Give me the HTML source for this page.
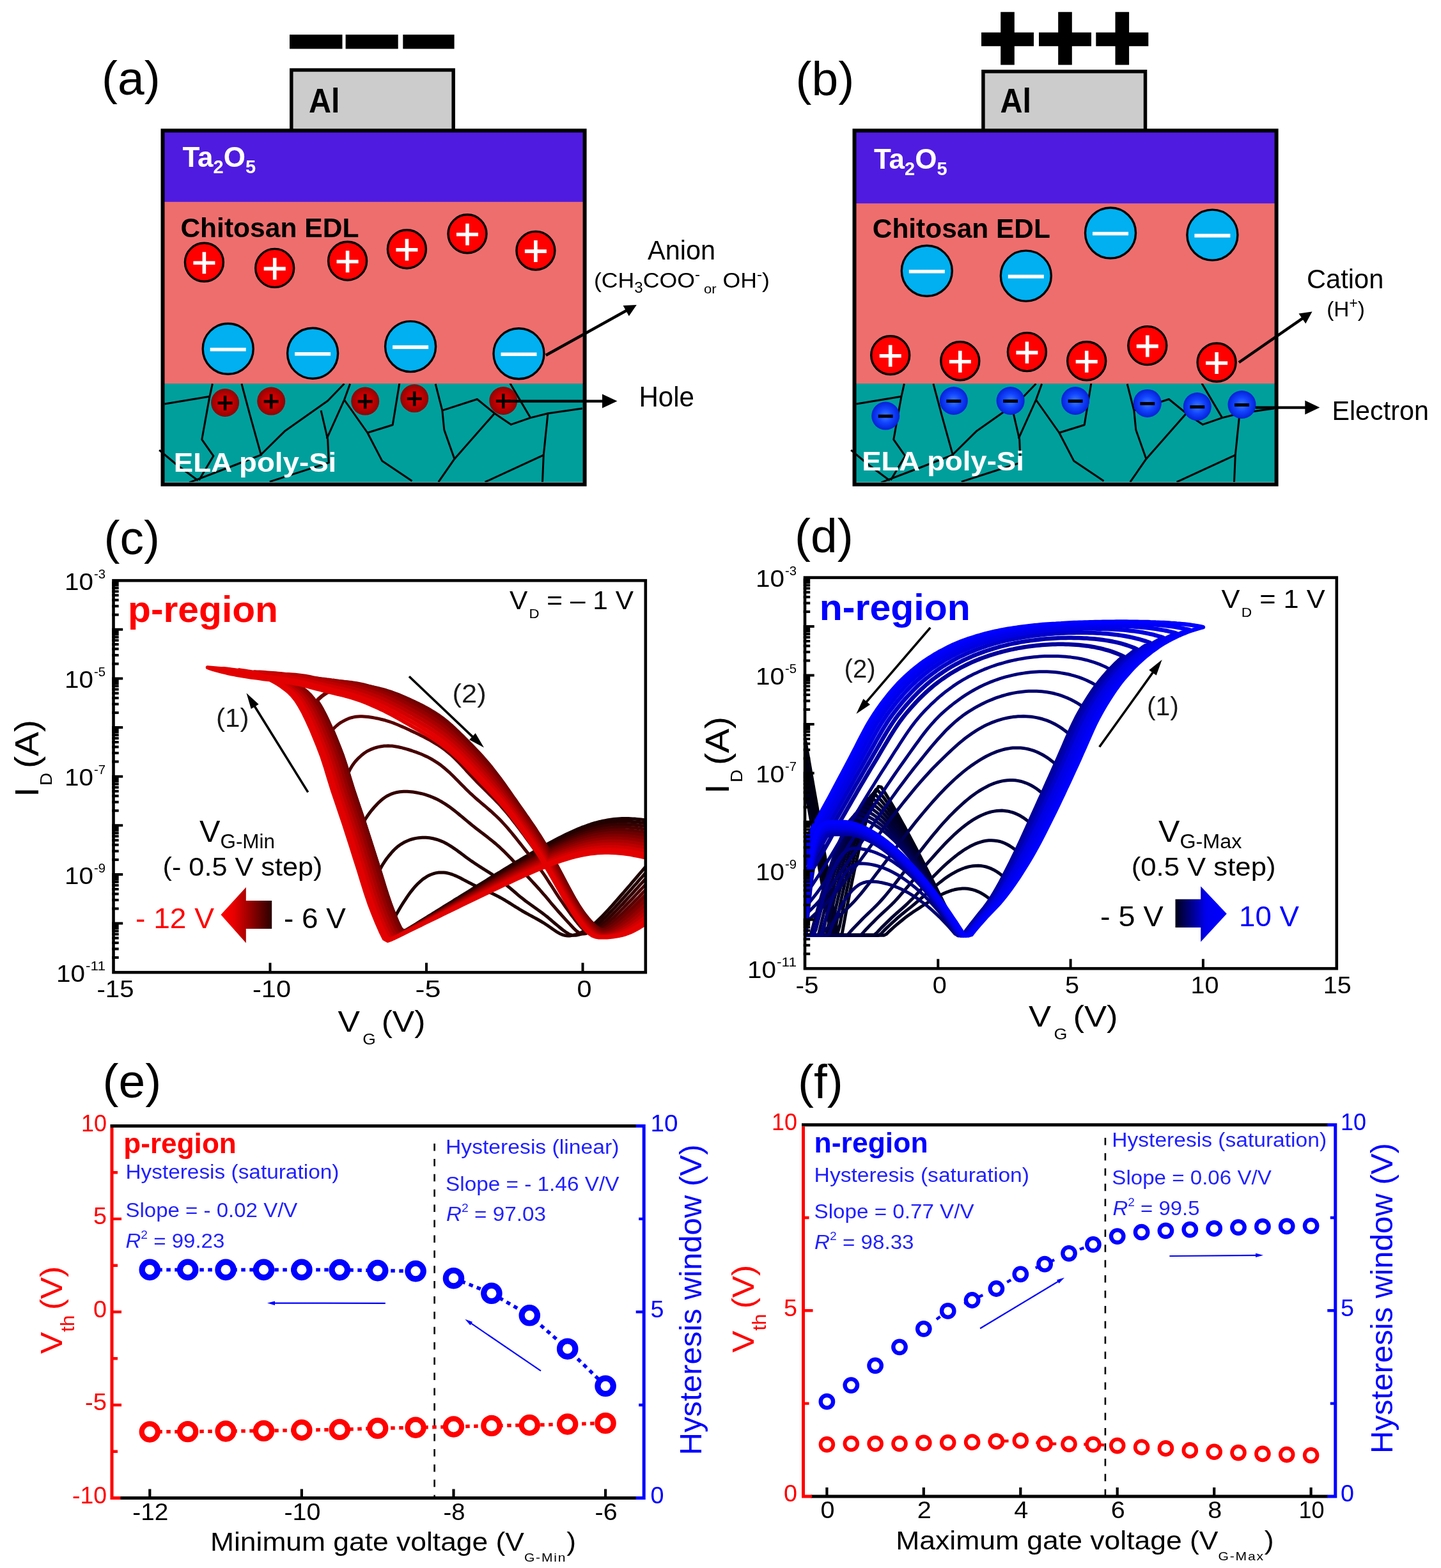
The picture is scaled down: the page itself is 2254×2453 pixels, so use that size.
<!DOCTYPE html>
<html lang="en">
<head>
<meta charset="utf-8">
<title>Figure</title>
<style>
html,body{margin:0;padding:0;background:#fff}
body{width:2254px;height:2453px;overflow:hidden;font-family:"Liberation Sans",sans-serif}
svg{display:block}
</style>
</head>
<body>
<svg width="2254" height="2453" viewBox="0 0 2254 2453" font-family='"Liberation Sans", sans-serif'>
<rect width="2254" height="2453" fill="#fff"/>
<defs><radialGradient id="gHole" cx="50%" cy="50%" r="50%"><stop offset="0" stop-color="#ee0000"/><stop offset="0.55" stop-color="#c40000"/><stop offset="1" stop-color="#8c0505"/></radialGradient><radialGradient id="gElec" cx="50%" cy="50%" r="50%"><stop offset="0" stop-color="#3f7bff"/><stop offset="0.5" stop-color="#1246ff"/><stop offset="1" stop-color="#0420d8"/></radialGradient></defs>
<rect x="455.8" y="109.5" width="253.4" height="96" fill="#cccccc" stroke="#000" stroke-width="5.5"/>
<rect x="252.5" y="202.3" width="664.1" height="114.5" fill="#4f1be0"/>
<rect x="252.5" y="315.8" width="664.1" height="284.2" fill="#ee6e6e"/>
<rect x="252.5" y="600" width="664.1" height="159.8" fill="#009f9c"/>
<clipPath id="clip0"><rect x="243.5" y="600" width="674.1" height="160.8"/></clipPath>
<g clip-path="url(#clip0)" fill="none" stroke="#000" stroke-width="3" stroke-linejoin="round"><polyline points="257.3,632.1 327.9,620.3"/><polyline points="332.4,600.3 327.9,620.3 315.8,687.6 333.9,713.3 311.2,751.2"/><polyline points="249.1,704.2 276.4,727 309.7,751.8"/><polyline points="296.1,754.8 361.2,730 409.7,711.2"/><polyline points="377.9,600.3 391.5,651.2 408.2,711.2 446.1,673.9 512.7,627 538.5,600.3"/><polyline points="502.1,642.1 512.7,687.6 514.2,723.9 421.8,753.6"/><polyline points="547.6,600.6 538.5,625.5 511.2,686.1"/><polyline points="538.5,625.5 574.8,677 597.6,720.9 644.5,752.4"/><polyline points="574.8,677 614.2,664.8 624.8,599.7"/><polyline points="681.2,600.6 691.8,642.1 694.8,672.4 710.9,717.9 685.8,754.2"/><polyline points="691.8,642.1 746.4,624.5 773.6,646.7 799.4,664.2 829.7,653.6 857,646.7 910.9,639.1"/><polyline points="710.9,717.9 773.6,646.7"/><polyline points="797.9,599.7 829.7,653.6"/><polyline points="857,646.7 850.3,711.8 848.5,754.2"/><polyline points="850.3,711.8 758.5,754.2"/></g>
<rect x="256.5" y="754.2" width="656.1" height="1.6" fill="#d8f0ee" opacity="0.85"/>
<rect x="254.5" y="204.3" width="660.1" height="553.5" fill="none" stroke="#000" stroke-width="6"/>
<rect x="453" y="54.2" width="82.5" height="22.2" fill="#000"/>
<rect x="540.6" y="54.2" width="82.1" height="22.2" fill="#000"/>
<rect x="630.3" y="54.2" width="80.3" height="22.2" fill="#000"/>
<text x="159" y="148" font-size="75">(a)</text>
<text x="483" y="175.5" font-size="54" font-weight="bold" textLength="48.5" lengthAdjust="spacingAndGlyphs">Al</text>
<text x="285.5" y="261" font-size="44" fill="#fff" font-weight="bold">Ta<tspan font-size="29" dy="10">2</tspan><tspan dy="-10">O</tspan><tspan font-size="29" dy="10">5</tspan></text>
<text x="282.4" y="371" font-size="42" font-weight="bold" textLength="279" lengthAdjust="spacingAndGlyphs">Chitosan EDL</text>
<circle cx="319.4" cy="410.3" r="30" fill="#fe0000" stroke="#000" stroke-width="3.4"/><path d="M302.4 411.3H336.4M319.4 394.3V428.3" stroke="#fff" stroke-width="5.6" fill="none"/>
<circle cx="429.7" cy="419.4" r="30" fill="#fe0000" stroke="#000" stroke-width="3.4"/><path d="M412.7 420.4H446.7M429.7 403.4V437.4" stroke="#fff" stroke-width="5.6" fill="none"/>
<circle cx="543.6" cy="408.2" r="30" fill="#fe0000" stroke="#000" stroke-width="3.4"/><path d="M526.6 409.2H560.6M543.6 392.2V426.2" stroke="#fff" stroke-width="5.6" fill="none"/>
<circle cx="636.4" cy="389.7" r="30" fill="#fe0000" stroke="#000" stroke-width="3.4"/><path d="M619.4 390.7H653.4M636.4 373.7V407.7" stroke="#fff" stroke-width="5.6" fill="none"/>
<circle cx="731" cy="365.8" r="30" fill="#fe0000" stroke="#000" stroke-width="3.4"/><path d="M714 366.8H748M731 349.8V383.8" stroke="#fff" stroke-width="5.6" fill="none"/>
<circle cx="837.9" cy="392.1" r="30" fill="#fe0000" stroke="#000" stroke-width="3.4"/><path d="M820.9 393.1H854.9M837.9 376.1V410.1" stroke="#fff" stroke-width="5.6" fill="none"/>
<circle cx="356.7" cy="545.8" r="39.5" fill="#00b0f0" stroke="#000" stroke-width="3.4"/><path d="M328.7 546.8H384.7" stroke="#fff" stroke-width="5.6" fill="none"/>
<circle cx="489.1" cy="552.7" r="39.5" fill="#00b0f0" stroke="#000" stroke-width="3.4"/><path d="M461.1 553.7H517.1" stroke="#fff" stroke-width="5.6" fill="none"/>
<circle cx="642.1" cy="542.1" r="39.5" fill="#00b0f0" stroke="#000" stroke-width="3.4"/><path d="M614.1 543.1H670.1" stroke="#fff" stroke-width="5.6" fill="none"/>
<circle cx="811.5" cy="553.3" r="39.5" fill="#00b0f0" stroke="#000" stroke-width="3.4"/><path d="M783.5 554.3H839.5" stroke="#fff" stroke-width="5.6" fill="none"/>
<circle cx="352.1" cy="630" r="22" fill="url(#gHole)"/><path d="M340.6 630.5H363.6M352.1 619V642" stroke="#000" stroke-width="4.6" fill="none"/>
<circle cx="424.2" cy="627.6" r="22" fill="url(#gHole)"/><path d="M412.7 628.1H435.7M424.2 616.6V639.6" stroke="#000" stroke-width="4.6" fill="none"/>
<circle cx="571.2" cy="627.6" r="22" fill="url(#gHole)"/><path d="M559.7 628.1H582.7M571.2 616.6V639.6" stroke="#000" stroke-width="4.6" fill="none"/>
<circle cx="648.2" cy="623.3" r="22" fill="url(#gHole)"/><path d="M636.7 623.8H659.7M648.2 612.3V635.3" stroke="#000" stroke-width="4.6" fill="none"/>
<circle cx="787.3" cy="627" r="22" fill="url(#gHole)"/><path d="M775.8 627.5H798.8M787.3 616V639" stroke="#000" stroke-width="4.6" fill="none"/>
<text x="271.8" y="737.6" font-size="42" fill="#fff" font-weight="bold" textLength="254.5" lengthAdjust="spacingAndGlyphs">ELA poly-Si</text>
<line x1="853.9" y1="555.8" x2="980.9" y2="485.3" stroke="#000" stroke-width="4.5"/><path d="M995.8 477L983.8 494.5L979.2 486.2L974.6 477.9Z" fill="#000"/>
<line x1="793.3" y1="627.6" x2="944" y2="627.6" stroke="#000" stroke-width="4.2"/><path d="M965.5 627.6L942 638.6L942 627.6L942 616.6Z" fill="#000"/>
<text x="1066" y="406.4" font-size="43" text-anchor="middle" textLength="106" lengthAdjust="spacingAndGlyphs">Anion</text>
<text x="929" y="449.7" font-size="34" textLength="275" lengthAdjust="spacingAndGlyphs">(CH<tspan font-size="23" dy="8">3</tspan><tspan dy="-8">COO</tspan><tspan font-size="23" dy="-13">-</tspan><tspan font-size="21" dy="22"> or</tspan><tspan dy="-9"> OH</tspan><tspan font-size="23" dy="-13">-</tspan><tspan dy="13">)</tspan></text>
<text x="999.4" y="636" font-size="44" textLength="86.5" lengthAdjust="spacingAndGlyphs">Hole</text>
<rect x="1537.9" y="111.8" width="253.6" height="94" fill="#cccccc" stroke="#000" stroke-width="5.5"/>
<rect x="1334.5" y="202.3" width="664.1" height="116.9" fill="#4f1be0"/>
<rect x="1334.5" y="318.2" width="664.1" height="281.8" fill="#ee6e6e"/>
<rect x="1334.5" y="600" width="664.1" height="159.8" fill="#009f9c"/>
<clipPath id="clip1082"><rect x="1325.5" y="600" width="674.1" height="160.8"/></clipPath>
<g clip-path="url(#clip1082)" fill="none" stroke="#000" stroke-width="3" stroke-linejoin="round"><polyline points="1339.3,632.1 1409.9,620.3"/><polyline points="1414.4,600.3 1409.9,620.3 1397.8,687.6 1415.9,713.3 1393.2,751.2"/><polyline points="1331.1,704.2 1358.4,727 1391.7,751.8"/><polyline points="1378.1,754.8 1443.2,730 1491.7,711.2"/><polyline points="1459.9,600.3 1473.5,651.2 1490.2,711.2 1528.1,673.9 1594.7,627 1620.5,600.3"/><polyline points="1584.1,642.1 1594.7,687.6 1596.2,723.9 1503.8,753.6"/><polyline points="1629.6,600.6 1620.5,625.5 1593.2,686.1"/><polyline points="1620.5,625.5 1656.8,677 1679.6,720.9 1726.5,752.4"/><polyline points="1656.8,677 1696.2,664.8 1706.8,599.7"/><polyline points="1763.2,600.6 1773.8,642.1 1776.8,672.4 1792.9,717.9 1767.8,754.2"/><polyline points="1773.8,642.1 1828.4,624.5 1855.6,646.7 1881.4,664.2 1911.7,653.6 1939,646.7 1992.9,639.1"/><polyline points="1792.9,717.9 1855.6,646.7"/><polyline points="1879.9,599.7 1911.7,653.6"/><polyline points="1939,646.7 1932.3,711.8 1930.5,754.2"/><polyline points="1932.3,711.8 1840.5,754.2"/></g>
<rect x="1338.5" y="754.2" width="656.1" height="1.6" fill="#d8f0ee" opacity="0.85"/>
<rect x="1336.5" y="204.3" width="660.1" height="553.5" fill="none" stroke="#000" stroke-width="6"/>
<path d="M1535 61.5H1617M1576 18.8V101.5" stroke="#000" stroke-width="21.6" fill="none"/>
<path d="M1625 61.5H1707M1666 18.8V101.5" stroke="#000" stroke-width="21.6" fill="none"/>
<path d="M1714.3 61.5H1796.3M1755.3 18.8V101.5" stroke="#000" stroke-width="21.6" fill="none"/>
<text x="1244.5" y="148.5" font-size="75">(b)</text>
<text x="1564.5" y="175.8" font-size="54" font-weight="bold" textLength="48.5" lengthAdjust="spacingAndGlyphs">Al</text>
<text x="1367" y="263.6" font-size="44" fill="#fff" font-weight="bold">Ta<tspan font-size="29" dy="10">2</tspan><tspan dy="-10">O</tspan><tspan font-size="29" dy="10">5</tspan></text>
<text x="1364.8" y="372.1" font-size="42" font-weight="bold" textLength="278" lengthAdjust="spacingAndGlyphs">Chitosan EDL</text>
<circle cx="1449.8" cy="423.8" r="39.5" fill="#00b0f0" stroke="#000" stroke-width="3.4"/><path d="M1421.8 424.8H1477.8" stroke="#fff" stroke-width="5.6" fill="none"/>
<circle cx="1604.8" cy="431.6" r="39.5" fill="#00b0f0" stroke="#000" stroke-width="3.4"/><path d="M1576.8 432.6H1632.8" stroke="#fff" stroke-width="5.6" fill="none"/>
<circle cx="1737" cy="364.5" r="39.5" fill="#00b0f0" stroke="#000" stroke-width="3.4"/><path d="M1709 365.5H1765" stroke="#fff" stroke-width="5.6" fill="none"/>
<circle cx="1896.4" cy="367.6" r="39.5" fill="#00b0f0" stroke="#000" stroke-width="3.4"/><path d="M1868.4 368.6H1924.4" stroke="#fff" stroke-width="5.6" fill="none"/>
<circle cx="1392.7" cy="555.8" r="30" fill="#fe0000" stroke="#000" stroke-width="3.4"/><path d="M1375.7 556.8H1409.7M1392.7 539.8V573.8" stroke="#fff" stroke-width="5.6" fill="none"/>
<circle cx="1501.8" cy="564.8" r="30" fill="#fe0000" stroke="#000" stroke-width="3.4"/><path d="M1484.8 565.8H1518.8M1501.8 548.8V582.8" stroke="#fff" stroke-width="5.6" fill="none"/>
<circle cx="1606.4" cy="550.6" r="30" fill="#fe0000" stroke="#000" stroke-width="3.4"/><path d="M1589.4 551.6H1623.4M1606.4 534.6V568.6" stroke="#fff" stroke-width="5.6" fill="none"/>
<circle cx="1699.7" cy="564.8" r="30" fill="#fe0000" stroke="#000" stroke-width="3.4"/><path d="M1682.7 565.8H1716.7M1699.7 548.8V582.8" stroke="#fff" stroke-width="5.6" fill="none"/>
<circle cx="1794.8" cy="540.6" r="30" fill="#fe0000" stroke="#000" stroke-width="3.4"/><path d="M1777.8 541.6H1811.8M1794.8 524.6V558.6" stroke="#fff" stroke-width="5.6" fill="none"/>
<circle cx="1903.1" cy="567" r="30" fill="#fe0000" stroke="#000" stroke-width="3.4"/><path d="M1886.1 568H1920.1M1903.1 551V585" stroke="#fff" stroke-width="5.6" fill="none"/>
<circle cx="1385.2" cy="650.6" r="22" fill="url(#gElec)"/><path d="M1373.7 651.1H1396.7" stroke="#000" stroke-width="5" fill="none"/>
<circle cx="1491.8" cy="627" r="22" fill="url(#gElec)"/><path d="M1480.3 627.5H1503.3" stroke="#000" stroke-width="5" fill="none"/>
<circle cx="1580.6" cy="627" r="22" fill="url(#gElec)"/><path d="M1569.1 627.5H1592.1" stroke="#000" stroke-width="5" fill="none"/>
<circle cx="1682.1" cy="627" r="22" fill="url(#gElec)"/><path d="M1670.6 627.5H1693.6" stroke="#000" stroke-width="5" fill="none"/>
<circle cx="1794.8" cy="630.9" r="22" fill="url(#gElec)"/><path d="M1783.3 631.4H1806.3" stroke="#000" stroke-width="5" fill="none"/>
<circle cx="1872.8" cy="636.1" r="22" fill="url(#gElec)"/><path d="M1861.3 636.6H1884.3" stroke="#000" stroke-width="5" fill="none"/>
<circle cx="1942.5" cy="633" r="22" fill="url(#gElec)"/><path d="M1931 633.5H1954" stroke="#000" stroke-width="5" fill="none"/>
<text x="1348.2" y="736.1" font-size="42" fill="#fff" font-weight="bold" textLength="253.6" lengthAdjust="spacingAndGlyphs">ELA poly-Si</text>
<line x1="1937.9" y1="567" x2="2038.5" y2="497.3" stroke="#000" stroke-width="4.5"/><path d="M2052.5 487.6L2042.3 506.2L2036.9 498.4L2031.5 490.6Z" fill="#000"/>
<line x1="1963.7" y1="637.6" x2="2043.3" y2="637.6" stroke="#000" stroke-width="4.2"/><path d="M2064.3 637.6L2041.3 648.6L2041.3 637.6L2041.3 626.6Z" fill="#000"/>
<text x="2044" y="451.2" font-size="43" textLength="120.3" lengthAdjust="spacingAndGlyphs">Cation</text>
<text x="2075.2" y="495.2" font-size="34" textLength="59.7" lengthAdjust="spacingAndGlyphs">(H<tspan font-size="23" dy="-13">+</tspan><tspan dy="13">)</tspan></text>
<text x="2083.4" y="657.3" font-size="43" textLength="151.5" lengthAdjust="spacingAndGlyphs">Electron</text>
<clipPath id="clipC"><rect x="177.5" y="908.2" width="832.3" height="613"/></clipPath>
<g clip-path="url(#clipC)" fill="none" stroke-width="5" stroke-linejoin="round" stroke-linecap="round"><path d="M1009.3 1283L1006 1282.5L1002.7 1282.1L999.4 1281.7L996.2 1281.4L992.9 1281.1L989.6 1280.9L986.3 1280.7L983 1280.6L979.7 1280.6L976.4 1280.6L973.1 1280.6L969.9 1280.8L966.6 1281L963.3 1281.2L960 1281.6L956.7 1282L953.4 1282.4L950.1 1283L946.8 1283.6L943.6 1284.2L940.3 1285L937 1285.7L933.7 1286.6L930.4 1287.5L927.1 1288.5L923.8 1289.5L920.5 1290.6L917.3 1291.8L914 1293L910.7 1294.2L907.4 1295.5L904.1 1296.9L900.8 1298.3L897.5 1299.7L894.2 1301.2L891 1302.7L887.7 1304.2L884.4 1305.8L881.1 1307.4L877.8 1309.1L874.5 1310.8L871.2 1312.5L867.9 1314.2L864.7 1315.9L861.4 1317.7L858.1 1319.5L854.8 1321.3L851.5 1323.1L848.2 1325L844.9 1326.8L841.6 1328.7L838.4 1330.6L835.1 1332.5L831.8 1334.4L828.5 1336.3L825.2 1338.3L821.9 1340.2L818.6 1342.1L815.3 1344.1L812.1 1346.1L808.8 1348L805.5 1350L802.2 1352L798.9 1354L795.6 1356L792.3 1357.9L789 1359.9L785.8 1361.9L782.5 1364L779.2 1366L775.9 1368L772.6 1370L769.3 1372L766 1374L762.7 1376L759.5 1378.1L756.2 1380.1L752.9 1382.1L749.6 1384.1L746.3 1386.2L743 1388.2L739.7 1390.2L736.4 1392.3L733.2 1394.3L729.9 1396.3L726.6 1398.4L723.3 1400.4L720 1402.4L716.7 1404.5L713.4 1406.5L710.1 1408.5L706.9 1410.6L703.6 1412.6L700.3 1414.6L697 1416.7L693.7 1418.7L690.4 1420.8L687.1 1422.8L683.8 1424.8L680.6 1426.9L677.3 1428.9L674 1431L670.7 1433L667.4 1435.1L664.1 1437.1L660.8 1439.1L657.5 1441.2L654.3 1443.2L651 1445.3L647.7 1447.3L644.4 1449.3L641.1 1451.4L637.8 1453.4L634.5 1455.3L631.2 1456.4L628 1454.7L624.7 1449.3L621.4 1442L618.1 1434.2L620.7 1429.2L623.4 1424.5L626 1420L628.6 1415.7L631.2 1411.6L633.9 1407.6L636.5 1403.6L639.1 1399.9L641.7 1396.3L644.4 1392.9L647 1389.7L649.6 1386.7L652.2 1383.8L654.9 1381.2L657.5 1378.8L660.1 1376.6L662.7 1374.6L665.4 1372.8L668 1371.2L670.6 1369.7L673.2 1368.5L675.9 1367.5L678.5 1366.6L681.1 1365.9L683.7 1365.4L686.4 1365L689 1364.9L691.6 1364.9L694.2 1365L696.9 1365.3L699.5 1365.8L702.1 1366.4L704.7 1367.2L707.4 1368L710 1369L712.6 1370.1L715.2 1371.3L717.9 1372.5L720.5 1373.8L723.1 1375.2L725.7 1376.6L728.4 1378L731 1379.4L733.6 1380.8L736.2 1382.1L738.9 1383.4L741.5 1384.7L744.1 1386L746.7 1387.2L749.4 1388.4L752 1389.6L754.6 1390.8L757.3 1392L759.9 1393.1L762.5 1394.3L765.1 1395.5L767.8 1396.7L770.4 1398L773 1399.2L775.6 1400.6L778.3 1401.9L780.9 1403.3L783.5 1404.7L786.1 1406.2L788.8 1407.7L791.4 1409.3L794 1410.9L796.6 1412.5L799.3 1414.2L801.9 1415.8L804.5 1417.5L807.1 1419.1L809.8 1420.7L812.4 1422.4L815 1423.9L817.6 1425.5L820.3 1427L822.9 1428.5L825.5 1429.9L828.1 1431.4L830.8 1432.8L833.4 1434.2L836 1435.6L838.6 1437L841.3 1438.5L843.9 1440L846.5 1441.5L849.1 1443.1L851.8 1444.7L854.4 1446.5L857 1448.2L859.6 1450L862.3 1451.9L864.9 1453.7L867.5 1455.5L870.1 1457.3L872.8 1458.9L875.4 1460.4L878 1461.6L880.7 1462.6L883.3 1463.4L885.9 1463.8L888.5 1464L891.2 1463.9L893.8 1463.6L896.4 1463.1L899 1462.4L901.7 1461.6L904.3 1460.7L906.9 1459.7L909.5 1458.5L912.2 1457.2L914.8 1455.7L917.4 1454.1L920 1452.3L922.7 1450.5L925.3 1448.5L927.9 1446.3L930.5 1444.1L933.2 1441.8L935.8 1439.3L938.4 1436.8L941 1434.2L943.7 1431.5L946.3 1428.8L948.9 1426L951.5 1423.2L954.2 1420.3L956.8 1417.4L959.4 1414.5L962 1411.5L964.7 1408.5L967.3 1405.5L969.9 1402.5L972.5 1399.5L975.2 1396.5L977.8 1393.4L980.4 1390.4L983 1387.3L985.7 1384.3L988.3 1381.2L990.9 1378.2L993.5 1375.1L996.2 1372L998.8 1368.9L1001.4 1365.9L1004 1362.8L1006.7 1359.7L1009.3 1356.6" stroke="#1e0000"/><path d="M1009.3 1287.8L1005.8 1287.2L1002.3 1286.8L998.8 1286.3L995.3 1286L991.8 1285.7L988.3 1285.4L984.9 1285.2L981.4 1285.1L977.9 1285L974.4 1285L970.9 1285.1L967.4 1285.2L963.9 1285.4L960.4 1285.7L956.9 1286.1L953.4 1286.5L949.9 1287L946.4 1287.6L942.9 1288.3L939.4 1289L936 1289.8L932.5 1290.7L929 1291.7L925.5 1292.7L922 1293.7L918.5 1294.9L915 1296.1L911.5 1297.4L908 1298.7L904.5 1300L901 1301.5L897.5 1302.9L894 1304.5L890.5 1306L887 1307.6L883.6 1309.3L880.1 1310.9L876.6 1312.7L873.1 1314.4L869.6 1316.2L866.1 1318L862.6 1319.8L859.1 1321.7L855.6 1323.5L852.1 1325.4L848.6 1327.3L845.1 1329.3L841.6 1331.2L838.1 1333.2L834.7 1335.1L831.2 1337.1L827.7 1339.1L824.2 1341.2L820.7 1343.2L817.2 1345.2L813.7 1347.2L810.2 1349.3L806.7 1351.4L803.2 1353.4L799.7 1355.5L796.2 1357.6L792.7 1359.6L789.2 1361.7L785.8 1363.8L782.3 1365.9L778.8 1368L775.3 1370.1L771.8 1372.2L768.3 1374.3L764.8 1376.4L761.3 1378.5L757.8 1380.6L754.3 1382.7L750.8 1384.9L747.3 1387L743.8 1389.1L740.4 1391.2L736.9 1393.3L733.4 1395.5L729.9 1397.6L726.4 1399.7L722.9 1401.8L719.4 1404L715.9 1406.1L712.4 1408.2L708.9 1410.3L705.4 1412.5L701.9 1414.6L698.4 1416.7L694.9 1418.9L691.5 1421L688 1423.1L684.5 1425.2L681 1427.4L677.5 1429.5L674 1431.6L670.5 1433.8L667 1435.9L663.5 1438L660 1440.2L656.5 1442.3L653 1444.4L649.5 1446.6L646 1448.7L642.5 1450.8L639.1 1452.9L635.6 1455L632.1 1456.4L628.6 1455.4L625.1 1450.1L621.6 1442.5L618.1 1434.2L614.6 1425.4L611.1 1416.2L607.6 1406.4L604.1 1395.8L600.6 1384.7L597.1 1373.3L593.7 1362L596.4 1356.4L599.2 1351.6L602 1347.3L604.8 1343.3L607.6 1339.7L610.4 1336.3L613.2 1333L616 1330L618.8 1327.3L621.5 1324.9L624.3 1322.7L627.1 1320.8L629.9 1319.1L632.7 1317.5L635.5 1316.2L638.3 1315L641.1 1313.9L643.9 1313L646.7 1312.3L649.4 1311.6L652.2 1311.1L655 1310.7L657.8 1310.4L660.6 1310.3L663.4 1310.2L666.2 1310.3L669 1310.5L671.8 1310.8L674.5 1311.2L677.3 1311.8L680.1 1312.5L682.9 1313.2L685.7 1314.2L688.5 1315.2L691.3 1316.3L694.1 1317.6L696.9 1319L699.7 1320.5L702.4 1322.2L705.2 1323.9L708 1325.7L710.8 1327.6L713.6 1329.5L716.4 1331.6L719.2 1333.6L722 1335.7L724.8 1337.8L727.6 1339.9L730.3 1342L733.1 1344L735.9 1346L738.7 1347.9L741.5 1349.8L744.3 1351.7L747.1 1353.5L749.9 1355.3L752.7 1357.1L755.4 1358.8L758.2 1360.6L761 1362.3L763.8 1364.1L766.6 1365.9L769.4 1367.7L772.2 1369.5L775 1371.5L777.8 1373.4L780.6 1375.5L783.3 1377.5L786.1 1379.7L788.9 1381.9L791.7 1384.2L794.5 1386.5L797.3 1388.9L800.1 1391.2L802.9 1393.6L805.7 1396L808.4 1398.4L811.2 1400.8L814 1403.1L816.8 1405.3L819.6 1407.5L822.4 1409.7L825.2 1411.8L828 1413.8L830.8 1415.8L833.6 1417.8L836.3 1419.7L839.1 1421.7L841.9 1423.7L844.7 1425.7L847.5 1427.8L850.3 1429.9L853.1 1432.1L855.9 1434.3L858.7 1436.6L861.5 1439L864.2 1441.4L867 1443.7L869.8 1446.1L872.6 1448.4L875.4 1450.7L878.2 1453L881 1455.2L883.8 1457.3L886.6 1459.2L889.3 1460.9L892.1 1462.2L894.9 1462.9L897.7 1463.3L900.5 1463.2L903.3 1462.7L906.1 1462.1L908.9 1461.3L911.7 1460.2L914.5 1459.1L917.2 1457.8L920 1456.3L922.8 1454.6L925.6 1452.9L928.4 1450.9L931.2 1448.8L934 1446.6L936.8 1444.3L939.6 1441.9L942.3 1439.3L945.1 1436.7L947.9 1433.9L950.7 1431.2L953.5 1428.3L956.3 1425.4L959.1 1422.4L961.9 1419.5L964.7 1416.4L967.5 1413.4L970.2 1410.3L973 1407.2L975.8 1404.1L978.6 1401L981.4 1397.9L984.2 1394.7L987 1391.6L989.8 1388.4L992.6 1385.2L995.4 1382.1L998.1 1378.9L1000.9 1375.7L1003.7 1372.6L1006.5 1369.4L1009.3 1366.2" stroke="#240000"/><path d="M1009.3 1292.6L1005.6 1292L1001.9 1291.5L998.2 1291L994.5 1290.6L990.8 1290.2L987.1 1289.9L983.4 1289.7L979.7 1289.5L976 1289.5L972.3 1289.5L968.6 1289.5L964.9 1289.7L961.2 1289.9L957.5 1290.2L953.8 1290.6L950.1 1291.1L946.4 1291.7L942.7 1292.3L939 1293L935.3 1293.8L931.6 1294.7L927.9 1295.7L924.2 1296.7L920.5 1297.8L916.8 1299L913.1 1300.3L909.4 1301.6L905.7 1302.9L902 1304.4L898.4 1305.9L894.7 1307.4L891 1309L887.3 1310.6L883.6 1312.3L879.9 1314.1L876.2 1315.8L872.5 1317.6L868.8 1319.5L865.1 1321.3L861.4 1323.2L857.7 1325.1L854 1327.1L850.3 1329.1L846.6 1331L842.9 1333.1L839.2 1335.1L835.5 1337.1L831.8 1339.2L828.1 1341.3L824.4 1343.3L820.7 1345.4L817 1347.6L813.3 1349.7L809.6 1351.8L805.9 1353.9L802.2 1356.1L798.5 1358.2L794.8 1360.4L791.1 1362.6L787.4 1364.7L783.7 1366.9L780 1369.1L776.3 1371.2L772.6 1373.4L768.9 1375.6L765.2 1377.8L761.5 1380L757.8 1382.2L754.1 1384.4L750.4 1386.6L746.7 1388.8L743 1391L739.3 1393.2L735.6 1395.4L731.9 1397.6L728.2 1399.8L724.5 1402L720.8 1404.3L717.1 1406.5L713.4 1408.7L709.7 1410.9L706 1413.1L702.3 1415.3L698.6 1417.5L694.9 1419.8L691.2 1422L687.5 1424.2L683.8 1426.4L680.1 1428.6L676.5 1430.8L672.8 1433.1L669.1 1435.3L665.4 1437.5L661.7 1439.7L658 1441.9L654.3 1444.1L650.6 1446.4L646.9 1448.6L643.2 1450.8L639.5 1453L635.8 1455.1L632.1 1456.6L628.4 1455.3L624.7 1449.3L621 1441.1L617.3 1432.1L613.6 1422.8L609.9 1412.8L606.2 1402.1L602.5 1390.6L598.8 1378.7L595.1 1366.6L591.4 1354.7L587.7 1343.1L584 1331.4L580.3 1319.7L576.6 1308.1L572.9 1296.7L569.2 1285.4L572.2 1280.3L575.1 1275.9L578.1 1271.8L581 1268L584 1264.5L586.9 1261.2L589.9 1258L592.8 1255.1L595.8 1252.4L598.7 1249.9L601.7 1247.8L604.6 1245.8L607.6 1244.2L610.6 1242.8L613.5 1241.6L616.5 1240.6L619.4 1239.8L622.4 1239.2L625.3 1238.8L628.3 1238.5L631.2 1238.3L634.2 1238.3L637.1 1238.3L640.1 1238.5L643 1238.7L646 1239.1L648.9 1239.5L651.9 1240L654.9 1240.6L657.8 1241.2L660.8 1241.9L663.7 1242.7L666.7 1243.6L669.6 1244.6L672.6 1245.7L675.5 1246.8L678.5 1248.1L681.4 1249.4L684.4 1250.8L687.3 1252.4L690.3 1254L693.3 1255.8L696.2 1257.6L699.2 1259.6L702.1 1261.6L705.1 1263.8L708 1266L711 1268.3L713.9 1270.6L716.9 1273L719.8 1275.5L722.8 1277.9L725.7 1280.4L728.7 1282.9L731.7 1285.4L734.6 1287.8L737.6 1290.2L740.5 1292.6L743.5 1294.9L746.4 1297.2L749.4 1299.5L752.3 1301.8L755.3 1304L758.2 1306.3L761.2 1308.6L764.1 1310.9L767.1 1313.2L770.1 1315.6L773 1318L776 1320.5L778.9 1323.1L781.9 1325.7L784.8 1328.5L787.8 1331.3L790.7 1334.2L793.7 1337.2L796.6 1340.2L799.6 1343.3L802.5 1346.5L805.5 1349.7L808.4 1352.9L811.4 1356.1L814.4 1359.3L817.3 1362.6L820.3 1365.8L823.2 1369L826.2 1372.2L829.1 1375.4L832.1 1378.6L835 1381.8L838 1385L840.9 1388.2L843.9 1391.5L846.8 1394.9L849.8 1398.3L852.8 1401.7L855.7 1405.2L858.7 1408.7L861.6 1412.3L864.6 1415.8L867.5 1419.2L870.5 1422.7L873.4 1426L876.4 1429.3L879.3 1432.6L882.3 1435.9L885.2 1439.1L888.2 1442.4L891.2 1445.6L894.1 1448.8L897.1 1451.9L900 1454.8L903 1457.4L905.9 1459.4L908.9 1460.6L911.8 1461L914.8 1460.8L917.7 1460L920.7 1459L923.6 1457.6L926.6 1456.1L929.6 1454.4L932.5 1452.5L935.5 1450.4L938.4 1448.2L941.4 1445.9L944.3 1443.4L947.3 1440.8L950.2 1438.1L953.2 1435.3L956.1 1432.5L959.1 1429.5L962 1426.6L965 1423.5L967.9 1420.4L970.9 1417.3L973.9 1414.2L976.8 1411L979.8 1407.8L982.7 1404.6L985.7 1401.4L988.6 1398.2L991.6 1395L994.5 1391.7L997.5 1388.5L1000.4 1385.2L1003.4 1381.9L1006.3 1378.7L1009.3 1375.4" stroke="#340000"/><path d="M1009.3 1297.4L1005.4 1296.8L1001.5 1296.2L997.6 1295.6L993.7 1295.2L989.8 1294.8L985.9 1294.4L982 1294.2L978.1 1294L974.2 1293.9L970.3 1293.9L966.4 1294L962.5 1294.1L958.6 1294.4L954.6 1294.7L950.7 1295.1L946.8 1295.7L942.9 1296.3L939 1297L935.1 1297.8L931.2 1298.6L927.3 1299.6L923.4 1300.7L919.5 1301.8L915.6 1303L911.7 1304.3L907.8 1305.6L903.9 1307L900 1308.5L896.1 1310.1L892.2 1311.7L888.3 1313.3L884.4 1315.1L880.5 1316.8L876.6 1318.6L872.7 1320.5L868.8 1322.3L864.9 1324.3L861 1326.2L857.1 1328.2L853.1 1330.2L849.2 1332.2L845.3 1334.3L841.4 1336.4L837.5 1338.5L833.6 1340.6L829.7 1342.7L825.8 1344.9L821.9 1347.1L818 1349.2L814.1 1351.4L810.2 1353.6L806.3 1355.8L802.4 1358.1L798.5 1360.3L794.6 1362.5L790.7 1364.7L786.8 1367L782.9 1369.2L779 1371.5L775.1 1373.8L771.2 1376L767.3 1378.3L763.4 1380.6L759.5 1382.8L755.6 1385.1L751.7 1387.4L747.7 1389.7L743.8 1392L739.9 1394.2L736 1396.5L732.1 1398.8L728.2 1401.1L724.3 1403.4L720.4 1405.7L716.5 1408L712.6 1410.3L708.7 1412.6L704.8 1414.9L700.9 1417.2L697 1419.5L693.1 1421.7L689.2 1424L685.3 1426.3L681.4 1428.6L677.5 1430.9L673.6 1433.2L669.7 1435.5L665.8 1437.8L661.9 1440.1L658 1442.4L654.1 1444.7L650.2 1447L646.2 1449.3L642.3 1451.6L638.4 1453.9L634.5 1455.9L630.6 1456.5L626.7 1452.3L622.8 1444.2L618.9 1435L615 1425.2L611.1 1414.9L607.2 1403.7L603.3 1391.7L599.4 1379.1L595.5 1366.4L591.6 1353.9L587.7 1341.6L583.8 1329.2L579.9 1316.9L576 1304.7L572.1 1292.6L568.2 1280.9L564.3 1269.4L560.4 1258L556.5 1246.4L552.6 1234.6L548.7 1222.1L544.8 1209.1L547.9 1202.9L551 1197.8L554.1 1193.4L557.2 1189.7L560.3 1186.4L563.5 1183.5L566.6 1180.7L569.7 1178.3L572.8 1176.2L575.9 1174.4L579 1172.9L582.2 1171.6L585.3 1170.4L588.4 1169.5L591.5 1168.6L594.6 1168L597.8 1167.5L600.9 1167.1L604 1166.9L607.1 1166.8L610.2 1166.9L613.3 1167.1L616.5 1167.5L619.6 1168L622.7 1168.5L625.8 1169.2L628.9 1169.9L632 1170.8L635.2 1171.6L638.3 1172.5L641.4 1173.5L644.5 1174.5L647.6 1175.6L650.8 1176.7L653.9 1177.8L657 1179L660.1 1180.3L663.2 1181.7L666.3 1183.1L669.5 1184.6L672.6 1186.3L675.7 1188L678.8 1189.8L681.9 1191.8L685.1 1193.9L688.2 1196.1L691.3 1198.5L694.4 1201L697.5 1203.6L700.6 1206.4L703.8 1209.2L706.9 1212.2L710 1215.3L713.1 1218.4L716.2 1221.6L719.3 1224.8L722.5 1228L725.6 1231.1L728.7 1234.2L731.8 1237.3L734.9 1240.3L738.1 1243.2L741.2 1246L744.3 1248.8L747.4 1251.5L750.5 1254.2L753.6 1256.8L756.8 1259.5L759.9 1262.1L763 1264.8L766.1 1267.5L769.2 1270.2L772.3 1273.1L775.5 1276L778.6 1279L781.7 1282.1L784.8 1285.3L787.9 1288.6L791.1 1292.1L794.2 1295.6L797.3 1299.3L800.4 1303L803.5 1306.9L806.6 1310.7L809.8 1314.7L812.9 1318.6L816 1322.5L819.1 1326.5L822.2 1330.4L825.4 1334.3L828.5 1338.2L831.6 1342.1L834.7 1346.1L837.8 1350.1L840.9 1354.2L844.1 1358.4L847.2 1362.7L850.3 1367.2L853.4 1371.7L856.5 1376.5L859.6 1381.3L862.8 1386.1L865.9 1391L869 1395.8L872.1 1400.6L875.2 1405.3L878.4 1409.9L881.5 1414.4L884.6 1418.8L887.7 1423.1L890.8 1427.4L893.9 1431.7L897.1 1435.8L900.2 1439.9L903.3 1443.8L906.4 1447.5L909.5 1451L912.6 1454.1L915.8 1456.7L918.9 1458.5L922 1459.3L925.1 1459.1L928.2 1458.2L931.4 1456.8L934.5 1455.2L937.6 1453.3L940.7 1451.2L943.8 1449L946.9 1446.6L950.1 1444.1L953.2 1441.4L956.3 1438.7L959.4 1435.8L962.5 1432.8L965.7 1429.8L968.8 1426.8L971.9 1423.6L975 1420.5L978.1 1417.2L981.2 1414L984.4 1410.8L987.5 1407.5L990.6 1404.2L993.7 1400.9L996.8 1397.6L999.9 1394.3L1003.1 1390.9L1006.2 1387.6L1009.3 1384.2" stroke="#460000"/><path d="M1009.3 1302.3L1005.2 1301.5L1001.1 1300.9L997 1300.3L992.9 1299.8L988.8 1299.3L984.6 1299L980.5 1298.7L976.4 1298.5L972.3 1298.3L968.2 1298.3L964.1 1298.4L960 1298.6L955.9 1298.8L951.8 1299.2L947.7 1299.7L943.6 1300.2L939.4 1300.9L935.3 1301.6L931.2 1302.5L927.1 1303.5L923 1304.5L918.9 1305.6L914.8 1306.9L910.7 1308.2L906.6 1309.5L902.5 1311L898.4 1312.5L894.2 1314.1L890.1 1315.8L886 1317.5L881.9 1319.3L877.8 1321.1L873.7 1323L869.6 1324.9L865.5 1326.8L861.4 1328.8L857.3 1330.9L853.1 1332.9L849 1335L844.9 1337.1L840.8 1339.3L836.7 1341.4L832.6 1343.6L828.5 1345.8L824.4 1348.1L820.3 1350.3L816.2 1352.5L812.1 1354.8L807.9 1357.1L803.8 1359.4L799.7 1361.7L795.6 1364L791.5 1366.3L787.4 1368.6L783.3 1370.9L779.2 1373.2L775.1 1375.6L771 1377.9L766.9 1380.2L762.7 1382.6L758.6 1384.9L754.5 1387.3L750.4 1389.6L746.3 1392L742.2 1394.4L738.1 1396.7L734 1399.1L729.9 1401.4L725.8 1403.8L721.7 1406.2L717.5 1408.5L713.4 1410.9L709.3 1413.3L705.2 1415.7L701.1 1418L697 1420.4L692.9 1422.8L688.8 1425.1L684.7 1427.5L680.6 1429.9L676.5 1432.3L672.3 1434.6L668.2 1437L664.1 1439.4L660 1441.8L655.9 1444.1L651.8 1446.5L647.7 1448.9L643.6 1451.3L639.5 1453.6L635.4 1455.8L631.2 1456.5L627.1 1452.1L623 1443.6L618.9 1433.8L614.8 1423.4L610.7 1412.4L606.6 1400.4L602.5 1387.5L598.4 1374.1L594.3 1360.8L590.2 1347.8L586 1334.8L581.9 1321.8L577.8 1308.9L573.7 1296.2L569.6 1283.7L565.5 1271.6L561.4 1259.5L557.3 1247.4L553.2 1235L549.1 1221.8L545 1208.1L540.8 1194.8L536.7 1182.5L532.6 1171.7L528.5 1161.3L524.4 1151.2L520.3 1141.5L523.6 1138L526.9 1135L530.1 1132.4L533.4 1130.2L536.7 1128.3L540 1126.6L543.3 1125L546.6 1123.7L549.8 1122.7L553.1 1121.9L556.4 1121.3L559.7 1120.9L563 1120.8L566.2 1120.7L569.5 1120.9L572.8 1121.2L576.1 1121.5L579.4 1122L582.7 1122.5L585.9 1123.1L589.2 1123.7L592.5 1124.4L595.8 1125.2L599.1 1126L602.3 1126.8L605.6 1127.8L608.9 1128.9L612.2 1130L615.5 1131.2L618.8 1132.5L622 1133.8L625.3 1135.2L628.6 1136.6L631.9 1138L635.2 1139.5L638.4 1141L641.7 1142.6L645 1144.1L648.3 1145.6L651.6 1147.2L654.9 1148.8L658.1 1150.4L661.4 1152.1L664.7 1153.7L668 1155.5L671.3 1157.2L674.5 1159.1L677.8 1161L681.1 1163L684.4 1165L687.7 1167.2L691 1169.5L694.2 1171.8L697.5 1174.3L700.8 1177L704.1 1179.7L707.4 1182.7L710.6 1185.7L713.9 1188.9L717.2 1192.3L720.5 1195.7L723.8 1199.3L727.1 1202.9L730.3 1206.5L733.6 1210.1L736.9 1213.6L740.2 1217.1L743.5 1220.6L746.7 1224L750 1227.3L753.3 1230.6L756.6 1233.8L759.9 1237.1L763.2 1240.3L766.4 1243.5L769.7 1246.7L773 1250L776.3 1253.4L779.6 1256.9L782.9 1260.4L786.1 1264.1L789.4 1267.8L792.7 1271.7L796 1275.7L799.3 1279.7L802.5 1283.9L805.8 1288.1L809.1 1292.5L812.4 1296.8L815.7 1301.2L819 1305.6L822.2 1310L825.5 1314.5L828.8 1318.9L832.1 1323.4L835.4 1328L838.6 1332.6L841.9 1337.2L845.2 1342L848.5 1347L851.8 1352.1L855.1 1357.3L858.3 1362.7L861.6 1368.2L864.9 1373.8L868.2 1379.4L871.5 1385.1L874.7 1390.7L878 1396.2L881.3 1401.6L884.6 1407L887.9 1412.2L891.2 1417.4L894.4 1422.4L897.7 1427.3L901 1432L904.3 1436.6L907.6 1440.9L910.8 1445L914.1 1448.9L917.4 1452.4L920.7 1455.4L924 1457.7L927.3 1458.9L930.5 1459L933.8 1458.3L937.1 1457.1L940.4 1455.4L943.7 1453.5L946.9 1451.4L950.2 1449.1L953.5 1446.6L956.8 1444L960.1 1441.2L963.4 1438.3L966.6 1435.4L969.9 1432.3L973.2 1429.2L976.5 1426L979.8 1422.8L983 1419.6L986.3 1416.3L989.6 1412.9L992.9 1409.6L996.2 1406.2L999.5 1402.9L1002.7 1399.5L1006 1396.1L1009.3 1392.7" stroke="#590000"/><path d="M1009.3 1307.1L1005 1306.3L1000.7 1305.6L996.4 1305L992 1304.4L987.7 1303.9L983.4 1303.5L979.1 1303.2L974.8 1302.9L970.5 1302.8L966.2 1302.8L961.8 1302.8L957.5 1303L953.2 1303.3L948.9 1303.7L944.6 1304.2L940.3 1304.8L936 1305.5L931.6 1306.3L927.3 1307.2L923 1308.3L918.7 1309.4L914.4 1310.6L910.1 1311.9L905.7 1313.3L901.4 1314.8L897.1 1316.4L892.8 1318L888.5 1319.7L884.2 1321.5L879.9 1323.3L875.5 1325.2L871.2 1327.1L866.9 1329.1L862.6 1331.1L858.3 1333.2L854 1335.3L849.7 1337.4L845.3 1339.6L841 1341.8L836.7 1344L832.4 1346.2L828.1 1348.5L823.8 1350.8L819.5 1353.1L815.1 1355.4L810.8 1357.7L806.5 1360.1L802.2 1362.4L797.9 1364.8L793.6 1367.1L789.2 1369.5L784.9 1371.9L780.6 1374.3L776.3 1376.7L772 1379.1L767.7 1381.5L763.4 1383.9L759 1386.3L754.7 1388.8L750.4 1391.2L746.1 1393.6L741.8 1396L737.5 1398.5L733.2 1400.9L728.8 1403.3L724.5 1405.8L720.2 1408.2L715.9 1410.7L711.6 1413.1L707.3 1415.5L703 1418L698.6 1420.4L694.3 1422.9L690 1425.3L685.7 1427.8L681.4 1430.2L677.1 1432.6L672.8 1435.1L668.4 1437.5L664.1 1440L659.8 1442.4L655.5 1444.9L651.2 1447.3L646.9 1449.8L642.5 1452.2L638.2 1454.6L633.9 1456.8L629.6 1456.7L625.3 1450.6L621 1441.1L616.7 1430.6L612.3 1419.5L608 1407.6L603.7 1394.5L599.4 1380.7L595.1 1366.6L590.8 1352.8L586.5 1339.2L582.1 1325.6L577.8 1312L573.5 1298.6L569.2 1285.4L564.9 1272.6L560.6 1260L556.3 1247.3L551.9 1234.2L547.6 1220.3L543.3 1205.9L539 1192.1L534.7 1179.5L530.4 1168.4L526.1 1157.6L521.7 1147.2L517.4 1137.1L513.1 1127.6L508.8 1118.6L504.5 1110.3L500.2 1102.8L495.9 1096.1L499.3 1092.7L502.7 1089.7L506.2 1087.1L509.6 1084.8L513.1 1082.7L516.5 1080.9L520 1079.1L523.4 1077.5L526.9 1076.1L530.3 1075L533.8 1074L537.2 1073.2L540.6 1072.6L544.1 1072.2L547.5 1071.9L551 1071.7L554.4 1071.7L557.9 1071.7L561.3 1071.9L564.8 1072.2L568.2 1072.6L571.7 1073.1L575.1 1073.7L578.6 1074.3L582 1075L585.4 1075.7L588.9 1076.4L592.3 1077.2L595.8 1078.1L599.2 1079L602.7 1079.9L606.1 1081L609.6 1082.1L613 1083.2L616.5 1084.5L619.9 1085.8L623.4 1087.1L626.8 1088.5L630.2 1090L633.7 1091.5L637.1 1093L640.6 1094.5L644 1096.1L647.5 1097.7L650.9 1099.4L654.4 1101L657.8 1102.8L661.3 1104.5L664.7 1106.3L668.1 1108.2L671.6 1110.1L675 1112.2L678.5 1114.3L681.9 1116.5L685.4 1118.8L688.8 1121.2L692.3 1123.7L695.7 1126.4L699.2 1129.1L702.6 1132L706.1 1135L709.5 1138.1L712.9 1141.4L716.4 1144.6L719.8 1148L723.3 1151.4L726.7 1154.9L730.2 1158.3L733.6 1161.8L737.1 1165.3L740.5 1168.9L744 1172.5L747.4 1176.1L750.9 1179.8L754.3 1183.6L757.7 1187.5L761.2 1191.4L764.6 1195.5L768.1 1199.7L771.5 1204L775 1208.5L778.4 1213L781.9 1217.6L785.3 1222.3L788.8 1227.1L792.2 1231.9L795.6 1236.8L799.1 1241.7L802.5 1246.6L806 1251.5L809.4 1256.5L812.9 1261.4L816.3 1266.3L819.8 1271.2L823.2 1276.2L826.7 1281.1L830.1 1286.1L833.6 1291.1L837 1296.2L840.4 1301.5L843.9 1306.8L847.3 1312.3L850.8 1318L854.2 1323.8L857.7 1329.8L861.1 1335.9L864.6 1342.2L868 1348.5L871.5 1354.9L874.9 1361.3L878.4 1367.8L881.8 1374.3L885.2 1380.8L888.7 1387.3L892.1 1393.7L895.6 1400.1L899 1406.2L902.5 1412.1L905.9 1417.7L909.4 1422.9L912.8 1427.9L916.3 1432.5L919.7 1436.7L923.2 1440.7L926.6 1444.3L930 1447.6L933.5 1450.5L936.9 1452.9L940.4 1454.5L943.8 1454.9L947.3 1454.3L950.7 1452.8L954.2 1450.8L957.6 1448.4L961.1 1445.8L964.5 1443.1L967.9 1440.2L971.4 1437.2L974.8 1434.1L978.3 1431L981.7 1427.8L985.2 1424.5L988.6 1421.2L992.1 1417.8L995.5 1414.4L999 1411L1002.4 1407.6L1005.9 1404.2L1009.3 1400.8" stroke="#6c0000" stroke-width="6"/><path d="M1009.3 1312L1004.8 1311.1L1000.3 1310.3L995.7 1309.6L991.2 1309L986.7 1308.5L982.2 1308L977.7 1307.7L973.1 1307.4L968.6 1307.2L964.1 1307.2L959.6 1307.3L955.1 1307.4L950.5 1307.7L946 1308.2L941.5 1308.7L937 1309.3L932.5 1310.1L927.9 1311L923.4 1312L918.9 1313.1L914.4 1314.3L909.9 1315.6L905.3 1317L900.8 1318.5L896.3 1320L891.8 1321.7L887.3 1323.4L882.7 1325.2L878.2 1327.1L873.7 1329L869.2 1331L864.7 1333.1L860.1 1335.2L855.6 1337.3L851.1 1339.4L846.6 1341.6L842.1 1343.9L837.5 1346.1L833 1348.4L828.5 1350.7L824 1353.1L819.5 1355.4L814.9 1357.8L810.4 1360.2L805.9 1362.6L801.4 1365L796.9 1367.4L792.3 1369.9L787.8 1372.3L783.3 1374.7L778.8 1377.2L774.3 1379.7L769.7 1382.1L765.2 1384.6L760.7 1387.1L756.2 1389.6L751.7 1392.1L747.1 1394.6L742.6 1397.1L738.1 1399.5L733.6 1402L729 1404.5L724.5 1407L720 1409.6L715.5 1412.1L711 1414.6L706.4 1417.1L701.9 1419.6L697.4 1422.1L692.9 1424.6L688.4 1427.1L683.8 1429.6L679.3 1432.1L674.8 1434.7L670.3 1437.2L665.8 1439.7L661.2 1442.2L656.7 1444.7L652.2 1447.2L647.7 1449.7L643.2 1452.3L638.6 1454.8L634.1 1457.2L629.6 1458.9L625.1 1456.5L620.6 1448L616 1437.5L611.5 1426.3L607 1414.3L602.5 1401.3L598 1387.1L593.4 1372.4L588.9 1357.8L584.4 1343.5L579.9 1329.3L575.4 1315L570.8 1300.9L566.3 1287.1L561.8 1273.6L557.3 1260.4L552.8 1247.1L548.2 1233.4L543.7 1218.7L539.2 1203.7L534.7 1189.3L530.2 1176.6L525.6 1165.1L521.1 1153.9L516.6 1143.1L512.1 1132.8L507.6 1123.1L503 1114L498.5 1105.8L494 1098.4L489.5 1092.1L485 1086.8L480.4 1082.4L475.9 1078.8L471.4 1075.5L475 1073.8L478.6 1072.6L482.2 1071.6L485.8 1070.7L489.5 1070L493.1 1069.4L496.7 1068.7L500.3 1068.2L503.9 1067.7L507.5 1067.3L511.1 1067L514.7 1066.8L518.3 1066.6L521.9 1066.5L525.6 1066.4L529.2 1066.5L532.8 1066.6L536.4 1066.7L540 1067L543.6 1067.3L547.2 1067.7L550.8 1068.1L554.4 1068.7L558 1069.3L561.7 1070L565.3 1070.7L568.9 1071.5L572.5 1072.4L576.1 1073.3L579.7 1074.3L583.3 1075.3L586.9 1076.4L590.5 1077.5L594.1 1078.6L597.8 1079.8L601.4 1081L605 1082.3L608.6 1083.7L612.2 1085.1L615.8 1086.6L619.4 1088.2L623 1089.8L626.6 1091.5L630.2 1093.2L633.9 1094.9L637.5 1096.7L641.1 1098.5L644.7 1100.3L648.3 1102.1L651.9 1104L655.5 1105.9L659.1 1107.8L662.7 1109.8L666.3 1111.8L670 1113.9L673.6 1116.1L677.2 1118.3L680.8 1120.7L684.4 1123.1L688 1125.7L691.6 1128.4L695.2 1131.2L698.8 1134.1L702.4 1137.1L706.1 1140.3L709.7 1143.6L713.3 1146.9L716.9 1150.4L720.5 1153.9L724.1 1157.5L727.7 1161.1L731.3 1164.8L734.9 1168.4L738.5 1172.2L742.2 1175.9L745.8 1179.8L749.4 1183.7L753 1187.6L756.6 1191.7L760.2 1195.9L763.8 1200.1L767.4 1204.5L771 1209L774.6 1213.5L778.3 1218.2L781.9 1222.9L785.5 1227.8L789.1 1232.7L792.7 1237.6L796.3 1242.6L799.9 1247.7L803.5 1252.7L807.1 1257.8L810.7 1263L814.4 1268.1L818 1273.2L821.6 1278.4L825.2 1283.5L828.8 1288.7L832.4 1294L836 1299.4L839.6 1304.8L843.2 1310.4L846.8 1316.2L850.5 1322.1L854.1 1328.2L857.7 1334.5L861.3 1340.9L864.9 1347.4L868.5 1354L872.1 1360.7L875.7 1367.5L879.3 1374.2L882.9 1381L886.6 1387.7L890.2 1394.4L893.8 1401L897.4 1407.3L901 1413.5L904.6 1419.3L908.2 1424.8L911.8 1430L915.4 1434.8L919 1439.3L922.7 1443.4L926.3 1447.2L929.9 1450.6L933.5 1453.6L937.1 1456L940.7 1457.5L944.3 1458L947.9 1457.4L951.5 1456.1L955.1 1454.3L958.8 1452.1L962.4 1449.7L966 1447.1L969.6 1444.4L973.2 1441.5L976.8 1438.4L980.4 1435.3L984 1432.1L987.6 1428.9L991.2 1425.5L994.9 1422.2L998.5 1418.8L1002.1 1415.3L1005.7 1411.9L1009.3 1408.4" stroke="#7f0000" stroke-width="6"/><path d="M1009.3 1316.9L1004.6 1316L999.8 1315.1L995.1 1314.3L990.4 1313.6L985.7 1313L980.9 1312.5L976.2 1312.2L971.5 1311.9L966.8 1311.7L962 1311.6L957.3 1311.7L952.6 1311.9L947.9 1312.2L943.1 1312.6L938.4 1313.2L933.7 1313.9L929 1314.7L924.2 1315.6L919.5 1316.7L914.8 1317.9L910.1 1319.1L905.3 1320.5L900.6 1322L895.9 1323.6L891.2 1325.3L886.4 1327L881.7 1328.9L877 1330.8L872.3 1332.7L867.5 1334.8L862.8 1336.9L858.1 1339L853.4 1341.2L848.6 1343.4L843.9 1345.7L839.2 1347.9L834.5 1350.3L829.7 1352.6L825 1355L820.3 1357.4L815.5 1359.8L810.8 1362.3L806.1 1364.7L801.4 1367.2L796.6 1369.6L791.9 1372.1L787.2 1374.6L782.5 1377.1L777.7 1379.7L773 1382.2L768.3 1384.7L763.6 1387.2L758.8 1389.8L754.1 1392.3L749.4 1394.9L744.7 1397.4L739.9 1400L735.2 1402.5L730.5 1405.1L725.8 1407.7L721 1410.2L716.3 1412.8L711.6 1415.4L706.9 1417.9L702.1 1420.5L697.4 1423.1L692.7 1425.6L688 1428.2L683.2 1430.8L678.5 1433.4L673.8 1435.9L669.1 1438.5L664.3 1441.1L659.6 1443.7L654.9 1446.2L650.2 1448.8L645.4 1451.4L640.7 1454L636 1456.5L631.2 1459.1L626.5 1461.1L621.8 1459.6L617.1 1451.2L612.3 1440.4L607.6 1428.8L602.9 1416.5L598.2 1403L593.4 1388.3L588.7 1373L584 1357.7L579.3 1342.8L574.5 1327.8L569.8 1312.9L565.1 1298.2L560.4 1283.9L555.6 1269.9L550.9 1256.1L546.2 1242L541.5 1227.3L536.7 1211.7L532 1196.2L527.3 1182L522.6 1169.7L517.8 1157.9L513.1 1146.4L508.4 1135.5L503.7 1125.1L498.9 1115.5L494.2 1106.8L489.5 1099L484.8 1092.3L480 1086.7L475.3 1082.2L470.6 1078.5L465.9 1075L461.1 1071.7L456.4 1068.7L451.7 1066L446.9 1063.5L450.7 1062.4L454.5 1061.6L458.3 1061L462 1060.6L465.8 1060.3L469.6 1060.2L473.4 1060.1L477.1 1060.1L480.9 1060.3L484.7 1060.5L488.5 1060.8L492.2 1061.2L496 1061.6L499.8 1062L503.6 1062.4L507.3 1062.8L511.1 1063.3L514.9 1063.7L518.7 1064.2L522.4 1064.6L526.2 1065.1L530 1065.7L533.8 1066.2L537.5 1066.8L541.3 1067.5L545.1 1068.2L548.9 1068.9L552.6 1069.7L556.4 1070.5L560.2 1071.4L563.9 1072.4L567.7 1073.4L571.5 1074.5L575.3 1075.6L579 1076.8L582.8 1078L586.6 1079.3L590.4 1080.6L594.1 1081.9L597.9 1083.3L601.7 1084.7L605.5 1086.2L609.2 1087.8L613 1089.5L616.8 1091.2L620.6 1092.9L624.3 1094.8L628.1 1096.6L631.9 1098.5L635.7 1100.5L639.4 1102.4L643.2 1104.4L647 1106.4L650.8 1108.5L654.5 1110.5L658.3 1112.6L662.1 1114.7L665.9 1116.9L669.6 1119.2L673.4 1121.5L677.2 1123.9L680.9 1126.3L684.7 1128.9L688.5 1131.7L692.3 1134.5L696 1137.4L699.8 1140.5L703.6 1143.7L707.4 1147.1L711.1 1150.5L714.9 1154L718.7 1157.7L722.5 1161.4L726.2 1165.1L730 1168.9L733.8 1172.8L737.6 1176.7L741.3 1180.6L745.1 1184.7L748.9 1188.8L752.7 1192.9L756.4 1197.2L760.2 1201.5L764 1206L767.8 1210.5L771.5 1215.1L775.3 1219.8L779.1 1224.6L782.9 1229.5L786.6 1234.4L790.4 1239.4L794.2 1244.5L797.9 1249.7L801.7 1254.9L805.5 1260.1L809.3 1265.4L813 1270.8L816.8 1276.1L820.6 1281.5L824.4 1286.9L828.1 1292.3L831.9 1297.8L835.7 1303.4L839.5 1309.1L843.2 1315L847 1321L850.8 1327.2L854.6 1333.6L858.3 1340.2L862.1 1346.9L865.9 1353.7L869.7 1360.7L873.4 1367.7L877.2 1374.7L881 1381.7L884.8 1388.7L888.5 1395.6L892.3 1402.4L896.1 1408.9L899.8 1415.3L903.6 1421.4L907.4 1427.1L911.2 1432.5L914.9 1437.5L918.7 1442.1L922.5 1446.4L926.3 1450.3L930 1453.8L933.8 1456.7L937.6 1458.9L941.4 1460.2L945.1 1460.5L948.9 1459.9L952.7 1458.7L956.5 1457.1L960.2 1455.1L964 1452.9L967.8 1450.5L971.6 1447.9L975.3 1445.1L979.1 1442.2L982.9 1439.1L986.7 1436L990.4 1432.7L994.2 1429.4L998 1426L1001.8 1422.6L1005.5 1419.2L1009.3 1415.7" stroke="#930000" stroke-width="6"/><path d="M1009.3 1321.8L1004.4 1320.8L999.4 1319.9L994.5 1319L989.6 1318.3L984.6 1317.6L979.7 1317.1L974.8 1316.7L969.9 1316.3L964.9 1316.1L960 1316.1L955.1 1316.1L950.1 1316.3L945.2 1316.6L940.3 1317.1L935.3 1317.7L930.4 1318.4L925.5 1319.3L920.5 1320.3L915.6 1321.4L910.7 1322.6L905.7 1324L900.8 1325.5L895.9 1327.1L891 1328.7L886 1330.5L881.1 1332.3L876.2 1334.3L871.2 1336.3L866.3 1338.3L861.4 1340.4L856.4 1342.6L851.5 1344.9L846.6 1347.1L841.6 1349.4L836.7 1351.8L831.8 1354.2L826.8 1356.6L821.9 1359L817 1361.5L812.1 1363.9L807.1 1366.4L802.2 1368.9L797.3 1371.5L792.3 1374L787.4 1376.6L782.5 1379.1L777.5 1381.7L772.6 1384.3L767.7 1386.8L762.7 1389.4L757.8 1392L752.9 1394.6L748 1397.2L743 1399.8L738.1 1402.4L733.2 1405.1L728.2 1407.7L723.3 1410.3L718.4 1412.9L713.4 1415.5L708.5 1418.2L703.6 1420.8L698.6 1423.4L693.7 1426L688.8 1428.7L683.8 1431.3L678.9 1433.9L674 1436.6L669.1 1439.2L664.1 1441.8L659.2 1444.5L654.3 1447.1L649.3 1449.7L644.4 1452.4L639.5 1455L634.5 1457.6L629.6 1460.2L624.7 1462.7L619.7 1463.3L614.8 1456.9L609.9 1446.1L605 1434.3L600 1421.8L595.1 1408.3L590.2 1393.4L585.2 1377.5L580.3 1361.5L575.4 1345.9L570.4 1330.3L565.5 1314.7L560.6 1299.4L555.6 1284.3L550.7 1269.8L545.8 1255.3L540.8 1240.7L535.9 1225.2L531 1208.8L526.1 1192.9L521.1 1178.5L516.2 1166L511.3 1153.7L506.3 1142L501.4 1130.8L496.5 1120.4L491.5 1110.8L486.6 1102.2L481.7 1094.7L476.7 1088.5L471.8 1083.4L466.9 1079.4L461.9 1075.7L457 1072.3L452.1 1069.1L447.2 1066.2L442.2 1063.6L437.3 1061.3L432.4 1059.4L427.4 1057.7L422.5 1056.1L426.4 1055.7L430.4 1055.4L434.3 1055.2L438.3 1055.1L442.2 1055L446.1 1055.1L450.1 1055.1L454 1055.3L457.9 1055.5L461.9 1055.8L465.8 1056.2L469.8 1056.7L473.7 1057.2L477.6 1057.8L481.6 1058.5L485.5 1059.3L489.5 1060.1L493.4 1060.9L497.3 1061.7L501.3 1062.5L505.2 1063.2L509.1 1064L513.1 1064.7L517 1065.5L521 1066.2L524.9 1067L528.8 1067.7L532.8 1068.5L536.7 1069.3L540.6 1070.2L544.6 1071L548.5 1072L552.5 1072.9L556.4 1073.9L560.3 1075L564.3 1076.1L568.2 1077.3L572.2 1078.5L576.1 1079.8L580 1081.2L584 1082.6L587.9 1084L591.8 1085.5L595.8 1087L599.7 1088.6L603.7 1090.3L607.6 1092L611.5 1093.8L615.5 1095.6L619.4 1097.6L623.4 1099.5L627.3 1101.6L631.2 1103.6L635.2 1105.7L639.1 1107.9L643 1110L647 1112.2L650.9 1114.3L654.9 1116.5L658.8 1118.8L662.7 1121L666.7 1123.4L670.6 1125.8L674.5 1128.2L678.5 1130.8L682.4 1133.4L686.4 1136.2L690.3 1139.1L694.2 1142.1L698.2 1145.2L702.1 1148.5L706.1 1151.9L710 1155.4L713.9 1159.1L717.9 1162.8L721.8 1166.6L725.7 1170.5L729.7 1174.5L733.6 1178.5L737.6 1182.6L741.5 1186.8L745.4 1191L749.4 1195.3L753.3 1199.7L757.3 1204.1L761.2 1208.7L765.1 1213.2L769.1 1217.9L773 1222.7L776.9 1227.5L780.9 1232.4L784.8 1237.4L788.8 1242.5L792.7 1247.6L796.6 1252.9L800.6 1258.2L804.5 1263.6L808.4 1269.1L812.4 1274.6L816.3 1280.1L820.3 1285.7L824.2 1291.3L828.1 1297L832.1 1302.8L836 1308.6L840 1314.6L843.9 1320.8L847.8 1327.1L851.8 1333.6L855.7 1340.3L859.6 1347.2L863.6 1354.3L867.5 1361.4L871.5 1368.6L875.4 1375.9L879.3 1383.2L883.3 1390.4L887.2 1397.5L891.2 1404.5L895.1 1411.3L899 1417.8L903 1424L906.9 1429.9L910.8 1435.5L914.8 1440.6L918.7 1445.4L922.7 1449.8L926.6 1453.7L930.5 1457.1L934.5 1459.8L938.4 1461.6L942.3 1462.5L946.3 1462.5L950.2 1461.8L954.2 1460.7L958.1 1459.3L962 1457.6L966 1455.6L969.9 1453.3L973.9 1450.9L977.8 1448.2L981.7 1445.4L985.7 1442.4L989.6 1439.3L993.5 1436.1L997.5 1432.8L1001.4 1429.4L1005.4 1426L1009.3 1422.5" stroke="#a80000" stroke-width="6"/><path d="M1009.3 1326.7L1004.2 1325.6L999 1324.7L993.9 1323.7L988.8 1322.9L983.6 1322.2L978.5 1321.6L973.3 1321.2L968.2 1320.8L963.1 1320.6L957.9 1320.5L952.8 1320.5L947.7 1320.7L942.5 1321.1L937.4 1321.5L932.3 1322.2L927.1 1323L922 1323.9L916.8 1324.9L911.7 1326.1L906.6 1327.4L901.4 1328.9L896.3 1330.4L891.2 1332.1L886 1333.8L880.9 1335.7L875.7 1337.6L870.6 1339.6L865.5 1341.7L860.3 1343.9L855.2 1346.1L850.1 1348.3L844.9 1350.7L839.8 1353L834.7 1355.4L829.5 1357.8L824.4 1360.3L819.2 1362.8L814.1 1365.3L809 1367.8L803.8 1370.3L798.7 1372.9L793.6 1375.5L788.4 1378.1L783.3 1380.7L778.2 1383.3L773 1385.9L767.9 1388.6L762.7 1391.2L757.6 1393.8L752.5 1396.5L747.3 1399.1L742.2 1401.8L737.1 1404.5L731.9 1407.1L726.8 1409.8L721.7 1412.5L716.5 1415.1L711.4 1417.8L706.2 1420.5L701.1 1423.2L696 1425.8L690.8 1428.5L685.7 1431.2L680.6 1433.9L675.4 1436.6L670.3 1439.2L665.2 1441.9L660 1444.6L654.9 1447.3L649.7 1450L644.6 1452.7L639.5 1455.3L634.3 1458L629.2 1460.7L624.1 1463.3L618.9 1465.5L613.8 1463.9L608.6 1454.4L603.5 1442.6L598.4 1430.1L593.2 1416.8L588.1 1402.1L583 1386L577.8 1369.3L572.7 1352.8L567.6 1336.7L562.4 1320.4L557.3 1304.3L552.1 1288.5L547 1273.3L541.9 1258.2L536.7 1243L531.6 1227.1L526.5 1210.1L521.3 1193.4L516.2 1178.4L511.1 1165.3L505.9 1152.6L500.8 1140.5L495.6 1128.9L490.5 1118.2L485.4 1108.5L480.2 1099.8L475.1 1092.5L470 1086.4L464.8 1081.6L459.7 1077.6L454.6 1073.9L449.4 1070.5L444.3 1067.3L439.1 1064.5L434 1062L428.9 1059.9L423.7 1058.1L418.6 1056.4L413.5 1054.9L408.3 1053.6L403.2 1052.4L398.1 1051.3L402.2 1051.4L406.3 1051.6L410.4 1051.8L414.5 1052.1L418.6 1052.4L422.7 1052.7L426.8 1053L430.9 1053.3L435 1053.7L439.1 1054.1L443.2 1054.5L447.3 1055L451.4 1055.5L455.5 1056.1L459.6 1056.7L463.7 1057.3L467.8 1058L471.9 1058.8L476 1059.6L480.1 1060.5L484.2 1061.4L488.3 1062.4L492.4 1063.3L496.5 1064.3L500.6 1065.3L504.7 1066.2L508.8 1067.1L512.9 1068.1L517 1068.9L521.1 1069.8L525.2 1070.7L529.3 1071.6L533.4 1072.5L537.5 1073.4L541.6 1074.4L545.7 1075.4L549.8 1076.5L553.9 1077.6L558 1078.7L562.1 1079.9L566.2 1081.2L570.3 1082.6L574.5 1084L578.6 1085.4L582.7 1087L586.8 1088.5L590.9 1090.1L595 1091.8L599.1 1093.6L603.2 1095.4L607.3 1097.2L611.4 1099.2L615.5 1101.2L619.6 1103.3L623.7 1105.4L627.8 1107.6L631.9 1109.8L636 1112.1L640.1 1114.4L644.2 1116.6L648.3 1118.9L652.4 1121.3L656.5 1123.6L660.6 1126L664.7 1128.4L668.8 1130.8L672.9 1133.4L677 1136L681.1 1138.7L685.2 1141.6L689.3 1144.5L693.4 1147.6L697.5 1150.8L701.6 1154.2L705.7 1157.7L709.8 1161.3L713.9 1165L718 1168.9L722.1 1172.9L726.2 1176.9L730.3 1181.1L734.4 1185.3L738.5 1189.7L742.6 1194L746.7 1198.5L750.9 1203L755 1207.5L759.1 1212.1L763.2 1216.8L767.3 1221.5L771.4 1226.3L775.5 1231.1L779.6 1236.1L783.7 1241.1L787.8 1246.3L791.9 1251.5L796 1256.9L800.1 1262.3L804.2 1267.9L808.3 1273.5L812.4 1279.2L816.5 1285L820.6 1290.8L824.7 1296.6L828.8 1302.6L832.9 1308.6L837 1314.8L841.1 1321L845.2 1327.5L849.3 1334.1L853.4 1341L857.5 1348.1L861.6 1355.3L865.7 1362.7L869.8 1370.1L873.9 1377.6L878 1385.1L882.1 1392.5L886.2 1399.9L890.3 1407L894.4 1414L898.5 1420.7L902.6 1427L906.7 1433.1L910.8 1438.8L914.9 1444.1L919 1448.9L923.2 1453.3L927.3 1457.2L931.4 1460.3L935.5 1462.5L939.6 1463.7L943.7 1464.1L947.8 1463.9L951.9 1463.3L956 1462.3L960.1 1461L964.2 1459.5L968.3 1457.7L972.4 1455.6L976.5 1453.3L980.6 1450.8L984.7 1448.1L988.8 1445.2L992.9 1442.1L997 1439L1001.1 1435.7L1005.2 1432.4L1009.3 1429" stroke="#bc0000" stroke-width="6"/><path d="M1009.3 1331.7L1004 1330.5L998.6 1329.4L993.3 1328.5L987.9 1327.6L982.6 1326.8L977.2 1326.2L971.9 1325.7L966.6 1325.3L961.2 1325L955.9 1324.9L950.5 1325L945.2 1325.1L939.9 1325.5L934.5 1326L929.2 1326.7L923.8 1327.5L918.5 1328.4L913.1 1329.6L907.8 1330.8L902.5 1332.2L897.1 1333.7L891.8 1335.3L886.4 1337.1L881.1 1338.9L875.7 1340.8L870.4 1342.9L865.1 1345L859.7 1347.1L854.4 1349.4L849 1351.6L843.7 1354L838.4 1356.4L833 1358.8L827.7 1361.3L822.3 1363.8L817 1366.3L811.6 1368.9L806.3 1371.4L801 1374L795.6 1376.6L790.3 1379.3L784.9 1381.9L779.6 1384.6L774.3 1387.2L768.9 1389.9L763.6 1392.6L758.2 1395.2L752.9 1397.9L747.5 1400.6L742.2 1403.3L736.9 1406L731.5 1408.7L726.2 1411.5L720.8 1414.2L715.5 1416.9L710.1 1419.6L704.8 1422.3L699.5 1425.1L694.1 1427.8L688.8 1430.5L683.4 1433.2L678.1 1436L672.8 1438.7L667.4 1441.4L662.1 1444.1L656.7 1446.9L651.4 1449.6L646 1452.3L640.7 1455.1L635.4 1457.8L630 1460.5L624.7 1463.2L619.3 1465.9L614 1467.8L608.6 1464.4L603.3 1453.5L598 1441.1L592.6 1428L587.3 1413.9L581.9 1398.2L576.6 1381.2L571.3 1363.9L565.9 1346.9L560.6 1330L555.2 1313.2L549.9 1296.6L544.5 1280.4L539.2 1264.7L533.9 1249L528.5 1232.8L523.2 1215.4L517.8 1197.8L512.5 1181.7L507.2 1167.8L501.8 1154.5L496.5 1141.8L491.1 1129.7L485.8 1118.5L480.4 1108.4L475.1 1099.4L469.8 1091.9L464.4 1085.7L459.1 1080.9L453.7 1076.8L448.4 1073L443 1069.5L437.7 1066.4L432.4 1063.5L427 1061.1L421.7 1059L416.3 1057.2L411 1055.6L405.7 1054.1L400.3 1052.8L395 1051.7L389.6 1050.7L384.3 1049.8L378.9 1049L373.6 1048.3L377.9 1049L382.1 1049.6L386.4 1050.2L390.7 1050.8L394.9 1051.4L399.2 1052L403.5 1052.5L407.7 1053.1L412 1053.6L416.3 1054.1L420.5 1054.7L424.8 1055.2L429.1 1055.8L433.3 1056.3L437.6 1056.9L441.9 1057.5L446.1 1058.1L450.4 1058.7L454.7 1059.4L458.9 1060.1L463.2 1060.9L467.5 1061.7L471.7 1062.6L476 1063.5L480.3 1064.5L484.5 1065.5L488.8 1066.6L493.1 1067.7L497.3 1068.7L501.6 1069.8L505.9 1070.8L510.1 1071.8L514.4 1072.8L518.7 1073.8L522.9 1074.8L527.2 1075.7L531.5 1076.7L535.7 1077.7L540 1078.7L544.3 1079.8L548.5 1080.9L552.8 1082.1L557.1 1083.3L561.3 1084.6L565.6 1086L569.9 1087.5L574.1 1089.1L578.4 1090.7L582.7 1092.3L586.9 1094.1L591.2 1095.8L595.5 1097.7L599.7 1099.6L604 1101.6L608.3 1103.6L612.5 1105.7L616.8 1107.9L621.1 1110.2L625.3 1112.5L629.6 1114.8L633.9 1117.2L638.1 1119.6L642.4 1122L646.7 1124.4L650.9 1126.9L655.2 1129.3L659.5 1131.8L663.7 1134.3L668 1136.8L672.3 1139.5L676.5 1142.2L680.8 1145L685.1 1147.9L689.3 1151L693.6 1154.1L697.8 1157.5L702.1 1160.9L706.4 1164.6L710.6 1168.3L714.9 1172.2L719.2 1176.3L723.4 1180.4L727.7 1184.7L732 1189.1L736.2 1193.5L740.5 1198.1L744.8 1202.6L749 1207.3L753.3 1211.9L757.6 1216.6L761.8 1221.3L766.1 1226.1L770.4 1230.9L774.6 1235.8L778.9 1240.8L783.2 1245.9L787.4 1251.1L791.7 1256.4L796 1261.9L800.2 1267.5L804.5 1273.2L808.8 1279L813 1285L817.3 1290.9L821.6 1297L825.8 1303.1L830.1 1309.3L834.4 1315.6L838.6 1322.1L842.9 1328.7L847.2 1335.5L851.4 1342.5L855.7 1349.7L860 1357.1L864.2 1364.7L868.5 1372.4L872.8 1380.1L877 1387.8L881.3 1395.4L885.6 1402.9L889.8 1410.2L894.1 1417.3L898.4 1424.1L902.6 1430.6L906.9 1436.8L911.2 1442.6L915.4 1447.9L919.7 1452.8L924 1457.1L928.2 1460.6L932.5 1463.1L936.8 1464.6L941 1465.2L945.3 1465.3L949.6 1464.9L953.8 1464.3L958.1 1463.4L962.4 1462.3L966.6 1461L970.9 1459.4L975.2 1457.5L979.4 1455.4L983.7 1453L988 1450.4L992.2 1447.6L996.5 1444.6L1000.8 1441.5L1005 1438.3L1009.3 1434.9" stroke="#d10000" stroke-width="6"/><path d="M1009.3 1336.6L1003.8 1335.4L998.2 1334.2L992.7 1333.2L987.1 1332.3L981.6 1331.4L976 1330.7L970.5 1330.2L964.9 1329.7L959.4 1329.5L953.8 1329.3L948.3 1329.4L942.7 1329.6L937.2 1329.9L931.6 1330.4L926.1 1331.1L920.5 1332L915 1333L909.4 1334.2L903.9 1335.5L898.4 1336.9L892.8 1338.5L887.3 1340.2L881.7 1342L876.2 1343.9L870.6 1346L865.1 1348.1L859.5 1350.2L854 1352.5L848.4 1354.8L842.9 1357.1L837.3 1359.6L831.8 1362L826.2 1364.5L820.7 1367.1L815.1 1369.6L809.6 1372.2L804 1374.8L798.5 1377.5L792.9 1380.1L787.4 1382.8L781.9 1385.5L776.3 1388.2L770.8 1390.9L765.2 1393.6L759.7 1396.3L754.1 1399L748.6 1401.8L743 1404.5L737.5 1407.2L731.9 1410L726.4 1412.7L720.8 1415.5L715.3 1418.2L709.7 1421L704.2 1423.8L698.6 1426.5L693.1 1429.3L687.5 1432.1L682 1434.8L676.5 1437.6L670.9 1440.4L665.4 1443.1L659.8 1445.9L654.3 1448.7L648.7 1451.4L643.2 1454.2L637.6 1457L632.1 1459.7L626.5 1462.5L621 1465.3L615.4 1468L609.9 1469.9L604.3 1465.9L598.8 1454.4L593.2 1441.5L587.7 1427.9L582.1 1413.2L576.6 1396.8L571 1379.1L565.5 1361.1L560 1343.5L554.4 1326L548.9 1308.5L543.3 1291.4L537.8 1274.8L532.2 1258.6L526.7 1242.2L521.1 1224.8L515.6 1206.4L510 1188.7L504.5 1173.4L498.9 1159.5L493.4 1146L487.8 1133.3L482.3 1121.4L476.7 1110.6L471.2 1101L465.6 1092.9L460.1 1086.3L454.6 1081.2L449 1077L443.5 1073L437.9 1069.4L432.4 1066.1L426.8 1063.2L421.3 1060.7L415.7 1058.7L410.2 1056.8L404.6 1055.2L399.1 1053.7L393.5 1052.4L388 1051.3L382.4 1050.3L376.9 1049.4L371.3 1048.6L365.8 1047.9L360.2 1047.2L354.7 1046.6L349.1 1046L353.6 1047.2L358 1048.3L362.4 1049.3L366.9 1050.3L371.3 1051.2L375.7 1052L380.2 1052.8L384.6 1053.6L389 1054.3L393.5 1055L397.9 1055.7L402.3 1056.3L406.7 1056.9L411.2 1057.5L415.6 1058.1L420 1058.7L424.5 1059.3L428.9 1059.9L433.3 1060.5L437.8 1061.2L442.2 1061.8L446.6 1062.5L451.1 1063.2L455.5 1063.9L459.9 1064.7L464.3 1065.5L468.8 1066.4L473.2 1067.4L477.6 1068.4L482.1 1069.5L486.5 1070.6L490.9 1071.8L495.4 1072.9L499.8 1074L504.2 1075.2L508.6 1076.2L513.1 1077.3L517.5 1078.3L521.9 1079.4L526.4 1080.4L530.8 1081.4L535.2 1082.5L539.7 1083.6L544.1 1084.7L548.5 1085.9L553 1087.2L557.4 1088.6L561.8 1090L566.2 1091.5L570.7 1093.2L575.1 1094.9L579.5 1096.6L584 1098.5L588.4 1100.4L592.8 1102.3L597.3 1104.3L601.7 1106.4L606.1 1108.6L610.6 1110.8L615 1113.1L619.4 1115.5L623.8 1117.9L628.3 1120.4L632.7 1122.9L637.1 1125.4L641.6 1128L646 1130.5L650.4 1133L654.9 1135.6L659.3 1138.2L663.7 1140.8L668.1 1143.4L672.6 1146.2L677 1149L681.4 1151.9L685.9 1154.9L690.3 1158.1L694.7 1161.4L699.2 1164.9L703.6 1168.5L708 1172.3L712.5 1176.2L716.9 1180.3L721.3 1184.6L725.7 1189L730.2 1193.5L734.6 1198.1L739 1202.8L743.5 1207.5L747.9 1212.2L752.3 1216.9L756.8 1221.7L761.2 1226.5L765.6 1231.3L770.1 1236.2L774.5 1241.1L778.9 1246.1L783.3 1251.3L787.8 1256.6L792.2 1262.1L796.6 1267.7L801.1 1273.4L805.5 1279.3L809.9 1285.4L814.4 1291.5L818.8 1297.7L823.2 1304L827.6 1310.4L832.1 1316.9L836.5 1323.5L840.9 1330.3L845.4 1337.2L849.8 1344.4L854.2 1351.8L858.7 1359.4L863.1 1367.2L867.5 1375.1L872 1383L876.4 1390.9L880.8 1398.7L885.2 1406.4L889.7 1413.8L894.1 1421L898.5 1427.9L903 1434.5L907.4 1440.8L911.8 1446.6L916.3 1452L920.7 1456.8L925.1 1460.7L929.6 1463.5L934 1465.1L938.4 1465.9L942.8 1466.1L947.3 1466L951.7 1465.6L956.1 1465.1L960.6 1464.3L965 1463.4L969.4 1462.2L973.9 1460.7L978.3 1459L982.7 1457L987.1 1454.8L991.6 1452.3L996 1449.6L1000.4 1446.7L1004.9 1443.6L1009.3 1440.4" stroke="#e20000" stroke-width="6"/><path d="M1009.3 1341.6L1003.5 1340.3L997.8 1339.1L992 1338L986.3 1336.9L980.5 1336.1L974.8 1335.3L969 1334.7L963.3 1334.2L957.5 1333.9L951.8 1333.8L946 1333.8L940.3 1334L934.5 1334.3L928.8 1334.9L923 1335.6L917.3 1336.5L911.5 1337.6L905.7 1338.8L900 1340.1L894.2 1341.7L888.5 1343.3L882.7 1345.1L877 1347L871.2 1348.9L865.5 1351L859.7 1353.2L854 1355.5L848.2 1357.8L842.5 1360.1L836.7 1362.6L831 1365.1L825.2 1367.6L819.5 1370.1L813.7 1372.7L807.9 1375.4L802.2 1378L796.4 1380.7L790.7 1383.4L784.9 1386.1L779.2 1388.8L773.4 1391.5L767.7 1394.2L761.9 1397L756.2 1399.7L750.4 1402.5L744.7 1405.3L738.9 1408.1L733.2 1410.8L727.4 1413.6L721.7 1416.4L715.9 1419.2L710.1 1422L704.4 1424.8L698.6 1427.6L692.9 1430.4L687.1 1433.2L681.4 1436L675.6 1438.8L669.9 1441.6L664.1 1444.4L658.4 1447.2L652.6 1450L646.9 1452.8L641.1 1455.6L635.4 1458.4L629.6 1461.2L623.9 1464L618.1 1466.8L612.3 1469.6L606.6 1471.8L600.8 1468.7L595.1 1457.1L589.3 1443.8L583.6 1429.8L577.8 1414.8L572.1 1398L566.3 1379.6L560.6 1360.9L554.8 1342.8L549.1 1324.6L543.3 1306.5L537.6 1288.8L531.8 1271.7L526.1 1254.9L520.3 1237.7L514.5 1219.2L508.8 1200.2L503 1182.6L497.3 1167.6L491.5 1153.3L485.8 1139.7L480 1126.9L474.3 1115.1L468.5 1104.7L462.8 1095.7L457 1088.3L451.3 1082.6L445.5 1078L439.8 1073.8L434 1070L428.3 1066.6L422.5 1063.5L416.7 1060.9L411 1058.7L405.2 1056.8L399.5 1055.1L393.7 1053.6L388 1052.3L382.2 1051.1L376.5 1050.1L370.7 1049.2L365 1048.4L359.2 1047.7L353.5 1047L347.7 1046.3L342 1045.7L336.2 1045.2L330.5 1044.7L324.7 1044.2L329.3 1045.9L333.9 1047.4L338.5 1048.7L343.1 1049.9L347.7 1051.1L352.3 1052.2L356.9 1053.2L361.5 1054.2L366.1 1055.1L370.6 1056L375.2 1056.8L379.8 1057.6L384.4 1058.3L389 1059L393.6 1059.7L398.2 1060.3L402.8 1060.9L407.4 1061.5L412 1062.2L416.6 1062.8L421.2 1063.4L425.8 1064L430.4 1064.6L435 1065.2L439.6 1065.9L444.2 1066.6L448.8 1067.3L453.3 1068L457.9 1068.8L462.5 1069.7L467.1 1070.6L471.7 1071.7L476.3 1072.7L480.9 1073.9L485.5 1075.1L490.1 1076.3L494.7 1077.5L499.3 1078.7L503.9 1079.9L508.5 1081.1L513.1 1082.2L517.7 1083.3L522.3 1084.4L526.9 1085.5L531.5 1086.6L536.1 1087.7L540.6 1088.9L545.2 1090.1L549.8 1091.4L554.4 1092.9L559 1094.4L563.6 1096L568.2 1097.7L572.8 1099.5L577.4 1101.4L582 1103.4L586.6 1105.4L591.2 1107.5L595.8 1109.7L600.4 1111.9L605 1114.2L609.6 1116.6L614.2 1119L618.8 1121.5L623.4 1124.1L627.9 1126.7L632.5 1129.3L637.1 1132L641.7 1134.7L646.3 1137.3L650.9 1140L655.5 1142.6L660.1 1145.3L664.7 1148L669.3 1150.8L673.9 1153.6L678.5 1156.6L683.1 1159.6L687.7 1162.8L692.3 1166.1L696.9 1169.6L701.5 1173.2L706.1 1177L710.6 1181L715.2 1185.2L719.8 1189.6L724.4 1194.1L729 1198.8L733.6 1203.6L738.2 1208.4L742.8 1213.2L747.4 1218L752 1222.9L756.6 1227.7L761.2 1232.5L765.8 1237.3L770.4 1242.2L775 1247.2L779.6 1252.3L784.2 1257.6L788.8 1263L793.4 1268.6L797.9 1274.4L802.5 1280.4L807.1 1286.5L811.7 1292.7L816.3 1299.1L820.9 1305.6L825.5 1312.1L830.1 1318.8L834.7 1325.6L839.3 1332.6L843.9 1339.7L848.5 1347.1L853.1 1354.7L857.7 1362.5L862.3 1370.5L866.9 1378.5L871.5 1386.7L876.1 1394.7L880.7 1402.7L885.2 1410.4L889.8 1418L894.4 1425.3L899 1432.3L903.6 1439L908.2 1445.3L912.8 1451.1L917.4 1456.3L922 1460.6L926.6 1463.7L931.2 1465.5L935.8 1466.4L940.4 1466.6L945 1466.6L949.6 1466.4L954.2 1466.1L958.8 1465.6L963.4 1464.9L967.9 1464.1L972.5 1463.1L977.1 1461.8L981.7 1460.2L986.3 1458.4L990.9 1456.3L995.5 1453.9L1000.1 1451.3L1004.7 1448.4L1009.3 1445.4" stroke="#e20000" stroke-width="6"/></g>
<rect x="177.5" y="908.2" width="832.3" height="613" fill="none" stroke="#000" stroke-width="4.6"/>
<path d="M175.2 1498.1h10.5M175.2 1484.6h10.5M175.2 1475.1h10.5M175.2 1467.6h10.5M175.2 1461.6h10.5M175.2 1456.4h10.5M175.2 1452h10.5M175.2 1448.1h10.5M175.2 1444.6h17M175.2 1421.5h10.5M175.2 1408h10.5M175.2 1398.4h10.5M175.2 1391h10.5M175.2 1384.9h10.5M175.2 1379.8h10.5M175.2 1375.4h10.5M175.2 1371.5h10.5M175.2 1368h17M175.2 1344.9h10.5M175.2 1331.4h10.5M175.2 1321.8h10.5M175.2 1314.4h10.5M175.2 1308.3h10.5M175.2 1303.2h10.5M175.2 1298.8h10.5M175.2 1294.8h10.5M175.2 1291.3h17M175.2 1268.3h10.5M175.2 1254.8h10.5M175.2 1245.2h10.5M175.2 1237.8h10.5M175.2 1231.7h10.5M175.2 1226.6h10.5M175.2 1222.1h10.5M175.2 1218.2h10.5M175.2 1214.7h17M175.2 1191.6h10.5M175.2 1178.1h10.5M175.2 1168.6h10.5M175.2 1161.1h10.5M175.2 1155.1h10.5M175.2 1149.9h10.5M175.2 1145.5h10.5M175.2 1141.6h10.5M175.2 1138.1h17M175.2 1115h10.5M175.2 1101.5h10.5M175.2 1091.9h10.5M175.2 1084.5h10.5M175.2 1078.4h10.5M175.2 1073.3h10.5M175.2 1068.9h10.5M175.2 1065h10.5M175.2 1061.5h17M175.2 1038.4h10.5M175.2 1024.9h10.5M175.2 1015.3h10.5M175.2 1007.9h10.5M175.2 1001.8h10.5M175.2 996.7h10.5M175.2 992.3h10.5M175.2 988.3h10.5M175.2 984.8h17M175.2 961.8h10.5M175.2 948.3h10.5M175.2 938.7h10.5M175.2 931.3h10.5M175.2 925.2h10.5M175.2 920.1h10.5M175.2 915.6h10.5M175.2 911.7h10.5" stroke="#000" stroke-width="4" fill="none"/>
<path d="M422.5 1521.2v-15M667 1521.2v-15M911.5 1521.2v-15" stroke="#000" stroke-width="4" fill="none"/>
<text x="101" y="922.7" font-size="37" textLength="45" lengthAdjust="spacingAndGlyphs">10</text>
<text x="147" y="904.7" font-size="21" textLength="18" lengthAdjust="spacingAndGlyphs">-3</text>
<text x="101" y="1076" font-size="37" textLength="45" lengthAdjust="spacingAndGlyphs">10</text>
<text x="147" y="1058" font-size="21" textLength="18" lengthAdjust="spacingAndGlyphs">-5</text>
<text x="101" y="1229.2" font-size="37" textLength="45" lengthAdjust="spacingAndGlyphs">10</text>
<text x="147" y="1211.2" font-size="21" textLength="18" lengthAdjust="spacingAndGlyphs">-7</text>
<text x="101" y="1382.5" font-size="37" textLength="45" lengthAdjust="spacingAndGlyphs">10</text>
<text x="147" y="1364.5" font-size="21" textLength="18" lengthAdjust="spacingAndGlyphs">-9</text>
<text x="88" y="1535.7" font-size="37" textLength="45" lengthAdjust="spacingAndGlyphs">10</text>
<text x="134" y="1517.7" font-size="21" textLength="31" lengthAdjust="spacingAndGlyphs">-11</text>
<text x="151.5" y="1560" font-size="37" textLength="58" lengthAdjust="spacingAndGlyphs">-15</text>
<text x="395" y="1560" font-size="37" textLength="60" lengthAdjust="spacingAndGlyphs">-10</text>
<text x="649.5" y="1560" font-size="37" textLength="40" lengthAdjust="spacingAndGlyphs">-5</text>
<text x="902.5" y="1560" font-size="37" textLength="23" lengthAdjust="spacingAndGlyphs">0</text>
<text x="528.5" y="1613.5" font-size="47" textLength="137" lengthAdjust="spacingAndGlyphs">V<tspan font-size="24" dy="20" dx="4">G</tspan><tspan dy="-20" dx="8">(V)</tspan></text>
<text x="60" y="1247" font-size="51" textLength="121" lengthAdjust="spacingAndGlyphs" transform="rotate(-90 60 1247)">I<tspan font-size="25" dy="21" dx="2">D</tspan><tspan dy="-21" dx="6">(A)</tspan></text>
<text x="162.5" y="866.5" font-size="75">(c)</text>
<text x="200" y="972.7" font-size="58" fill="#ff0000" font-weight="bold" textLength="235" lengthAdjust="spacingAndGlyphs">p-region</text>
<text x="797" y="952.7" font-size="40" textLength="194" lengthAdjust="spacingAndGlyphs">V<tspan font-size="21" dy="14" dx="2">D</tspan><tspan dy="-14"> = – 1 V</tspan></text>
<text x="338" y="1136.5" font-size="40" fill="#1a1a1a" textLength="51.5" lengthAdjust="spacingAndGlyphs">(1)</text>
<text x="707.6" y="1099" font-size="40" fill="#1a1a1a" textLength="53" lengthAdjust="spacingAndGlyphs">(2)</text>
<line x1="481.8" y1="1239.4" x2="397.6" y2="1103.7" stroke="#000" stroke-width="3.6"/><path d="M385.5 1084.2L404.6 1101.8L398.7 1105.4L392.7 1109.1Z" fill="#000"/>
<line x1="640" y1="1058.2" x2="740.3" y2="1153.6" stroke="#000" stroke-width="3.6"/><path d="M757 1169.4L734.1 1157.3L738.9 1152.2L743.7 1147.1Z" fill="#000"/>
<text x="312" y="1316.7" font-size="48" textLength="118" lengthAdjust="spacingAndGlyphs">V<tspan font-size="31" dy="10">G-Min</tspan></text>
<text x="254.5" y="1369.7" font-size="40" textLength="250" lengthAdjust="spacingAndGlyphs">(- 0.5 V step)</text>
<text x="212" y="1451.5" font-size="44" fill="#ff0000" textLength="123" lengthAdjust="spacingAndGlyphs">- 12 V</text>
<text x="444" y="1451.5" font-size="44" textLength="97" lengthAdjust="spacingAndGlyphs">- 6 V</text>
<defs><linearGradient id="gArrC" x1="0" x2="1" y1="0" y2="0"><stop offset="0" stop-color="#ff0000"/><stop offset="0.25" stop-color="#e80000"/><stop offset="1" stop-color="#2a0000"/></linearGradient></defs>
<path d="M345.5 1431L384.8 1387.9V1409.1H425.2V1453H384.8V1475.2Z" fill="url(#gArrC)"/>
<clipPath id="clipD"><rect x="1259" y="903.6" width="831.8" height="611.6"/></clipPath>
<g clip-path="url(#clipD)" fill="none" stroke-width="5" stroke-linejoin="round" stroke-linecap="round"><path d="M1260 1152.1" stroke="#00000e"/><path d="M1260 1159.7L1263.5 1179.3L1266.9 1198.8L1270.4 1218.4L1273.8 1237.9L1277.3 1257.5L1280.7 1277.1" stroke="#00000f"/><path d="M1260 1167.4L1263.8 1188.7L1267.5 1210L1271.3 1231.4L1275.1 1252.7L1278.8 1274L1282.6 1295.4L1286.4 1316.7L1290.2 1338L1293.9 1359.4L1297.7 1380.7L1301.5 1402.1" stroke="#000010"/><path d="M1260 1175L1263.9 1197L1267.8 1219L1271.7 1241L1275.5 1263L1279.4 1285L1283.3 1307L1287.2 1329L1291.1 1351L1295 1373L1298.9 1395L1302.8 1417L1306.6 1439L1310.5 1461L1314.4 1463.2L1318.3 1463.2L1322.2 1463.2" stroke="#000010"/><path d="M1260 1182.6L1263.9 1205L1267.9 1227.3L1271.8 1249.7L1275.8 1272.1L1279.7 1294.4L1283.7 1316.8L1287.6 1339.1L1291.6 1361.5L1295.5 1383.8L1299.5 1406.2L1303.4 1428.5L1307.4 1450.9L1311.3 1463.2L1315.3 1463.2L1319.2 1463.2L1323.2 1463.2L1327.1 1463.2L1331.1 1463.2L1335 1463.2L1339 1463.2L1342.9 1463.2" stroke="#000011"/><path d="M1260 1190.3L1264 1212.9L1268 1235.4L1272 1258L1275.9 1280.6L1279.9 1303.1L1283.9 1325.7L1287.9 1348.3L1291.9 1370.8L1295.9 1393.4L1299.9 1416L1303.9 1438.5L1307.8 1461.1L1311.8 1463.2L1315.8 1463.2L1319.8 1463.2L1323.8 1463.2L1327.8 1463.2L1331.8 1463.2L1335.7 1463.2L1339.7 1463.2L1343.7 1463.2L1347.7 1463.2L1351.7 1463.2L1355.7 1463.2L1359.7 1463.2L1363.6 1463.2" stroke="#000012"/><path d="M1260 1197.9L1263.6 1218.4L1267.2 1238.8L1270.8 1259.3L1274.4 1279.7L1278.1 1300.1L1281.7 1320.6L1285.3 1341L1288.9 1361.5L1292.5 1381.9L1296.1 1402.3L1299.7 1422.8L1303.3 1443.2L1306.9 1463.2L1310.6 1463.2L1314.2 1463.2L1317.8 1463.2L1321.4 1463.2L1325 1463.2L1328.6 1463.2L1332.2 1463.2L1335.8 1463.2L1339.4 1463.2L1343.1 1463.2L1346.7 1463.2L1350.3 1463.2L1353.9 1463.2L1357.5 1463.2L1361.1 1463.2L1364.7 1463.2L1368.3 1463.2L1371.9 1463.2" stroke="#000013"/><path d="M1260 1205.6L1263.1 1223.2L1266.2 1240.8L1269.3 1258.4L1272.4 1276L1275.5 1293.6L1278.7 1311.2L1281.8 1328.8L1284.9 1346.4L1288 1364L1291.1 1381.6L1294.2 1399.2L1297.3 1416.8L1300.4 1434.4L1303.5 1452L1306.6 1463.2L1309.8 1463.2L1312.9 1463.2L1316 1463.2L1319.1 1463.2L1322.2 1463.2L1325.3 1463.2L1328.4 1463.2L1331.5 1463.2L1334.6 1463.2L1337.7 1463.2L1340.8 1463.2L1344 1463.2L1347.1 1463.2L1350.2 1463.2L1353.3 1463.2L1356.4 1463.2L1359.5 1463.2L1362.6 1463.2L1365.7 1463.2L1368.8 1463.2L1371.9 1463.2" stroke="#000014"/><path d="M1260 1213.2L1262.7 1228.7L1265.5 1244.1L1268.2 1259.6L1270.9 1275L1273.7 1290.5L1276.4 1306L1279.1 1321.4L1281.8 1336.9L1284.6 1352.3L1287.3 1367.8L1290 1383.2L1292.8 1398.7L1295.5 1414.1L1298.2 1429.6L1301 1445.1L1303.7 1460.5L1306.4 1463.2L1309.1 1463.2L1311.9 1463.2L1314.6 1463.2L1317.3 1463.2L1320.1 1463.2L1322.8 1463.2L1325.5 1463.2L1328.3 1463.2L1331 1463.2L1333.7 1463.2L1336.4 1463.2L1339.2 1463.2L1341.9 1463.2L1344.6 1463.2L1347.4 1463.2L1350.1 1463.2L1352.8 1463.2L1355.6 1463.2L1358.3 1463.2L1361 1463.2L1363.8 1463.2L1366.5 1463.2L1369.2 1463.2L1371.9 1463.2" stroke="#000015"/><path d="M1260 1220.9L1262.4 1234.6L1264.9 1248.4L1267.3 1262.2L1269.7 1276L1272.2 1289.7L1274.6 1303.5L1277 1317.3L1279.5 1331.1L1281.9 1344.9L1284.3 1358.6L1286.8 1372.4L1289.2 1386.2L1291.6 1400L1294.1 1413.7L1296.5 1427.5L1298.9 1441.3L1301.4 1455.1L1303.8 1463.2L1306.2 1463.2L1308.7 1463.2L1311.1 1463.2L1313.5 1463.2L1316 1463.2L1318.4 1463.2L1320.8 1463.2L1323.3 1463.2L1325.7 1463.2L1328.1 1463.2L1330.6 1463.2L1333 1463.2L1335.4 1463.2L1337.9 1463.2L1340.3 1463.2L1342.7 1463.2L1345.2 1463.2L1347.6 1463.2L1350 1463.2L1352.5 1463.2L1354.9 1463.2L1357.3 1463.2L1359.8 1463.2L1362.2 1463.2L1364.6 1463.2L1367.1 1463.2L1369.5 1463.2L1371.9 1463.2" stroke="#000016"/><path d="M1260 1228.5L1262.2 1240.9L1264.4 1253.4L1266.6 1265.8L1268.8 1278.2L1271 1290.6L1273.2 1303.1L1275.4 1315.5L1277.6 1327.9L1279.8 1340.3L1281.9 1352.8L1284.1 1365.2L1286.3 1377.6L1288.5 1390L1290.7 1402.5L1292.9 1414.9L1295.1 1427.3L1297.3 1439.7L1299.5 1452.2L1301.7 1463.2L1303.9 1463.2L1306.1 1463.2L1308.3 1463.2L1310.5 1463.2L1312.7 1463.2L1314.9 1463.2L1317.1 1463.2L1319.3 1463.2L1321.5 1463.2L1323.7 1463.2L1325.8 1463.2L1328 1463.2L1330.2 1463.2L1332.4 1463.2L1334.6 1463.2L1336.8 1463.2L1339 1463.2L1341.2 1463.2L1343.4 1463.2L1345.6 1463.2L1347.8 1463.2L1350 1463.2L1352.2 1463.2L1354.4 1463.2L1356.6 1463.2L1358.8 1463.2L1361 1463.2L1363.2 1463.2L1365.4 1463.2L1367.6 1463.2L1369.7 1463.2L1371.9 1463.2" stroke="#000016"/><path d="M1260 1236.2L1262 1247.5L1264 1258.8L1266 1270.1L1268 1281.4L1270 1292.7L1272 1304.1L1274 1315.4L1276 1326.7L1278 1338L1280 1349.3L1282 1360.6L1284 1371.9L1286 1383.3L1288 1394.6L1290 1405.9L1292 1417.2L1294 1428.5L1296 1439.8L1298 1451.2L1300 1462.5L1302 1463.2L1304 1463.2L1306 1463.2L1308 1463.2L1310 1463.2L1312 1463.2L1314 1463.2L1316 1463.2L1318 1463.2L1320 1463.2L1322 1463.2L1324 1463.2L1326 1463.2L1328 1463.2L1330 1463.2L1332 1463.2L1334 1463.2L1336 1463.2L1338 1463.2L1340 1463.2L1342 1463.2L1344 1463.2L1346 1463.2L1348 1463.2L1350 1463.2L1352 1463.2L1354 1463.2L1356 1463.2L1357.9 1463.2L1359.9 1463.2L1361.9 1463.2L1363.9 1463.2L1365.9 1463.2L1367.9 1463.2L1369.9 1463.2L1371.9 1463.2" stroke="#000017"/><path d="M1260 1463.2L1264.1 1463.2L1268.2 1463.2L1272.2 1463.2L1276.3 1463.2L1280.4 1463.2L1284.5 1463.2L1288.5 1463.2L1292.6 1463.2L1296.7 1463.2L1300.8 1463.2L1304.9 1463.2L1308.9 1463.2L1313 1463.2L1317.1 1460.7L1321.2 1438.6L1325.2 1417.1L1329.3 1396.2L1333.4 1376.1L1337.5 1356.8L1341.6 1338.2L1345.6 1320.5L1349.7 1303.7L1353.8 1288L1357.9 1273.3L1362 1259.9L1366 1248L1370.1 1237.9L1374.2 1230.4L1378.3 1231.2L1382.3 1237.2L1386.4 1243.6L1390.5 1250.3L1394.6 1257.2L1398.7 1264.3L1402.7 1271.4L1406.8 1278.7L1410.9 1286.1L1415 1293.5L1419 1301.1L1423.1 1308.7L1427.2 1316.4L1431.3 1324.1L1435.4 1331.9L1439.4 1339.7L1443.5 1347.7L1447.6 1355.6L1451.7 1363.6L1455.7 1371.6L1459.8 1379.7L1463.9 1387.8L1468 1396L1472.1 1404.2L1476.1 1412.4L1480.2 1420.7L1484.3 1429L1488.4 1437.3L1492.4 1445.7L1496.5 1454L1500.6 1462.3L1504.7 1463.2L1508.8 1461.6" stroke="#000018"/><path d="M1260 1463.2L1264.1 1463.2L1268.2 1463.2L1272.2 1463.2L1276.3 1463.2L1280.4 1463.2L1284.5 1463.2L1288.6 1463.2L1292.7 1463.2L1296.7 1463.2L1300.8 1463.2L1304.9 1463.2L1309 1463.2L1313.1 1449.8L1317.2 1428.9L1321.2 1408.6L1325.3 1388.9L1329.4 1369.9L1333.5 1351.6L1337.6 1334.2L1341.7 1317.5L1345.7 1301.8L1349.8 1287.1L1353.9 1273.5L1358 1261.1L1362.1 1250.2L1366.2 1241.2L1370.2 1235.1L1374.3 1237.9L1378.4 1242.7L1382.5 1248.1L1386.6 1253.7L1390.7 1259.7L1394.7 1265.8L1398.8 1272.2L1402.9 1278.7L1407 1285.4L1411.1 1292.2L1415.2 1299.1L1419.2 1306.1L1423.3 1313.3L1427.4 1320.5L1431.5 1327.8L1435.6 1335.3L1439.7 1342.8L1443.7 1350.3L1447.8 1358L1451.9 1365.7L1456 1373.5L1460.1 1381.4L1464.2 1389.3L1468.2 1397.3L1472.3 1405.3L1476.4 1413.4L1480.5 1421.5L1484.6 1429.8L1488.7 1438L1492.7 1446.3L1496.8 1454.7L1500.9 1462.9L1505 1463.2L1509.1 1461.2L1513.2 1455.6L1517.2 1450.3L1521.3 1445.1L1525.4 1439.9L1529.5 1434.7" stroke="#00001d"/><path d="M1260 1463.2L1264.1 1463.2L1268.2 1463.2L1272.3 1463.2L1276.4 1463.2L1280.4 1463.2L1284.5 1463.2L1288.6 1463.2L1292.7 1463.2L1296.8 1463.2L1300.9 1463.2L1305 1460.6L1309.1 1440.2L1313.1 1420.3L1317.2 1401.1L1321.3 1382.5L1325.4 1364.6L1329.5 1347.4L1333.6 1331L1337.7 1315.4L1341.8 1300.7L1345.8 1286.9L1349.9 1274.2L1354 1262.8L1358.1 1252.9L1362.2 1245L1366.3 1241.2L1370.4 1244.2L1374.5 1248.2L1378.5 1252.6L1382.6 1257.5L1386.7 1262.6L1390.8 1268L1394.9 1273.6L1399 1279.4L1403.1 1285.4L1407.2 1291.6L1411.2 1297.9L1415.3 1304.4L1419.4 1311L1423.5 1317.7L1427.6 1324.6L1431.7 1331.5L1435.8 1338.6L1439.9 1345.8L1443.9 1353.1L1448 1360.4L1452.1 1367.9L1456.2 1375.4L1460.3 1383.1L1464.4 1390.8L1468.5 1398.6L1472.6 1406.5L1476.6 1414.4L1480.7 1422.5L1484.8 1430.6L1488.9 1438.7L1493 1447L1497.1 1455.3L1501.2 1463.2L1505.3 1463.2L1509.3 1460.8L1513.4 1455.2L1517.5 1449.9L1521.6 1444.7L1525.7 1439.5L1529.8 1434.3L1533.9 1429.3L1538 1424.4L1542 1419.3L1546.1 1413.9L1550.2 1408.1L1546.1 1404.8L1542 1401.8L1538 1399.1L1533.9 1396.8L1529.8 1394.8L1525.7 1393.2L1521.6 1391.9L1517.5 1391L1513.4 1390.3L1509.3 1390.1L1505.3 1390.1L1501.2 1390.4L1497.1 1391L1493 1391.8L1488.9 1392.9L1484.8 1394.3L1480.7 1395.8L1476.6 1397.6L1472.6 1399.5L1468.5 1401.6L1464.4 1403.9L1460.3 1406.3L1456.2 1408.7L1452.1 1411.3L1448 1413.9L1443.9 1416.5L1439.9 1419.1L1435.8 1421.8L1431.7 1424.5L1427.6 1427.2L1423.5 1430.1L1419.4 1433L1415.3 1436.1L1411.2 1439.5L1407.2 1442.8L1403.1 1446.2L1399 1449.7L1394.9 1453.3L1390.8 1457.1L1386.7 1461.2L1382.6 1463.2L1378.5 1463.2L1374.5 1463.2L1370.4 1463.2L1366.3 1463.2L1362.2 1463.2L1358.1 1463.2L1354 1463.2L1349.9 1463.2L1345.8 1463.2L1341.8 1463.2L1337.7 1463.2L1333.6 1463.2L1329.5 1463.2L1325.4 1463.2L1321.3 1463.2L1317.2 1463.2L1313.1 1463.2L1309.1 1463.2L1305 1463.2L1300.9 1463.2L1296.8 1463.2L1292.7 1463.2L1288.6 1463.2L1284.5 1463.2L1280.4 1463.2L1276.4 1463.2L1272.3 1463.2L1268.2 1463.2L1264.1 1463.2L1260 1463.2" stroke="#000022"/><path d="M1260 1463.2L1264.1 1463.2L1268.2 1463.2L1272.3 1463.2L1276.4 1463.2L1280.5 1463.2L1284.5 1463.2L1288.6 1463.2L1292.7 1463.2L1296.8 1463.2L1300.9 1450.9L1305 1431.6L1309.1 1412.8L1313.2 1394.7L1317.3 1377.1L1321.4 1360.3L1325.5 1344.1L1329.6 1328.6L1333.6 1314L1337.7 1300.2L1341.8 1287.4L1345.9 1275.6L1350 1265.1L1354.1 1256.2L1358.2 1249.3L1362.3 1247.8L1366.4 1250.3L1370.5 1253.6L1374.6 1257.4L1378.7 1261.5L1382.7 1265.9L1386.8 1270.6L1390.9 1275.6L1395 1280.8L1399.1 1286.2L1403.2 1291.7L1407.3 1297.5L1411.4 1303.4L1415.5 1309.5L1419.6 1315.7L1423.7 1322.1L1427.7 1328.6L1431.8 1335.2L1435.9 1342L1440 1348.8L1444.1 1355.8L1448.2 1362.9L1452.3 1370.2L1456.4 1377.5L1460.5 1384.9L1464.6 1392.4L1468.7 1400L1472.8 1407.8L1476.8 1415.6L1480.9 1423.5L1485 1431.4L1489.1 1439.5L1493.2 1447.7L1497.3 1455.9L1501.4 1463.2L1505.5 1463.2L1509.6 1460.5L1513.7 1454.9L1517.8 1449.6L1521.9 1444.4L1525.9 1439.2L1530 1434L1534.1 1429L1538.2 1424L1542.3 1419L1546.4 1413.6L1550.5 1407.7L1554.6 1401.3L1558.7 1394.6L1562.8 1387.6L1566.9 1380.4L1571 1372.9L1566.9 1369.3L1562.8 1366.1L1558.7 1363.3L1554.6 1360.9L1550.5 1358.9L1546.4 1357.3L1542.3 1356L1538.2 1355.1L1534.1 1354.5L1530 1354.3L1525.9 1354.4L1521.9 1354.7L1517.8 1355.4L1513.7 1356.3L1509.6 1357.5L1505.5 1359L1501.4 1360.7L1497.3 1362.6L1493.2 1364.8L1489.1 1367.2L1485 1369.7L1480.9 1372.4L1476.8 1375.3L1472.8 1378.4L1468.7 1381.6L1464.6 1384.9L1460.5 1388.3L1456.4 1391.8L1452.3 1395.3L1448.2 1398.9L1444.1 1402.5L1440 1406.1L1435.9 1409.7L1431.8 1413.2L1427.7 1416.6L1423.7 1419.9L1419.6 1423.1L1415.5 1426.4L1411.4 1429.7L1407.3 1433.2L1403.2 1436.7L1399.1 1440.5L1395 1444.2L1390.9 1448L1386.8 1451.9L1382.7 1455.9L1378.7 1460.2L1374.6 1463.2L1370.5 1463.2L1366.4 1463.2L1362.3 1463.2L1358.2 1463.2L1354.1 1463.2L1350 1463.2L1345.9 1463.2L1341.8 1463.2L1337.7 1463.2L1333.6 1463.2L1329.6 1463.2L1325.5 1463.2L1321.4 1463.2L1317.3 1463.2L1313.2 1463.2L1309.1 1463.2L1305 1463.2L1300.9 1463.2L1296.8 1463.2L1292.7 1463.2L1288.6 1463.2L1284.5 1463.2L1280.5 1463.2L1276.4 1463.2L1272.3 1463.2L1268.2 1463.2L1264.1 1463.2L1260 1463.2" stroke="#00002a"/><path d="M1260 1463.2L1264.1 1463.2L1268.2 1463.2L1272.3 1463.2L1276.4 1463.2L1280.5 1463.2L1284.6 1463.2L1288.7 1463.2L1292.8 1461L1296.9 1442.2L1300.9 1424L1305 1406.3L1309.1 1389.1L1313.2 1372.6L1317.3 1356.7L1321.4 1341.5L1325.5 1326.9L1329.6 1313.2L1333.7 1300.3L1337.8 1288.4L1341.9 1277.5L1346 1267.9L1350.1 1259.9L1354.2 1254.2L1358.3 1254.2L1362.4 1256.4L1366.5 1259.1L1370.6 1262.2L1374.7 1265.8L1378.7 1269.6L1382.8 1273.7L1386.9 1278.1L1391 1282.7L1395.1 1287.5L1399.2 1292.5L1403.3 1297.7L1407.4 1303.1L1411.5 1308.7L1415.6 1314.4L1419.7 1320.3L1423.8 1326.4L1427.9 1332.5L1432 1338.9L1436.1 1345.3L1440.2 1351.9L1444.3 1358.7L1448.4 1365.5L1452.5 1372.5L1456.6 1379.6L1460.6 1386.8L1464.7 1394.1L1468.8 1401.5L1472.9 1409.1L1477 1416.7L1481.1 1424.5L1485.2 1432.3L1489.3 1440.3L1493.4 1448.3L1497.5 1456.5L1501.6 1463.2L1505.7 1463.2L1509.8 1460.2L1513.9 1454.6L1518 1449.3L1522.1 1444.2L1526.2 1438.9L1530.3 1433.7L1534.4 1428.7L1538.4 1423.8L1542.5 1418.7L1546.6 1413.2L1550.7 1407.3L1554.8 1401L1558.9 1394.2L1563 1387.2L1567.1 1379.9L1571.2 1372.4L1575.3 1364.7L1579.4 1356.9L1583.5 1349L1587.6 1340.9L1591.7 1332.7L1587.6 1329.1L1583.5 1326L1579.4 1323.3L1575.3 1321L1571.2 1319L1567.1 1317.4L1563 1316.2L1558.9 1315.4L1554.8 1314.9L1550.7 1314.7L1546.6 1314.8L1542.5 1315.3L1538.4 1316L1534.4 1317.1L1530.3 1318.4L1526.2 1319.9L1522.1 1321.7L1518 1323.8L1513.9 1326.1L1509.8 1328.5L1505.7 1331.2L1501.6 1334.1L1497.5 1337.1L1493.4 1340.3L1489.3 1343.7L1485.2 1347.1L1481.1 1350.7L1477 1354.4L1472.9 1358.3L1468.8 1362.3L1464.7 1366.4L1460.6 1370.6L1456.6 1374.8L1452.5 1379.1L1448.4 1383.5L1444.3 1387.9L1440.2 1392.3L1436.1 1396.6L1432 1400.9L1427.9 1405.2L1423.8 1409.3L1419.7 1413.3L1415.6 1417.1L1411.5 1420.8L1407.4 1424.4L1403.3 1428L1399.2 1431.6L1395.1 1435.4L1391 1439.4L1386.9 1443.4L1382.8 1447.4L1378.7 1451.4L1374.7 1455.7L1370.6 1460.1L1366.5 1463.2L1362.4 1463.2L1358.3 1463.2L1354.2 1463.2L1350.1 1463.2L1346 1463.2L1341.9 1463.2L1337.8 1463.2L1333.7 1463.2L1329.6 1463.2L1325.5 1463.2L1321.4 1463.2L1317.3 1463.2L1313.2 1463.2L1309.1 1463.2L1305 1463.2L1300.9 1463.2L1296.9 1463.2L1292.8 1463.2L1288.7 1463.2L1284.6 1463.2L1280.5 1463.2L1276.4 1463.2L1272.3 1463.2L1268.2 1463.2L1264.1 1463.2L1260 1463.2" stroke="#000032"/><path d="M1260 1463.2L1264.1 1463.2L1268.2 1463.2L1272.3 1463.2L1276.4 1463.2L1280.5 1463.2L1284.6 1463.2L1288.7 1452.2L1292.8 1434.5L1296.9 1417.3L1301 1400.6L1305.1 1384.4L1309.2 1368.8L1313.3 1353.8L1317.4 1339.5L1321.5 1325.9L1325.6 1313L1329.7 1301L1333.8 1289.9L1337.9 1279.9L1342 1271.1L1346.1 1264L1350.2 1259.6L1354.2 1260.6L1358.3 1262.3L1362.4 1264.6L1366.5 1267.3L1370.6 1270.3L1374.7 1273.6L1378.8 1277.2L1382.9 1281L1387 1285.1L1391.1 1289.4L1395.2 1293.9L1399.3 1298.6L1403.4 1303.5L1407.5 1308.6L1411.6 1313.8L1415.7 1319.3L1419.8 1324.9L1423.9 1330.6L1428 1336.5L1432.1 1342.5L1436.2 1348.7L1440.3 1355.1L1444.4 1361.5L1448.5 1368.2L1452.6 1374.9L1456.7 1381.8L1460.8 1388.8L1464.9 1395.9L1469 1403.1L1473.1 1410.5L1477.2 1418L1481.3 1425.6L1485.4 1433.3L1489.5 1441.1L1493.6 1449L1497.7 1457.1L1501.8 1463.2L1505.9 1463.2L1510 1459.9L1514.1 1454.4L1518.2 1449.1L1522.3 1443.9L1526.4 1438.7L1530.5 1433.5L1534.6 1428.5L1538.6 1423.5L1542.7 1418.4L1546.8 1412.9L1550.9 1407L1555 1400.6L1559.1 1393.9L1563.2 1386.8L1567.3 1379.5L1571.4 1372L1575.5 1364.3L1579.6 1356.4L1583.7 1348.5L1587.8 1340.5L1591.9 1332.2L1596 1323.7L1600.1 1315L1604.2 1306.3L1608.3 1297.4L1612.4 1288.6L1608.3 1284.9L1604.2 1281.7L1600.1 1278.8L1596 1276.3L1591.9 1274.2L1587.8 1272.4L1583.7 1270.9L1579.6 1269.8L1575.5 1268.9L1571.4 1268.4L1567.3 1268.1L1563.2 1268.2L1559.1 1268.5L1555 1269.1L1550.9 1269.9L1546.8 1271L1542.7 1272.4L1538.6 1274L1534.6 1275.7L1530.5 1277.8L1526.4 1280L1522.3 1282.4L1518.2 1285.1L1514.1 1287.9L1510 1291L1505.9 1294.2L1501.8 1297.6L1497.7 1301.1L1493.6 1304.8L1489.5 1308.7L1485.4 1312.7L1481.3 1316.8L1477.2 1321.1L1473.1 1325.4L1469 1329.9L1464.9 1334.4L1460.8 1339L1456.7 1343.6L1452.6 1348.2L1448.5 1352.9L1444.4 1357.7L1440.3 1362.5L1436.2 1367.4L1432.1 1372.3L1428 1377.3L1423.9 1382.2L1419.8 1387.1L1415.7 1391.9L1411.6 1396.7L1407.5 1401.4L1403.4 1406L1399.3 1410.4L1395.2 1414.6L1391.1 1418.5L1387 1422.4L1382.9 1426.1L1378.8 1429.9L1374.7 1433.8L1370.6 1437.8L1366.5 1442L1362.4 1446.1L1358.3 1450.2L1354.2 1454.5L1350.2 1458.9L1346.1 1463.2L1342 1463.2L1337.9 1463.2L1333.8 1463.2L1329.7 1463.2L1325.6 1463.2L1321.5 1463.2L1317.4 1463.2L1313.3 1463.2L1309.2 1463.2L1305.1 1463.2L1301 1463.2L1296.9 1463.2L1292.8 1463.2L1288.7 1463.2L1284.6 1463.2L1280.5 1463.2L1276.4 1463.2L1272.3 1463.2L1268.2 1463.2L1264.1 1463.2L1260 1463.2" stroke="#00003b"/><path d="M1260 1463.2L1264.1 1463.2L1268.2 1463.2L1272.3 1463.2L1276.4 1463.2L1280.5 1461.6L1284.6 1444.4L1288.7 1427.7L1292.8 1411.4L1296.9 1395.7L1301 1380.4L1305.1 1365.7L1309.2 1351.7L1313.3 1338.2L1317.4 1325.4L1321.5 1313.4L1325.6 1302.2L1329.7 1291.9L1333.8 1282.6L1337.9 1274.7L1342 1268.4L1346.1 1265.9L1350.2 1266.8L1354.3 1268.3L1358.4 1270.2L1362.5 1272.5L1366.6 1275L1370.7 1277.9L1374.8 1281L1378.9 1284.4L1383 1288L1387.1 1291.8L1391.2 1295.8L1395.3 1300.1L1399.4 1304.5L1403.5 1309.1L1407.6 1313.9L1411.7 1318.9L1415.8 1324L1419.9 1329.3L1424 1334.8L1428.1 1340.4L1432.2 1346.2L1436.3 1352.2L1440.4 1358.2L1444.5 1364.5L1448.6 1370.8L1452.7 1377.4L1456.8 1384L1460.9 1390.8L1465 1397.7L1469.1 1404.8L1473.2 1411.9L1477.3 1419.3L1481.4 1426.7L1485.5 1434.2L1489.6 1441.9L1493.7 1449.7L1497.8 1457.6L1501.9 1463.2L1506 1463.2L1510.1 1459.7L1514.2 1454.2L1518.3 1448.9L1522.4 1443.7L1526.5 1438.4L1530.6 1433.3L1534.7 1428.3L1538.8 1423.3L1542.9 1418.2L1547 1412.7L1551.1 1406.7L1555.2 1400.3L1559.3 1393.5L1563.4 1386.5L1567.5 1379.1L1571.6 1371.6L1575.7 1363.9L1579.8 1356L1583.9 1348.1L1588 1340L1592.1 1331.7L1596.2 1323.2L1600.3 1314.6L1604.4 1305.8L1608.5 1297L1612.6 1288.1L1616.7 1279.3L1620.8 1270.5L1624.9 1261.6L1629 1252.6L1633.1 1243.6L1629 1239.9L1624.9 1236.5L1620.8 1233.5L1616.7 1230.9L1612.6 1228.5L1608.5 1226.5L1604.4 1224.8L1600.3 1223.4L1596.2 1222.2L1592.1 1221.4L1588 1220.8L1583.9 1220.6L1579.8 1220.5L1575.7 1220.7L1571.6 1221.2L1567.5 1221.9L1563.4 1222.9L1559.3 1224L1555.2 1225.4L1551.1 1227L1547 1228.8L1542.9 1230.9L1538.8 1233.1L1534.7 1235.5L1530.6 1238L1526.5 1240.8L1522.4 1243.7L1518.3 1246.8L1514.2 1250.1L1510.1 1253.5L1506 1257.1L1501.9 1260.8L1497.8 1264.6L1493.7 1268.6L1489.6 1272.7L1485.5 1276.8L1481.4 1281.2L1477.3 1285.6L1473.2 1290.2L1469.1 1294.9L1465 1299.8L1460.9 1304.7L1456.8 1309.7L1452.7 1314.8L1448.6 1319.9L1444.5 1325.1L1440.4 1330.4L1436.3 1335.6L1432.2 1340.9L1428.1 1346.1L1424 1351.4L1419.9 1356.6L1415.8 1361.9L1411.7 1367.3L1407.6 1372.6L1403.5 1377.9L1399.4 1383.2L1395.3 1388.4L1391.2 1393.5L1387.1 1398.5L1383 1403.3L1378.9 1408L1374.8 1412.5L1370.7 1416.7L1366.6 1420.8L1362.5 1424.7L1358.4 1428.6L1354.3 1432.5L1350.2 1436.5L1346.1 1440.8L1342 1445L1337.9 1449.2L1333.8 1453.5L1329.7 1458L1325.6 1462.8L1321.5 1463.2L1317.4 1463.2L1313.3 1463.2L1309.2 1463.2L1305.1 1463.2L1301 1463.2L1296.9 1463.2L1292.8 1463.2L1288.7 1463.2L1284.6 1463.2L1280.5 1463.2L1276.4 1463.2L1272.3 1463.2L1268.2 1463.2L1264.1 1463.2L1260 1463.2" stroke="#000048"/><path d="M1260 1463.2L1264.1 1463.2L1268.2 1463.2L1272.3 1463.2L1276.4 1453.8L1280.5 1437.5L1284.6 1421.7L1288.7 1406.4L1292.8 1391.5L1296.9 1377.2L1301 1363.3L1305.1 1350.1L1309.2 1337.5L1313.3 1325.5L1317.4 1314.3L1321.5 1303.8L1325.6 1294.3L1329.7 1285.8L1333.9 1278.6L1338 1273.3L1342.1 1272.2L1346.2 1273L1350.3 1274.2L1354.4 1275.9L1358.5 1277.8L1362.6 1280L1366.7 1282.4L1370.8 1285.2L1374.9 1288.1L1379 1291.3L1383.1 1294.7L1387.2 1298.3L1391.3 1302.1L1395.4 1306L1399.5 1310.2L1403.6 1314.6L1407.7 1319.1L1411.8 1323.8L1415.9 1328.7L1420 1333.8L1424.1 1339L1428.2 1344.4L1432.3 1349.9L1436.4 1355.6L1440.5 1361.4L1444.6 1367.4L1448.7 1373.6L1452.8 1379.9L1456.9 1386.3L1461 1392.9L1465.1 1399.6L1469.2 1406.5L1473.3 1413.5L1477.4 1420.6L1481.6 1427.9L1485.7 1435.3L1489.8 1442.8L1493.9 1450.4L1498 1458.2L1502.1 1463.2L1506.2 1463.2L1510.3 1459.5L1514.4 1454L1518.5 1448.7L1522.6 1443.5L1526.7 1438.2L1530.8 1433.1L1534.9 1428.1L1539 1423.1L1543.1 1418L1547.2 1412.5L1551.3 1406.5L1555.4 1400L1559.5 1393.3L1563.6 1386.2L1567.7 1378.8L1571.8 1371.3L1575.9 1363.5L1580 1355.7L1584.1 1347.8L1588.2 1339.7L1592.3 1331.3L1596.4 1322.8L1600.5 1314.1L1604.6 1305.4L1608.7 1296.5L1612.8 1287.7L1616.9 1278.8L1621 1270L1625.2 1261.1L1629.3 1252.1L1633.4 1243.1L1637.5 1234L1641.6 1225L1645.7 1215.9L1649.8 1206.8L1653.9 1197.8L1649.8 1194.2L1645.7 1190.9L1641.6 1187.8L1637.5 1184.9L1633.4 1182.3L1629.3 1180L1625.2 1177.9L1621 1176L1616.9 1174.4L1612.8 1173.1L1608.7 1172L1604.6 1171.1L1600.5 1170.5L1596.4 1170.1L1592.3 1169.9L1588.2 1169.9L1584.1 1170.1L1580 1170.6L1575.9 1171.2L1571.8 1172L1567.7 1173.1L1563.6 1174.3L1559.5 1175.7L1555.4 1177.3L1551.3 1179L1547.2 1181L1543.1 1183L1539 1185.3L1534.9 1187.7L1530.8 1190.2L1526.7 1192.8L1522.6 1195.6L1518.5 1198.4L1514.4 1201.4L1510.3 1204.6L1506.2 1207.9L1502.1 1211.3L1498 1214.8L1493.9 1218.5L1489.8 1222.3L1485.7 1226.2L1481.6 1230.3L1477.4 1234.4L1473.3 1238.7L1469.2 1243L1465.1 1247.5L1461 1252L1456.9 1256.6L1452.8 1261.3L1448.7 1266.1L1444.6 1271L1440.5 1275.9L1436.4 1280.8L1432.3 1285.9L1428.2 1291.1L1424.1 1296.4L1420 1301.7L1415.9 1307.1L1411.8 1312.6L1407.7 1318L1403.6 1323.6L1399.5 1329.1L1395.4 1334.6L1391.3 1340L1387.2 1345.5L1383.1 1350.9L1379 1356.3L1374.9 1361.7L1370.8 1367.1L1366.7 1372.5L1362.6 1377.9L1358.5 1383.2L1354.4 1388.4L1350.3 1393.6L1346.2 1398.6L1342.1 1403.4L1338 1408.1L1333.9 1412.6L1329.7 1416.8L1325.6 1420.8L1321.5 1424.7L1317.4 1428.5L1313.3 1432.4L1309.2 1436.4L1305.1 1440.6L1301 1444.7L1296.9 1448.8L1292.8 1453.1L1288.7 1457.5L1284.6 1462.1L1280.5 1463.2L1276.4 1463.2L1272.3 1463.2L1268.2 1463.2L1264.1 1463.2L1260 1463.2" stroke="#000055"/><path d="M1260 1463.2L1264.1 1463.2L1268.2 1462.5L1272.3 1446.8L1276.4 1431.4L1280.5 1416.5L1284.6 1402.1L1288.7 1388.1L1292.8 1374.6L1296.9 1361.6L1301 1349.1L1305.2 1337.3L1309.3 1326.1L1313.4 1315.6L1317.5 1305.9L1321.6 1297.1L1325.7 1289.3L1329.8 1282.9L1333.9 1278.5L1338 1278.5L1342.1 1279.2L1346.2 1280.2L1350.3 1281.6L1354.4 1283.2L1358.5 1285.1L1362.6 1287.2L1366.7 1289.6L1370.8 1292.1L1374.9 1294.9L1379 1297.9L1383.1 1301.1L1387.3 1304.5L1391.4 1308.1L1395.5 1311.9L1399.6 1315.8L1403.7 1319.9L1407.8 1324.2L1411.9 1328.7L1416 1333.4L1420.1 1338.2L1424.2 1343.2L1428.3 1348.3L1432.4 1353.6L1436.5 1359.1L1440.6 1364.7L1444.7 1370.5L1448.8 1376.4L1452.9 1382.4L1457 1388.7L1461.1 1395L1465.2 1401.6L1469.4 1408.2L1473.5 1415L1477.6 1422L1481.7 1429.1L1485.8 1436.3L1489.9 1443.7L1494 1451.2L1498.1 1458.8L1502.2 1463.2L1506.3 1463.2L1510.4 1459.3L1514.5 1453.8L1518.6 1448.5L1522.7 1443.3L1526.8 1438.1L1530.9 1432.9L1535 1427.9L1539.1 1422.9L1543.2 1417.8L1547.3 1412.2L1551.5 1406.2L1555.6 1399.8L1559.7 1393L1563.8 1385.9L1567.9 1378.5L1572 1370.9L1576.1 1363.2L1580.2 1355.4L1584.3 1347.4L1588.4 1339.3L1592.5 1331L1596.6 1322.4L1600.7 1313.8L1604.8 1305L1608.9 1296.1L1613 1287.3L1617.1 1278.4L1621.2 1269.6L1625.3 1260.7L1629.4 1251.7L1633.6 1242.7L1637.7 1233.6L1641.8 1224.5L1645.9 1215.4L1650 1206.4L1654.1 1197.4L1658.2 1188.2L1662.3 1178.9L1666.4 1169.3L1670.5 1159.8L1674.6 1150.4L1670.5 1146.8L1666.4 1143.5L1662.3 1140.4L1658.2 1137.6L1654.1 1135.1L1650 1132.8L1645.9 1130.7L1641.8 1128.8L1637.7 1127.2L1633.6 1125.8L1629.4 1124.5L1625.3 1123.5L1621.2 1122.6L1617.1 1121.9L1613 1121.3L1608.9 1120.9L1604.8 1120.7L1600.7 1120.6L1596.6 1120.7L1592.5 1120.8L1588.4 1121.2L1584.3 1121.6L1580.2 1122.3L1576.1 1123L1572 1123.9L1567.9 1124.9L1563.8 1126.1L1559.7 1127.4L1555.6 1128.8L1551.5 1130.4L1547.3 1132.2L1543.2 1134.1L1539.1 1136.1L1535 1138.3L1530.9 1140.7L1526.8 1143.2L1522.7 1145.8L1518.6 1148.6L1514.5 1151.5L1510.4 1154.6L1506.3 1157.8L1502.2 1161.2L1498.1 1164.7L1494 1168.3L1489.9 1172L1485.8 1175.8L1481.7 1179.7L1477.6 1183.7L1473.5 1187.7L1469.4 1191.8L1465.2 1195.9L1461.1 1200.1L1457 1204.3L1452.9 1208.7L1448.8 1213.2L1444.7 1217.7L1440.6 1222.4L1436.5 1227.1L1432.4 1231.9L1428.3 1236.8L1424.2 1241.8L1420.1 1246.8L1416 1251.9L1411.9 1257L1407.8 1262.2L1403.7 1267.4L1399.6 1272.7L1395.5 1278L1391.4 1283.4L1387.3 1288.9L1383.1 1294.4L1379 1300L1374.9 1305.6L1370.8 1311.3L1366.7 1317L1362.6 1322.6L1358.5 1328.3L1354.4 1334L1350.3 1339.6L1346.2 1345.2L1342.1 1350.6L1338 1356.1L1333.9 1361.6L1329.8 1367.1L1325.7 1372.6L1321.6 1378L1317.5 1383.3L1313.4 1388.6L1309.3 1393.7L1305.2 1398.7L1301 1403.6L1296.9 1408.3L1292.8 1412.7L1288.7 1416.9L1284.6 1420.9L1280.5 1424.7L1276.4 1428.5L1272.3 1432.4L1268.2 1436.4L1264.1 1440.5L1260 1444.6" stroke="#000063"/><path d="M1260 1463.2L1264.1 1463.2L1268.2 1463.2L1272.3 1463.2L1276.4 1463.2L1280.5 1463.2L1284.6 1463.2L1288.7 1463.2L1292.9 1463.2L1297 1461.3L1301.1 1450.3L1305.2 1440.2L1309.3 1430.9L1313.4 1422.4L1317.5 1414.8L1321.6 1407.9L1325.7 1401.9L1329.8 1396.6L1333.9 1392.1L1338 1388.3L1342.1 1385.2L1346.2 1382.7L1350.4 1381L1354.5 1379.8L1358.6 1379.2L1362.7 1379.1L1366.8 1379.3L1370.9 1379.6L1375 1380.1L1379.1 1380.8L1383.2 1381.7L1387.3 1382.7L1391.4 1383.9L1395.5 1385.2L1399.6 1386.7L1403.7 1388.3L1407.8 1390.1L1412 1392.1L1416.1 1394.2L1420.2 1396.4L1424.3 1398.8L1428.4 1401.4L1432.5 1404L1436.6 1406.9L1440.7 1409.9L1444.8 1413L1448.9 1416.2L1453 1419.6L1457.1 1423.2L1461.2 1426.9L1465.3 1430.7L1469.5 1434.6L1473.6 1438.8L1477.7 1443L1481.8 1447.4L1485.9 1451.9L1490 1456.5L1494.1 1461.3L1498.2 1463.2L1502.3 1463.2L1506.4 1463.2L1510.5 1458.6L1514.6 1453.1L1518.7 1447.8L1522.8 1442.6L1526.9 1437.3L1531.1 1432.1L1535.2 1427.1L1539.3 1422.1L1543.4 1416.9L1547.5 1411.3L1551.6 1405.1L1555.7 1398.6L1559.8 1391.7L1563.9 1384.4L1568 1377L1572.1 1369.3L1576.2 1361.5L1580.3 1353.5L1584.4 1345.5L1588.6 1337.2L1592.7 1328.8L1596.8 1320.1L1600.9 1311.3L1605 1302.5L1609.1 1293.6L1613.2 1284.6L1617.3 1275.8L1621.4 1266.9L1625.5 1257.9L1629.6 1248.8L1633.7 1239.8L1637.8 1230.6L1641.9 1221.5L1646 1212.4L1650.2 1203.4L1654.3 1194.3L1658.4 1185.1L1662.5 1175.6L1666.6 1166.1L1670.7 1156.6L1674.8 1147.2L1678.9 1138.2L1683 1129.5L1687.1 1121.5L1691.2 1114L1695.3 1106.9L1691.2 1103.9L1687.1 1101.2L1683 1098.7L1678.9 1096.4L1674.8 1094.3L1670.7 1092.4L1666.6 1090.7L1662.5 1089.1L1658.4 1087.7L1654.3 1086.4L1650.2 1085.3L1646 1084.3L1641.9 1083.5L1637.8 1082.8L1633.7 1082.2L1629.6 1081.8L1625.5 1081.5L1621.4 1081.3L1617.3 1081.2L1613.2 1081.2L1609.1 1081.3L1605 1081.6L1600.9 1081.9L1596.8 1082.4L1592.7 1082.9L1588.6 1083.6L1584.4 1084.4L1580.3 1085.2L1576.2 1086.2L1572.1 1087.3L1568 1088.5L1563.9 1089.8L1559.8 1091.1L1555.7 1092.7L1551.6 1094.3L1547.5 1096L1543.4 1097.8L1539.3 1099.7L1535.2 1101.8L1531.1 1103.9L1526.9 1106.2L1522.8 1108.6L1518.7 1111.1L1514.6 1113.7L1510.5 1116.4L1506.4 1119.3L1502.3 1122.4L1498.2 1125.7L1494.1 1129.1L1490 1132.8L1485.9 1136.6L1481.8 1140.6L1477.7 1144.8L1473.6 1149.2L1469.5 1153.7L1465.3 1158.3L1461.2 1163.1L1457.1 1167.9L1453 1172.9L1448.9 1177.9L1444.8 1183L1440.7 1188.1L1436.6 1193.2L1432.5 1198.3L1428.4 1203.4L1424.3 1208.7L1420.2 1214L1416.1 1219.4L1412 1224.9L1407.8 1230.4L1403.7 1236L1399.6 1241.7L1395.5 1247.4L1391.4 1253.2L1387.3 1259L1383.2 1264.8L1379.1 1270.7L1375 1276.6L1370.9 1282.5L1366.8 1288.6L1362.7 1294.6L1358.6 1300.8L1354.5 1306.9L1350.4 1313.1L1346.2 1319.3L1342.1 1325.4L1338 1331.6L1333.9 1337.7L1329.8 1343.6L1325.7 1349.5L1321.6 1355.4L1317.5 1361.3L1313.4 1367.2L1309.3 1373L1305.2 1378.7L1301.1 1384.4L1297 1389.9L1292.9 1395.3L1288.7 1400.5L1284.6 1405.6L1280.5 1410.4L1276.4 1414.9L1272.3 1419.1L1268.2 1423.2L1264.1 1427.2L1260 1431.2" stroke="#00006e"/><path d="M1260 1463.2L1264.1 1463.2L1268.2 1463.2L1272.3 1463.2L1276.4 1463.2L1280.5 1463.2L1284.7 1462.5L1288.8 1447L1292.9 1432.7L1297 1419.6L1301.1 1407.8L1305.2 1397.2L1309.3 1387.8L1313.4 1379.5L1317.5 1372.4L1321.6 1366.3L1325.7 1361.4L1329.8 1357.4L1334 1354.4L1338.1 1352.4L1342.2 1351.2L1346.3 1350.8L1350.4 1350.9L1354.5 1351.2L1358.6 1351.7L1362.7 1352.4L1366.8 1353.2L1370.9 1354.2L1375 1355.5L1379.2 1356.8L1383.3 1358.4L1387.4 1360.1L1391.5 1361.9L1395.6 1364L1399.7 1366.2L1403.8 1368.5L1407.9 1371L1412 1373.7L1416.1 1376.5L1420.2 1379.5L1424.3 1382.7L1428.5 1386L1432.6 1389.4L1436.7 1393L1440.8 1396.7L1444.9 1400.6L1449 1404.7L1453.1 1408.9L1457.2 1413.2L1461.3 1417.7L1465.4 1422.4L1469.5 1427.2L1473.6 1432.1L1477.8 1437.2L1481.9 1442.4L1486 1447.8L1490.1 1453.3L1494.2 1459L1498.3 1463.2L1502.4 1463.2L1506.5 1463.2L1510.6 1457.8L1514.7 1452.4L1518.8 1447.1L1523 1441.9L1527.1 1436.5L1531.2 1431.4L1535.3 1426.4L1539.4 1421.3L1543.5 1416L1547.6 1410.3L1551.7 1404L1555.8 1397.3L1559.9 1390.3L1564 1383L1568.1 1375.4L1572.3 1367.6L1576.4 1359.7L1580.5 1351.7L1584.6 1343.6L1588.7 1335.2L1592.8 1326.6L1596.9 1317.8L1601 1308.9L1605.1 1300L1609.2 1291L1613.3 1282L1617.5 1273.1L1621.6 1264.1L1625.7 1255.1L1629.8 1246L1633.9 1236.9L1638 1227.7L1642.1 1218.6L1646.2 1209.4L1650.3 1200.4L1654.4 1191.3L1658.5 1181.9L1662.6 1172.4L1666.8 1162.9L1670.9 1153.4L1675 1144.1L1679.1 1135.2L1683.2 1126.7L1687.3 1118.8L1691.4 1111.5L1695.5 1104.5L1699.6 1097.7L1703.7 1091.1L1707.8 1084.8L1712 1078.8L1716.1 1073.1L1712 1070.6L1707.8 1068.3L1703.7 1066.2L1699.6 1064.2L1695.5 1062.5L1691.4 1060.9L1687.3 1059.4L1683.2 1058.1L1679.1 1056.9L1675 1055.8L1670.9 1054.8L1666.8 1054L1662.6 1053.2L1658.5 1052.6L1654.4 1052.1L1650.3 1051.6L1646.2 1051.3L1642.1 1051L1638 1050.8L1633.9 1050.8L1629.8 1050.8L1625.7 1050.8L1621.6 1051L1617.5 1051.3L1613.3 1051.6L1609.2 1052L1605.1 1052.5L1601 1053.1L1596.9 1053.7L1592.8 1054.4L1588.7 1055.2L1584.6 1056.1L1580.5 1057.1L1576.4 1058.1L1572.3 1059.2L1568.1 1060.4L1564 1061.7L1559.9 1063.1L1555.8 1064.5L1551.7 1066.1L1547.6 1067.7L1543.5 1069.5L1539.4 1071.3L1535.3 1073.2L1531.2 1075.3L1527.1 1077.4L1523 1079.7L1518.8 1082.1L1514.7 1084.6L1510.6 1087.2L1506.5 1089.9L1502.4 1092.7L1498.3 1095.7L1494.2 1098.7L1490.1 1101.9L1486 1105.2L1481.9 1108.7L1477.8 1112.2L1473.6 1115.9L1469.5 1119.8L1465.4 1123.9L1461.3 1128.3L1457.2 1132.9L1453.1 1137.7L1449 1142.7L1444.9 1147.9L1440.8 1153.3L1436.7 1158.9L1432.6 1164.5L1428.5 1170.2L1424.3 1176.1L1420.2 1181.9L1416.1 1187.7L1412 1193.5L1407.9 1199.3L1403.8 1205.1L1399.7 1211L1395.6 1217L1391.5 1223.1L1387.4 1229.2L1383.3 1235.4L1379.2 1241.6L1375 1247.8L1370.9 1254.1L1366.8 1260.5L1362.7 1266.8L1358.6 1273.2L1354.5 1279.5L1350.4 1286L1346.3 1292.5L1342.2 1299.1L1338.1 1305.6L1334 1312.2L1329.8 1318.8L1325.7 1325.4L1321.6 1331.9L1317.5 1338.4L1313.4 1344.7L1309.3 1350.9L1305.2 1357.2L1301.1 1363.3L1297 1369.5L1292.9 1375.6L1288.8 1381.6L1284.7 1387.4L1280.5 1393.2L1276.4 1398.7L1272.3 1404L1268.2 1409.1L1264.1 1413.9L1260 1418.4" stroke="#00007a"/><path d="M1260 1463.2L1264.1 1463.2L1268.2 1463.2L1272.3 1463.2L1276.4 1449.5L1280.6 1431.8L1284.7 1415.5L1288.8 1400.8L1292.9 1387.5L1297 1375.6L1301.1 1365.2L1305.2 1356.1L1309.3 1348.3L1313.4 1341.9L1317.5 1336.6L1321.7 1332.7L1325.8 1329.8L1329.9 1328L1334 1327.2L1338.1 1327.2L1342.2 1327.4L1346.3 1327.8L1350.4 1328.5L1354.5 1329.3L1358.6 1330.3L1362.8 1331.5L1366.9 1332.9L1371 1334.4L1375.1 1336.2L1379.2 1338.1L1383.3 1340.1L1387.4 1342.4L1391.5 1344.8L1395.6 1347.4L1399.7 1350.1L1403.9 1353.1L1408 1356.1L1412.1 1359.4L1416.2 1362.8L1420.3 1366.3L1424.4 1370.1L1428.5 1373.9L1432.6 1378L1436.7 1382.2L1440.9 1386.5L1445 1391.1L1449.1 1395.7L1453.2 1400.6L1457.3 1405.5L1461.4 1410.7L1465.5 1416L1469.6 1421.4L1473.7 1427L1477.8 1432.8L1482 1438.7L1486.1 1444.7L1490.2 1450.9L1494.3 1457.3L1498.4 1463.2L1502.5 1463.2L1506.6 1463.1L1510.7 1457.3L1514.8 1451.8L1518.9 1446.6L1523.1 1441.3L1527.2 1436L1531.3 1430.9L1535.4 1425.9L1539.5 1420.8L1543.6 1415.4L1547.7 1409.5L1551.8 1403.2L1555.9 1396.5L1560 1389.4L1564.2 1382L1568.3 1374.3L1572.4 1366.5L1576.5 1358.5L1580.6 1350.4L1584.7 1342.2L1588.8 1333.7L1592.9 1325L1597 1316.2L1601.2 1307.3L1605.3 1298.3L1609.4 1289.2L1613.5 1280.2L1617.6 1271.3L1621.7 1262.2L1625.8 1253.1L1629.9 1244L1634 1234.8L1638.1 1225.7L1642.3 1216.5L1646.4 1207.4L1650.5 1198.3L1654.6 1189.1L1658.7 1179.7L1662.8 1170.2L1666.9 1160.6L1671 1151.1L1675.1 1141.9L1679.2 1133.1L1683.4 1124.7L1687.5 1117L1691.6 1109.8L1695.7 1102.8L1699.8 1096L1703.9 1089.6L1708 1083.3L1712.1 1077.4L1716.2 1071.7L1720.3 1066.3L1724.5 1061.2L1728.6 1056.4L1732.7 1051.7L1736.8 1047.3L1732.7 1045.1L1728.6 1043L1724.5 1041.2L1720.3 1039.4L1716.2 1037.9L1712.1 1036.4L1708 1035.1L1703.9 1033.8L1699.8 1032.7L1695.7 1031.7L1691.6 1030.8L1687.5 1030L1683.4 1029.3L1679.2 1028.7L1675.1 1028.1L1671 1027.7L1666.9 1027.3L1662.8 1027L1658.7 1026.7L1654.6 1026.5L1650.5 1026.4L1646.4 1026.4L1642.3 1026.4L1638.1 1026.5L1634 1026.6L1629.9 1026.8L1625.8 1027.1L1621.7 1027.4L1617.6 1027.8L1613.5 1028.3L1609.4 1028.8L1605.3 1029.3L1601.2 1030L1597 1030.7L1592.9 1031.4L1588.8 1032.2L1584.7 1033.1L1580.6 1034L1576.5 1035L1572.4 1036.1L1568.3 1037.3L1564.2 1038.5L1560 1039.7L1555.9 1041.1L1551.8 1042.5L1547.7 1044L1543.6 1045.6L1539.5 1047.2L1535.4 1049L1531.3 1050.8L1527.2 1052.7L1523.1 1054.6L1518.9 1056.7L1514.8 1058.8L1510.7 1061.1L1506.6 1063.4L1502.5 1065.8L1498.4 1068.4L1494.3 1071.1L1490.2 1073.9L1486.1 1076.9L1482 1079.9L1477.8 1083.1L1473.7 1086.5L1469.6 1089.9L1465.5 1093.5L1461.4 1097.3L1457.3 1101.1L1453.2 1105.2L1449.1 1109.3L1445 1113.6L1440.9 1118L1436.7 1122.8L1432.6 1127.8L1428.5 1133.1L1424.4 1138.6L1420.3 1144.4L1416.2 1150.4L1412.1 1156.6L1408 1162.9L1403.9 1169.3L1399.7 1175.7L1395.6 1182.2L1391.5 1188.6L1387.4 1195L1383.3 1201.3L1379.2 1207.7L1375.1 1214.2L1371 1220.7L1366.9 1227.3L1362.8 1233.9L1358.6 1240.6L1354.5 1247.4L1350.4 1254.1L1346.3 1260.9L1342.2 1267.7L1338.1 1274.4L1334 1281.2L1329.9 1288.1L1325.8 1295L1321.7 1302L1317.5 1309L1313.4 1316L1309.3 1322.9L1305.2 1329.8L1301.1 1336.6L1297 1343.3L1292.9 1349.9L1288.8 1356.4L1284.7 1362.9L1280.6 1369.3L1276.4 1375.7L1272.3 1381.9L1268.2 1388L1264.1 1393.9L1260 1399.7" stroke="#000086"/><path d="M1260 1463.2L1264.1 1422.6L1268.2 1382.6L1272.3 1354.6L1276.4 1335.6L1280.6 1323.1L1284.7 1315.1L1288.8 1310.4L1292.9 1307.6L1297 1306.1L1301.1 1305.4L1305.2 1305.1L1309.3 1305L1313.5 1305L1317.6 1305L1321.7 1305L1325.8 1305L1329.9 1305.3L1334 1305.9L1338.1 1306.8L1342.2 1308L1346.3 1309.3L1350.5 1310.9L1354.6 1312.7L1358.7 1314.6L1362.8 1316.7L1366.9 1319L1371 1321.5L1375.1 1324.1L1379.2 1326.9L1383.4 1329.8L1387.5 1332.9L1391.6 1336.1L1395.7 1339.4L1399.8 1342.9L1403.9 1346.6L1408 1350.4L1412.1 1354.3L1416.2 1358.3L1420.4 1362.5L1424.5 1366.8L1428.6 1371.2L1432.7 1375.8L1436.8 1380.5L1440.9 1385.3L1445 1390.2L1449.1 1395.2L1453.3 1400.4L1457.4 1405.7L1461.5 1411.1L1465.6 1416.6L1469.7 1422.2L1473.8 1428L1477.9 1433.8L1482 1439.8L1486.1 1445.9L1490.3 1452L1494.4 1458.3L1498.5 1463.2L1502.6 1463.2L1506.7 1462.5L1510.8 1456.8L1514.9 1451.4L1519 1446.1L1523.2 1440.8L1527.3 1435.5L1531.4 1430.4L1535.5 1425.3L1539.6 1420.2L1543.7 1414.8L1547.8 1408.8L1551.9 1402.4L1556 1395.6L1560.2 1388.4L1564.3 1381L1568.4 1373.2L1572.5 1365.3L1576.6 1357.3L1580.7 1349.1L1584.8 1340.8L1588.9 1332.3L1593.1 1323.5L1597.2 1314.6L1601.3 1305.6L1605.4 1296.5L1609.5 1287.5L1613.6 1278.4L1617.7 1269.4L1621.8 1260.3L1625.9 1251.2L1630.1 1242L1634.2 1232.8L1638.3 1223.6L1642.4 1214.5L1646.5 1205.3L1650.6 1196.2L1654.7 1187L1658.8 1177.5L1663 1168L1667.1 1158.4L1671.2 1149L1675.3 1139.8L1679.4 1131.1L1683.5 1122.9L1687.6 1115.3L1691.7 1108.1L1695.8 1101.2L1700 1094.5L1704.1 1088L1708.2 1081.9L1712.3 1076L1716.4 1070.4L1720.5 1065.1L1724.6 1060.1L1728.7 1055.3L1732.8 1050.6L1737 1046.2L1741.1 1042L1745.2 1037.9L1749.3 1034L1753.4 1030.3L1757.5 1026.9L1753.4 1025L1749.3 1023.2L1745.2 1021.6L1741.1 1020.1L1737 1018.7L1732.8 1017.4L1728.7 1016.3L1724.6 1015.2L1720.5 1014.2L1716.4 1013.3L1712.3 1012.4L1708.2 1011.7L1704.1 1011L1700 1010.4L1695.8 1009.9L1691.7 1009.4L1687.6 1009L1683.5 1008.7L1679.4 1008.4L1675.3 1008.2L1671.2 1008L1667.1 1007.9L1663 1007.8L1658.8 1007.8L1654.7 1007.8L1650.6 1007.9L1646.5 1008L1642.4 1008.2L1638.3 1008.4L1634.2 1008.7L1630.1 1009L1625.9 1009.4L1621.8 1009.8L1617.7 1010.2L1613.6 1010.7L1609.5 1011.3L1605.4 1011.9L1601.3 1012.5L1597.2 1013.2L1593.1 1013.9L1588.9 1014.7L1584.8 1015.6L1580.7 1016.4L1576.6 1017.4L1572.5 1018.4L1568.4 1019.4L1564.3 1020.5L1560.2 1021.7L1556 1022.9L1551.9 1024.1L1547.8 1025.4L1543.7 1026.8L1539.6 1028.3L1535.5 1029.8L1531.4 1031.4L1527.3 1033L1523.2 1034.8L1519 1036.6L1514.9 1038.5L1510.8 1040.5L1506.7 1042.6L1502.6 1044.7L1498.5 1047L1494.4 1049.3L1490.3 1051.8L1486.1 1054.3L1482 1056.9L1477.9 1059.7L1473.8 1062.5L1469.7 1065.5L1465.6 1068.6L1461.5 1071.8L1457.4 1075.2L1453.3 1078.8L1449.1 1082.5L1445 1086.3L1440.9 1090.3L1436.8 1094.4L1432.7 1098.7L1428.6 1103.2L1424.5 1107.8L1420.4 1112.6L1416.2 1117.5L1412.1 1122.7L1408 1128.2L1403.9 1134.1L1399.8 1140.3L1395.7 1146.7L1391.6 1153.3L1387.5 1160.1L1383.4 1166.9L1379.2 1173.9L1375.1 1180.9L1371 1187.8L1366.9 1194.6L1362.8 1201.4L1358.7 1208.2L1354.6 1215.1L1350.5 1222.1L1346.3 1229.1L1342.2 1236.2L1338.1 1243.3L1334 1250.4L1329.9 1257.5L1325.8 1264.7L1321.7 1271.8L1317.6 1279L1313.5 1286.2L1309.3 1293.4L1305.2 1300.7L1301.1 1308L1297 1315.4L1292.9 1322.6L1288.8 1329.8L1284.7 1336.9L1280.6 1343.9L1276.4 1350.7L1272.3 1357.5L1268.2 1364.2L1264.1 1370.9L1260 1377.5" stroke="#00009b" stroke-width="6.5"/><path d="M1260 1463.2L1264.1 1413.4L1268.2 1374.9L1272.3 1348.1L1276.5 1330.1L1280.6 1318.3L1284.7 1310.9L1288.8 1306.5L1292.9 1304.1L1297 1302.8L1301.1 1302.2L1305.2 1301.9L1309.4 1301.8L1313.5 1301.8L1317.6 1301.8L1321.7 1301.8L1325.8 1301.8L1329.9 1302.2L1334 1302.9L1338.1 1303.9L1342.3 1305.1L1346.4 1306.5L1350.5 1308.1L1354.6 1309.9L1358.7 1311.9L1362.8 1314L1366.9 1316.3L1371.1 1318.8L1375.2 1321.5L1379.3 1324.3L1383.4 1327.2L1387.5 1330.3L1391.6 1333.5L1395.7 1336.9L1399.8 1340.4L1404 1344.1L1408.1 1347.8L1412.2 1351.8L1416.3 1355.8L1420.4 1360L1424.5 1364.3L1428.6 1368.7L1432.8 1373.3L1436.9 1378L1441 1382.8L1445.1 1387.7L1449.2 1392.7L1453.3 1397.9L1457.4 1403.2L1461.5 1408.5L1465.7 1414L1469.8 1419.7L1473.9 1425.4L1478 1431.2L1482.1 1437.2L1486.2 1443.2L1490.3 1449.4L1494.4 1455.7L1498.6 1462L1502.7 1463.2L1506.8 1463.2L1510.9 1459.4L1515 1453.9L1519.1 1448.6L1523.2 1443.4L1527.4 1438.2L1531.5 1433L1535.6 1428.1L1539.7 1423.1L1543.8 1418L1547.9 1412.5L1552 1406.5L1556.1 1400.2L1560.3 1393.4L1564.4 1386.4L1568.5 1379.1L1572.6 1371.6L1576.7 1364L1580.8 1356.2L1584.9 1348.4L1589 1340.4L1593.2 1332.1L1597.3 1323.7L1601.4 1315.1L1605.5 1306.4L1609.6 1297.6L1613.7 1288.8L1617.8 1280L1622 1271.2L1626.1 1262.4L1630.2 1253.4L1634.3 1244.4L1638.4 1235.4L1642.5 1226.3L1646.6 1217.2L1650.7 1208.2L1654.9 1199.2L1659 1190.1L1663.1 1180.7L1667.2 1171.2L1671.3 1161.7L1675.4 1152.3L1679.5 1143L1683.6 1134.2L1687.8 1125.8L1691.9 1118L1696 1110.7L1700.1 1103.7L1704.2 1096.9L1708.3 1090.4L1712.4 1084.1L1716.6 1078.1L1720.7 1072.4L1724.8 1067L1728.9 1061.9L1733 1057L1737.1 1052.3L1741.2 1047.8L1745.3 1043.5L1749.5 1039.4L1753.6 1035.4L1757.7 1031.7L1761.8 1028.1L1765.9 1024.7L1770 1021.5L1774.1 1018.4L1778.2 1015.4L1774.1 1013.6L1770 1012L1765.9 1010.5L1761.8 1009.2L1757.7 1007.9L1753.6 1006.7L1749.5 1005.7L1745.3 1004.7L1741.2 1003.8L1737.1 1003L1733 1002.3L1728.9 1001.6L1724.8 1001L1720.7 1000.5L1716.6 1000L1712.4 999.6L1708.3 999.2L1704.2 998.9L1700.1 998.6L1696 998.4L1691.9 998.2L1687.8 998L1683.6 997.9L1679.5 997.9L1675.4 997.8L1671.3 997.8L1667.2 997.9L1663.1 998L1659 998.1L1654.9 998.3L1650.7 998.5L1646.6 998.7L1642.5 999L1638.4 999.3L1634.3 999.6L1630.2 1000L1626.1 1000.4L1622 1000.9L1617.8 1001.4L1613.7 1001.9L1609.6 1002.5L1605.5 1003.1L1601.4 1003.7L1597.3 1004.4L1593.2 1005.2L1589 1006L1584.9 1006.8L1580.8 1007.7L1576.7 1008.6L1572.6 1009.6L1568.5 1010.6L1564.4 1011.7L1560.3 1012.9L1556.1 1014.1L1552 1015.3L1547.9 1016.6L1543.8 1018L1539.7 1019.4L1535.6 1020.9L1531.5 1022.4L1527.4 1024L1523.2 1025.6L1519.1 1027.4L1515 1029.2L1510.9 1031.1L1506.8 1033L1502.7 1035.1L1498.6 1037.3L1494.4 1039.5L1490.3 1041.8L1486.2 1044.3L1482.1 1046.8L1478 1049.4L1473.9 1052.2L1469.8 1055L1465.7 1057.9L1461.5 1061L1457.4 1064.1L1453.3 1067.5L1449.2 1070.9L1445.1 1074.6L1441 1078.4L1436.9 1082.3L1432.8 1086.5L1428.6 1090.7L1424.5 1095.2L1420.4 1099.8L1416.3 1104.5L1412.2 1109.5L1408.1 1114.6L1404 1119.8L1399.8 1125.5L1395.7 1131.5L1391.6 1137.8L1387.5 1144.4L1383.4 1151.2L1379.3 1158.2L1375.2 1165.3L1371.1 1172.5L1366.9 1179.7L1362.8 1186.9L1358.7 1194L1354.6 1200.9L1350.5 1207.9L1346.4 1215L1342.3 1222.1L1338.1 1229.2L1334 1236.4L1329.9 1243.6L1325.8 1250.8L1321.7 1258L1317.6 1265.2L1313.5 1272.4L1309.4 1279.5L1305.2 1286.7L1301.1 1294L1297 1301.2L1292.9 1308.5L1288.8 1315.7L1284.7 1322.9L1280.6 1330L1276.5 1337L1272.3 1343.8L1268.2 1350.5L1264.1 1357.2L1260 1363.8" stroke="#0000b1" stroke-width="6.5"/><path d="M1260 1456.7L1264.1 1404.3L1268.2 1367.3L1272.3 1341.7L1276.5 1324.7L1280.6 1313.6L1284.7 1306.8L1288.8 1302.8L1292.9 1300.6L1297 1299.4L1301.1 1298.9L1305.3 1298.7L1309.4 1298.6L1313.5 1298.6L1317.6 1298.6L1321.7 1298.6L1325.8 1298.7L1329.9 1299.2L1334.1 1300L1338.2 1301L1342.3 1302.2L1346.4 1303.7L1350.5 1305.3L1354.6 1307.1L1358.7 1309.2L1362.9 1311.3L1367 1313.7L1371.1 1316.2L1375.2 1318.8L1379.3 1321.6L1383.4 1324.6L1387.5 1327.7L1391.7 1331L1395.8 1334.3L1399.9 1337.9L1404 1341.5L1408.1 1345.3L1412.2 1349.2L1416.3 1353.3L1420.5 1357.5L1424.6 1361.8L1428.7 1366.2L1432.8 1370.8L1436.9 1375.5L1441 1380.3L1445.1 1385.2L1449.3 1390.2L1453.4 1395.4L1457.5 1400.6L1461.6 1406L1465.7 1411.5L1469.8 1417.1L1473.9 1422.8L1478.1 1428.6L1482.2 1434.6L1486.3 1440.6L1490.4 1446.8L1494.5 1453L1498.6 1459.4L1502.7 1463.2L1506.9 1463.2L1511 1462.1L1515.1 1456.5L1519.2 1451.2L1523.3 1446.1L1527.4 1440.9L1531.5 1435.8L1535.7 1430.8L1539.8 1426L1543.9 1421.1L1548 1416L1552.1 1410.5L1556.2 1404.6L1560.3 1398.3L1564.5 1391.8L1568.6 1384.9L1572.7 1377.9L1576.8 1370.6L1580.9 1363.3L1585 1355.8L1589.1 1348.2L1593.3 1340.5L1597.4 1332.6L1601.5 1324.5L1605.6 1316.1L1609.7 1307.7L1613.8 1299.2L1617.9 1290.6L1622.1 1282L1626.2 1273.4L1630.3 1264.7L1634.4 1255.9L1638.5 1247.1L1642.6 1238.1L1646.7 1229.2L1650.9 1220.2L1655 1211.2L1659.1 1202.2L1663.2 1193.3L1667.3 1184L1671.4 1174.6L1675.5 1165.1L1679.7 1155.7L1683.8 1146.4L1687.9 1137.4L1692 1128.8L1696.1 1120.8L1700.2 1113.4L1704.3 1106.3L1708.5 1099.4L1712.6 1092.8L1716.7 1086.4L1720.8 1080.3L1724.9 1074.5L1729 1069L1733.2 1063.8L1737.3 1058.8L1741.4 1054.1L1745.5 1049.5L1749.6 1045.1L1753.7 1040.9L1757.8 1036.9L1762 1033.1L1766.1 1029.4L1770.2 1026L1774.3 1022.7L1778.4 1019.5L1782.5 1016.5L1786.6 1013.5L1790.8 1010.7L1794.9 1008.1L1799 1005.6L1794.9 1004L1790.8 1002.6L1786.6 1001.3L1782.5 1000.2L1778.4 999.1L1774.3 998.1L1770.2 997.1L1766.1 996.3L1762 995.5L1757.8 994.8L1753.7 994.1L1749.6 993.5L1745.5 992.9L1741.4 992.4L1737.3 992L1733.2 991.6L1729 991.2L1724.9 990.9L1720.8 990.6L1716.7 990.4L1712.6 990.2L1708.5 990.1L1704.3 989.9L1700.2 989.8L1696.1 989.8L1692 989.8L1687.9 989.8L1683.8 989.8L1679.7 989.9L1675.5 990L1671.4 990.1L1667.3 990.2L1663.2 990.4L1659.1 990.6L1655 990.9L1650.9 991.1L1646.7 991.4L1642.6 991.8L1638.5 992.1L1634.4 992.5L1630.3 993L1626.2 993.4L1622.1 993.9L1617.9 994.4L1613.8 995L1609.7 995.6L1605.6 996.2L1601.5 996.8L1597.4 997.5L1593.3 998.2L1589.1 999L1585 999.8L1580.9 1000.6L1576.8 1001.5L1572.7 1002.4L1568.6 1003.4L1564.5 1004.4L1560.3 1005.5L1556.2 1006.7L1552.1 1007.9L1548 1009.1L1543.9 1010.4L1539.8 1011.8L1535.7 1013.2L1531.5 1014.7L1527.4 1016.3L1523.3 1017.9L1519.2 1019.6L1515.1 1021.3L1511 1023.1L1506.9 1025L1502.7 1026.9L1498.6 1028.9L1494.5 1031L1490.4 1033.3L1486.3 1035.6L1482.2 1038L1478.1 1040.5L1473.9 1043.1L1469.8 1045.8L1465.7 1048.6L1461.6 1051.6L1457.5 1054.6L1453.4 1057.8L1449.3 1061L1445.1 1064.4L1441 1068L1436.9 1071.7L1432.8 1075.6L1428.7 1079.7L1424.6 1084L1420.5 1088.4L1416.3 1093L1412.2 1097.7L1408.1 1102.6L1404 1107.7L1399.9 1113L1395.8 1118.4L1391.7 1124.2L1387.5 1130.4L1383.4 1136.9L1379.3 1143.7L1375.2 1150.8L1371.1 1158L1367 1165.3L1362.9 1172.7L1358.7 1180.2L1354.6 1187.5L1350.5 1194.7L1346.4 1201.8L1342.3 1209L1338.2 1216.2L1334.1 1223.5L1329.9 1230.8L1325.8 1238.1L1321.7 1245.4L1317.6 1252.7L1313.5 1259.9L1309.4 1267.2L1305.3 1274.4L1301.1 1281.5L1297 1288.7L1292.9 1296L1288.8 1303.2L1284.7 1310.4L1280.6 1317.5L1276.5 1324.6L1272.3 1331.6L1268.2 1338.4L1264.1 1345.1L1260 1351.7" stroke="#0000c9" stroke-width="6.5"/><path d="M1260 1445.9L1264.1 1395.3L1268.2 1359.8L1272.3 1335.5L1276.5 1319.4L1280.6 1309L1284.7 1302.7L1288.8 1299.1L1292.9 1297.1L1297 1296.1L1301.2 1295.6L1305.3 1295.5L1309.4 1295.4L1313.5 1295.4L1317.6 1295.4L1321.7 1295.4L1325.8 1295.6L1330 1296.2L1334.1 1297L1338.2 1298.1L1342.3 1299.4L1346.4 1300.9L1350.5 1302.5L1354.7 1304.4L1358.8 1306.4L1362.9 1308.6L1367 1311L1371.1 1313.5L1375.2 1316.2L1379.3 1319L1383.5 1322L1387.6 1325.1L1391.7 1328.4L1395.8 1331.8L1399.9 1335.3L1404 1339L1408.2 1342.8L1412.3 1346.7L1416.4 1350.8L1420.5 1355L1424.6 1359.3L1428.7 1363.7L1432.9 1368.3L1437 1372.9L1441.1 1377.7L1445.2 1382.6L1449.3 1387.7L1453.4 1392.8L1457.5 1398.1L1461.7 1403.5L1465.8 1408.9L1469.9 1414.5L1474 1420.2L1478.1 1426.1L1482.2 1432L1486.4 1438L1490.5 1444.1L1494.6 1450.4L1498.7 1456.7L1502.8 1463.1L1506.9 1463.2L1511 1463.2L1515.2 1459.2L1519.3 1453.8L1523.4 1448.7L1527.5 1443.7L1531.6 1438.6L1535.7 1433.6L1539.9 1428.8L1544 1424.1L1548.1 1419.3L1552.2 1414.3L1556.3 1408.9L1560.4 1403.1L1564.5 1397L1568.7 1390.6L1572.8 1384L1576.9 1377.2L1581 1370.3L1585.1 1363.2L1589.2 1356L1593.4 1348.7L1597.5 1341.3L1601.6 1333.6L1605.7 1325.8L1609.8 1317.7L1613.9 1309.5L1618 1301.2L1622.2 1292.8L1626.3 1284.3L1630.4 1275.8L1634.5 1267.3L1638.6 1258.7L1642.7 1249.9L1646.9 1241.1L1651 1232.2L1655.1 1223.3L1659.2 1214.3L1663.3 1205.4L1667.4 1196.5L1671.6 1187.4L1675.7 1178.1L1679.8 1168.6L1683.9 1159.1L1688 1149.8L1692.1 1140.7L1696.2 1131.9L1700.4 1123.7L1704.5 1116.1L1708.6 1108.9L1712.7 1101.9L1716.8 1095.2L1720.9 1088.8L1725.1 1082.6L1729.2 1076.7L1733.3 1071L1737.4 1065.7L1741.5 1060.7L1745.6 1055.8L1749.7 1051.2L1753.9 1046.7L1758 1042.5L1762.1 1038.4L1766.2 1034.5L1770.3 1030.8L1774.4 1027.3L1778.6 1023.9L1782.7 1020.7L1786.8 1017.6L1790.9 1014.6L1795 1011.8L1799.1 1009.1L1803.2 1006.5L1807.4 1004L1811.5 1001.8L1815.6 999.6L1819.7 997.6L1815.6 996.2L1811.5 995L1807.4 993.8L1803.2 992.7L1799.1 991.8L1795 990.9L1790.9 990.1L1786.8 989.3L1782.7 988.6L1778.6 988L1774.4 987.4L1770.3 986.9L1766.2 986.4L1762.1 986L1758 985.6L1753.9 985.3L1749.7 985L1745.6 984.7L1741.5 984.5L1737.4 984.3L1733.3 984.1L1729.2 984L1725.1 983.8L1720.9 983.7L1716.8 983.7L1712.7 983.6L1708.6 983.6L1704.5 983.6L1700.4 983.6L1696.2 983.6L1692.1 983.7L1688 983.8L1683.9 983.9L1679.8 984L1675.7 984.2L1671.6 984.4L1667.4 984.6L1663.3 984.8L1659.2 985L1655.1 985.3L1651 985.6L1646.9 985.9L1642.7 986.2L1638.6 986.6L1634.5 987L1630.4 987.4L1626.3 987.8L1622.2 988.3L1618 988.8L1613.9 989.4L1609.8 989.9L1605.7 990.5L1601.6 991.2L1597.5 991.8L1593.4 992.6L1589.2 993.3L1585.1 994.1L1581 994.9L1576.9 995.8L1572.8 996.7L1568.7 997.6L1564.5 998.6L1560.4 999.6L1556.3 1000.6L1552.2 1001.7L1548.1 1002.9L1544 1004.1L1539.9 1005.4L1535.7 1006.7L1531.6 1008.1L1527.5 1009.6L1523.4 1011.2L1519.3 1012.8L1515.2 1014.4L1511 1016.2L1506.9 1018L1502.8 1019.9L1498.7 1021.8L1494.6 1023.8L1490.5 1025.9L1486.4 1028.1L1482.2 1030.3L1478.1 1032.7L1474 1035.2L1469.9 1037.8L1465.8 1040.5L1461.7 1043.3L1457.5 1046.2L1453.4 1049.2L1449.3 1052.3L1445.2 1055.6L1441.1 1059L1437 1062.5L1432.9 1066.1L1428.7 1070L1424.6 1074L1420.5 1078.2L1416.4 1082.6L1412.3 1087.2L1408.2 1091.9L1404 1096.8L1399.9 1101.9L1395.8 1107.2L1391.7 1112.6L1387.6 1118.2L1383.5 1124.2L1379.3 1130.6L1375.2 1137.4L1371.1 1144.4L1367 1151.7L1362.9 1159.1L1358.8 1166.7L1354.7 1174.3L1350.5 1181.9L1346.4 1189.4L1342.3 1196.7L1338.2 1204L1334.1 1211.4L1330 1218.7L1325.8 1226.1L1321.7 1233.5L1317.6 1240.9L1313.5 1248.3L1309.4 1255.7L1305.3 1263L1301.2 1270.3L1297 1277.5L1292.9 1284.7L1288.8 1291.9L1284.7 1299.2L1280.6 1306.3L1276.5 1313.5L1272.3 1320.5L1268.2 1327.5L1264.1 1334.3L1260 1341" stroke="#0000e1" stroke-width="6.5"/><path d="M1260 1435.2L1264.1 1386.5L1268.2 1352.5L1272.3 1329.4L1276.5 1314.2L1280.6 1304.5L1284.7 1298.7L1288.8 1295.4L1292.9 1293.6L1297 1292.8L1301.2 1292.4L1305.3 1292.3L1309.4 1292.2L1313.5 1292.2L1317.6 1292.2L1321.7 1292.2L1325.9 1292.5L1330 1293.2L1334.1 1294.1L1338.2 1295.2L1342.3 1296.5L1346.4 1298L1350.6 1299.8L1354.7 1301.6L1358.8 1303.7L1362.9 1305.9L1367 1308.3L1371.1 1310.9L1375.3 1313.6L1379.4 1316.4L1383.5 1319.4L1387.6 1322.6L1391.7 1325.8L1395.8 1329.2L1400 1332.8L1404.1 1336.5L1408.2 1340.3L1412.3 1344.2L1416.4 1348.3L1420.5 1352.5L1424.7 1356.8L1428.8 1361.2L1432.9 1365.7L1437 1370.4L1441.1 1375.2L1445.2 1380.1L1449.4 1385.1L1453.5 1390.3L1457.6 1395.5L1461.7 1400.9L1465.8 1406.4L1469.9 1412L1474.1 1417.6L1478.2 1423.4L1482.3 1429.4L1486.4 1435.4L1490.5 1441.5L1494.6 1447.7L1498.8 1454.1L1502.9 1460.5L1507 1463.2L1511.1 1463.2L1515.2 1462L1519.3 1456.5L1523.5 1451.3L1527.6 1446.4L1531.7 1441.5L1535.8 1436.5L1539.9 1431.7L1544 1427.2L1548.2 1422.6L1552.3 1417.9L1556.4 1412.9L1560.5 1407.6L1564.6 1402L1568.7 1396.1L1572.9 1390L1577 1383.7L1581.1 1377.2L1585.2 1370.5L1589.3 1363.7L1593.4 1356.7L1597.6 1349.7L1601.7 1342.6L1605.8 1335.2L1609.9 1327.5L1614 1319.7L1618.1 1311.7L1622.3 1303.5L1626.4 1295.3L1630.5 1286.9L1634.6 1278.5L1638.7 1270.1L1642.8 1261.6L1647 1252.9L1651.1 1244.2L1655.2 1235.4L1659.3 1226.5L1663.4 1217.6L1667.5 1208.7L1671.7 1199.8L1675.8 1190.8L1679.9 1181.6L1684 1172.2L1688.1 1162.7L1692.2 1153.3L1696.4 1144.1L1700.5 1135.2L1704.6 1126.7L1708.7 1118.9L1712.8 1111.6L1716.9 1104.5L1721.1 1097.7L1725.2 1091.2L1729.3 1084.9L1733.4 1078.9L1737.5 1073.1L1741.6 1067.7L1745.8 1062.5L1749.9 1057.6L1754 1052.9L1758.1 1048.4L1762.2 1044.1L1766.3 1039.9L1770.5 1035.9L1774.6 1032.2L1778.7 1028.6L1782.8 1025.2L1786.9 1021.9L1791 1018.8L1795.2 1015.7L1799.3 1012.8L1803.4 1010.1L1807.5 1007.4L1811.6 1004.9L1815.7 1002.6L1819.9 1000.4L1824 998.3L1828.1 996.3L1832.2 994.4L1836.3 992.6L1840.4 990.8L1836.3 989.6L1832.2 988.6L1828.1 987.6L1824 986.7L1819.9 985.9L1815.7 985.2L1811.6 984.5L1807.5 983.9L1803.4 983.3L1799.3 982.8L1795.2 982.3L1791 981.8L1786.9 981.4L1782.8 981.1L1778.7 980.7L1774.6 980.4L1770.5 980.1L1766.3 979.9L1762.2 979.7L1758.1 979.5L1754 979.3L1749.9 979.2L1745.8 979L1741.6 978.9L1737.5 978.9L1733.4 978.8L1729.3 978.8L1725.2 978.7L1721.1 978.7L1716.9 978.7L1712.8 978.8L1708.7 978.8L1704.6 978.9L1700.5 979L1696.4 979.1L1692.2 979.2L1688.1 979.3L1684 979.5L1679.9 979.7L1675.8 979.8L1671.7 980L1667.5 980.3L1663.4 980.5L1659.3 980.8L1655.2 981.1L1651.1 981.4L1647 981.7L1642.8 982L1638.7 982.4L1634.6 982.8L1630.5 983.2L1626.4 983.6L1622.3 984L1618.1 984.5L1614 985L1609.9 985.5L1605.8 986.1L1601.7 986.7L1597.6 987.3L1593.4 987.9L1589.3 988.6L1585.2 989.3L1581.1 990.1L1577 990.9L1572.9 991.8L1568.7 992.7L1564.6 993.6L1560.5 994.6L1556.4 995.6L1552.3 996.6L1548.2 997.7L1544 998.9L1539.9 1000.1L1535.8 1001.3L1531.7 1002.6L1527.6 1004L1523.5 1005.4L1519.3 1006.9L1515.2 1008.5L1511.1 1010.2L1507 1011.9L1502.9 1013.7L1498.8 1015.5L1494.6 1017.5L1490.5 1019.5L1486.4 1021.6L1482.3 1023.7L1478.2 1026L1474.1 1028.3L1469.9 1030.7L1465.8 1033.3L1461.7 1035.9L1457.6 1038.7L1453.5 1041.6L1449.4 1044.6L1445.2 1047.7L1441.1 1051L1437 1054.4L1432.9 1057.9L1428.8 1061.5L1424.7 1065.2L1420.5 1069.2L1416.4 1073.4L1412.3 1077.7L1408.2 1082.2L1404.1 1087L1400 1091.9L1395.8 1097L1391.7 1102.2L1387.6 1107.7L1383.5 1113.3L1379.4 1119.2L1375.3 1125.4L1371.1 1132L1367 1139.1L1362.9 1146.4L1358.8 1153.9L1354.7 1161.6L1350.6 1169.3L1346.4 1177.1L1342.3 1184.8L1338.2 1192.4L1334.1 1199.9L1330 1207.3L1325.9 1214.8L1321.7 1222.3L1317.6 1229.8L1313.5 1237.4L1309.4 1244.9L1305.3 1252.3L1301.2 1259.8L1297 1267.1L1292.9 1274.4L1288.8 1281.7L1284.7 1288.9L1280.6 1296.2L1276.5 1303.4L1272.3 1310.5L1268.2 1317.6L1264.1 1324.5L1260 1331.3" stroke="#0000eb" stroke-width="6.5"/><path d="M1260 1424.7L1264.1 1377.8L1268.2 1345.3L1272.4 1323.3L1276.5 1309.1L1280.6 1300.1L1284.7 1294.8L1288.8 1291.8L1292.9 1290.2L1297.1 1289.5L1301.2 1289.2L1305.3 1289.1L1309.4 1289L1313.5 1289L1317.6 1289L1321.8 1289.1L1325.9 1289.5L1330 1290.2L1334.1 1291.1L1338.2 1292.3L1342.4 1293.7L1346.5 1295.2L1350.6 1297L1354.7 1298.9L1358.8 1301L1362.9 1303.3L1367.1 1305.7L1371.2 1308.2L1375.3 1311L1379.4 1313.8L1383.5 1316.8L1387.6 1320L1391.8 1323.3L1395.9 1326.7L1400 1330.2L1404.1 1333.9L1408.2 1337.7L1412.4 1341.7L1416.5 1345.7L1420.6 1349.9L1424.7 1354.2L1428.8 1358.7L1432.9 1363.2L1437.1 1367.9L1441.2 1372.7L1445.3 1377.6L1449.4 1382.6L1453.5 1387.7L1457.6 1393L1461.8 1398.3L1465.9 1403.8L1470 1409.4L1474.1 1415.1L1478.2 1420.8L1482.4 1426.7L1486.5 1432.7L1490.6 1438.8L1494.7 1445.1L1498.8 1451.4L1502.9 1457.8L1507.1 1463.2L1511.2 1463.2L1515.3 1463.2L1519.4 1459.3L1523.5 1454.1L1527.6 1449.1L1531.8 1444.3L1535.9 1439.5L1540 1434.7L1544.1 1430.2L1548.2 1425.8L1552.3 1421.3L1556.5 1416.8L1560.6 1412L1564.7 1406.9L1568.8 1401.4L1572.9 1395.8L1577.1 1390L1581.2 1383.9L1585.3 1377.7L1589.4 1371.3L1593.5 1364.7L1597.6 1358L1601.8 1351.2L1605.9 1344.3L1610 1337.1L1614.1 1329.7L1618.2 1322L1622.3 1314.2L1626.5 1306.2L1630.6 1298L1634.7 1289.8L1638.8 1281.5L1642.9 1273.1L1647.1 1264.7L1651.2 1256.1L1655.3 1247.4L1659.4 1238.6L1663.5 1229.8L1667.6 1220.9L1671.8 1212L1675.9 1203.1L1680 1194.2L1684.1 1185.1L1688.2 1175.7L1692.3 1166.3L1696.5 1156.8L1700.6 1147.5L1704.7 1138.5L1708.8 1129.9L1712.9 1121.8L1717.1 1114.3L1721.2 1107.2L1725.3 1100.3L1729.4 1093.7L1733.5 1087.3L1737.6 1081.1L1741.8 1075.3L1745.9 1069.7L1750 1064.5L1754.1 1059.5L1758.2 1054.7L1762.3 1050.1L1766.5 1045.7L1770.6 1041.5L1774.7 1037.4L1778.8 1033.6L1782.9 1029.9L1787.1 1026.4L1791.2 1023.1L1795.3 1019.9L1799.4 1016.9L1803.5 1013.9L1807.6 1011.1L1811.8 1008.4L1815.9 1005.9L1820 1003.5L1824.1 1001.2L1828.2 999.1L1832.3 997.1L1836.5 995.1L1840.6 993.2L1844.7 991.5L1848.8 989.8L1852.9 988.2L1857.1 986.8L1861.2 985.4L1857.1 984.4L1852.9 983.6L1848.8 982.7L1844.7 982L1840.6 981.3L1836.5 980.6L1832.3 980L1828.2 979.5L1824.1 979L1820 978.6L1815.9 978.1L1811.8 977.8L1807.6 977.4L1803.5 977.1L1799.4 976.9L1795.3 976.6L1791.2 976.4L1787.1 976.2L1782.9 976.1L1778.8 975.9L1774.7 975.8L1770.6 975.7L1766.5 975.6L1762.3 975.5L1758.2 975.4L1754.1 975.3L1750 975.3L1745.9 975.3L1741.8 975.3L1737.6 975.2L1733.5 975.3L1729.4 975.3L1725.3 975.3L1721.2 975.4L1717.1 975.4L1712.9 975.5L1708.8 975.6L1704.7 975.6L1700.6 975.8L1696.5 975.9L1692.3 976L1688.2 976.1L1684.1 976.3L1680 976.4L1675.9 976.6L1671.8 976.8L1667.6 977L1663.5 977.3L1659.4 977.5L1655.3 977.8L1651.2 978.1L1647.1 978.4L1642.9 978.7L1638.8 979L1634.7 979.4L1630.6 979.8L1626.5 980.2L1622.3 980.6L1618.2 981.1L1614.1 981.6L1610 982.1L1605.9 982.6L1601.8 983.1L1597.6 983.7L1593.5 984.3L1589.4 984.9L1585.3 985.6L1581.2 986.3L1577.1 987L1572.9 987.8L1568.8 988.6L1564.7 989.4L1560.6 990.3L1556.5 991.3L1552.3 992.3L1548.2 993.3L1544.1 994.4L1540 995.6L1535.9 996.8L1531.8 998L1527.6 999.3L1523.5 1000.6L1519.4 1002L1515.3 1003.4L1511.2 1005L1507.1 1006.6L1502.9 1008.3L1498.8 1010.1L1494.7 1011.9L1490.6 1013.8L1486.5 1015.8L1482.4 1017.9L1478.2 1020.1L1474.1 1022.3L1470 1024.6L1465.9 1027L1461.8 1029.5L1457.6 1032.1L1453.5 1034.9L1449.4 1037.7L1445.3 1040.7L1441.2 1043.8L1437.1 1047.1L1432.9 1050.4L1428.8 1053.9L1424.7 1057.5L1420.6 1061.3L1416.5 1065.2L1412.4 1069.3L1408.2 1073.6L1404.1 1078.1L1400 1082.8L1395.9 1087.7L1391.8 1092.8L1387.6 1098.1L1383.5 1103.5L1379.4 1109.2L1375.3 1115L1371.2 1121.1L1367.1 1127.6L1362.9 1134.6L1358.8 1141.9L1354.7 1149.4L1350.6 1157.2L1346.5 1165.1L1342.4 1173L1338.2 1181L1334.1 1188.8L1330 1196.4L1325.9 1204L1321.8 1211.6L1317.6 1219.2L1313.5 1226.9L1309.4 1234.5L1305.3 1242.1L1301.2 1249.7L1297.1 1257.2L1292.9 1264.7L1288.8 1272.1L1284.7 1279.4L1280.6 1286.7L1276.5 1294L1272.4 1301.3L1268.2 1308.5L1264.1 1315.5L1260 1322.5" stroke="#0000f5" stroke-width="6.5"/><path d="M1260 1414.3L1264.1 1369.2L1268.2 1338.2L1272.4 1317.4L1276.5 1304.1L1280.6 1295.8L1284.7 1290.9L1288.8 1288.2L1292.9 1286.8L1297.1 1286.2L1301.2 1286L1305.3 1285.9L1309.4 1285.9L1313.5 1285.9L1317.7 1285.9L1321.8 1286L1325.9 1286.4L1330 1287.2L1334.1 1288.2L1338.3 1289.4L1342.4 1290.8L1346.5 1292.4L1350.6 1294.2L1354.7 1296.2L1358.8 1298.3L1363 1300.6L1367.1 1303L1371.2 1305.6L1375.3 1308.3L1379.4 1311.2L1383.6 1314.2L1387.7 1317.4L1391.8 1320.7L1395.9 1324.1L1400 1327.7L1404.1 1331.4L1408.3 1335.2L1412.4 1339.1L1416.5 1343.2L1420.6 1347.4L1424.7 1351.7L1428.9 1356.2L1433 1360.7L1437.1 1365.4L1441.2 1370.2L1445.3 1375.1L1449.5 1380.1L1453.6 1385.2L1457.7 1390.4L1461.8 1395.8L1465.9 1401.2L1470 1406.8L1474.2 1412.5L1478.3 1418.2L1482.4 1424.1L1486.5 1430.1L1490.6 1436.2L1494.8 1442.4L1498.9 1448.7L1503 1455.1L1507.1 1461.6L1511.2 1463.2L1515.3 1463.2L1519.5 1462.2L1523.6 1456.9L1527.7 1451.9L1531.8 1447.1L1535.9 1442.5L1540.1 1437.8L1544.2 1433.2L1548.3 1428.9L1552.4 1424.7L1556.5 1420.5L1560.7 1416.1L1564.8 1411.5L1568.9 1406.6L1573 1401.4L1577.1 1396.1L1581.2 1390.5L1585.4 1384.7L1589.5 1378.7L1593.6 1372.6L1597.7 1366.2L1601.8 1359.8L1606 1353.1L1610.1 1346.4L1614.2 1339.4L1618.3 1332.1L1622.4 1324.6L1626.6 1316.9L1630.7 1309L1634.8 1301L1638.9 1292.8L1643 1284.5L1647.1 1276.2L1651.3 1267.9L1655.4 1259.3L1659.5 1250.7L1663.6 1242L1667.7 1233.2L1671.9 1224.3L1676 1215.4L1680.1 1206.5L1684.2 1197.6L1688.3 1188.6L1692.4 1179.3L1696.6 1169.9L1700.7 1160.4L1704.8 1151.1L1708.9 1141.9L1713 1133.1L1717.2 1124.8L1721.3 1117.1L1725.4 1109.9L1729.5 1102.9L1733.6 1096.2L1737.8 1089.7L1741.9 1083.5L1746 1077.5L1750.1 1071.8L1754.2 1066.4L1758.3 1061.3L1762.5 1056.5L1766.6 1051.8L1770.7 1047.3L1774.8 1043L1778.9 1038.9L1783.1 1035L1787.2 1031.3L1791.3 1027.7L1795.4 1024.4L1799.5 1021.1L1803.6 1018L1807.8 1015L1811.9 1012.1L1816 1009.4L1820.1 1006.8L1824.2 1004.4L1828.4 1002L1832.5 999.9L1836.6 997.8L1840.7 995.8L1844.8 993.9L1849 992.1L1853.1 990.4L1857.2 988.8L1861.3 987.3L1865.4 985.9L1869.5 984.6L1873.7 983.4L1877.8 982.2L1881.9 981.1L1877.8 980.2L1873.7 979.4L1869.5 978.8L1865.4 978.1L1861.3 977.5L1857.2 977L1853.1 976.6L1849 976.2L1844.8 975.8L1840.7 975.5L1836.6 975.1L1832.5 974.9L1828.4 974.6L1824.2 974.3L1820.1 974.1L1816 973.9L1811.9 973.7L1807.8 973.6L1803.6 973.4L1799.5 973.3L1795.4 973.1L1791.3 973L1787.2 972.9L1783.1 972.9L1778.9 972.8L1774.8 972.7L1770.7 972.7L1766.6 972.7L1762.5 972.6L1758.3 972.6L1754.2 972.6L1750.1 972.6L1746 972.6L1741.9 972.7L1737.8 972.7L1733.6 972.7L1729.5 972.8L1725.4 972.8L1721.3 972.9L1717.2 973L1713 973.1L1708.9 973.2L1704.8 973.3L1700.7 973.4L1696.6 973.5L1692.4 973.7L1688.3 973.8L1684.2 974L1680.1 974.1L1676 974.3L1671.9 974.5L1667.7 974.7L1663.6 974.9L1659.5 975.2L1655.4 975.4L1651.3 975.7L1647.1 975.9L1643 976.2L1638.9 976.5L1634.8 976.8L1630.7 977.1L1626.6 977.5L1622.4 977.9L1618.3 978.3L1614.2 978.7L1610.1 979.2L1606 979.7L1601.8 980.2L1597.7 980.7L1593.6 981.3L1589.5 981.9L1585.4 982.5L1581.2 983.2L1577.1 983.8L1573 984.5L1568.9 985.3L1564.8 986L1560.7 986.9L1556.5 987.7L1552.4 988.6L1548.3 989.6L1544.2 990.6L1540.1 991.7L1535.9 992.8L1531.8 994L1527.7 995.2L1523.6 996.5L1519.5 997.8L1515.3 999.2L1511.2 1000.6L1507.1 1002.1L1503 1003.6L1498.9 1005.3L1494.8 1007L1490.6 1008.8L1486.5 1010.7L1482.4 1012.7L1478.3 1014.8L1474.2 1017L1470 1019.2L1465.9 1021.5L1461.8 1023.9L1457.7 1026.4L1453.6 1028.9L1449.5 1031.7L1445.3 1034.5L1441.2 1037.4L1437.1 1040.5L1433 1043.8L1428.9 1047.1L1424.7 1050.6L1420.6 1054.2L1416.5 1057.9L1412.4 1061.8L1408.3 1065.9L1404.1 1070.1L1400 1074.6L1395.9 1079.3L1391.8 1084.2L1387.7 1089.3L1383.6 1094.5L1379.4 1100L1375.3 1105.7L1371.2 1111.5L1367.1 1117.6L1363 1124L1358.8 1130.9L1354.7 1138.2L1350.6 1145.8L1346.5 1153.6L1342.4 1161.6L1338.3 1169.7L1334.1 1177.8L1330 1185.8L1325.9 1193.6L1321.8 1201.3L1317.7 1209L1313.5 1216.8L1309.4 1224.5L1305.3 1232.3L1301.2 1240L1297.1 1247.7L1292.9 1255.3L1288.8 1262.9L1284.7 1270.4L1280.6 1277.8L1276.5 1285.2L1272.4 1292.6L1268.2 1299.9L1264.1 1307.1L1260 1314.3" stroke="#0000ff" stroke-width="6.5"/></g>
<rect x="1259" y="903.6" width="831.8" height="611.6" fill="none" stroke="#000" stroke-width="4.6"/>
<path d="M1256.7 1492.2h10.5M1256.7 1478.7h10.5M1256.7 1469.2h10.5M1256.7 1461.8h10.5M1256.7 1455.7h10.5M1256.7 1450.6h10.5M1256.7 1446.2h10.5M1256.7 1442.2h10.5M1256.7 1438.8h17M1256.7 1415.7h10.5M1256.7 1402.3h10.5M1256.7 1392.7h10.5M1256.7 1385.3h10.5M1256.7 1379.3h10.5M1256.7 1374.1h10.5M1256.7 1369.7h10.5M1256.7 1365.8h10.5M1256.7 1362.3h17M1256.7 1339.3h10.5M1256.7 1325.8h10.5M1256.7 1316.3h10.5M1256.7 1308.9h10.5M1256.7 1302.8h10.5M1256.7 1297.7h10.5M1256.7 1293.3h10.5M1256.7 1289.3h10.5M1256.7 1285.8h17M1256.7 1262.8h10.5M1256.7 1249.4h10.5M1256.7 1239.8h10.5M1256.7 1232.4h10.5M1256.7 1226.4h10.5M1256.7 1221.2h10.5M1256.7 1216.8h10.5M1256.7 1212.9h10.5M1256.7 1209.4h17M1256.7 1186.4h10.5M1256.7 1172.9h10.5M1256.7 1163.4h10.5M1256.7 1156h10.5M1256.7 1149.9h10.5M1256.7 1144.8h10.5M1256.7 1140.4h10.5M1256.7 1136.4h10.5M1256.7 1133h17M1256.7 1109.9h10.5M1256.7 1096.5h10.5M1256.7 1086.9h10.5M1256.7 1079.5h10.5M1256.7 1073.5h10.5M1256.7 1068.3h10.5M1256.7 1063.9h10.5M1256.7 1060h10.5M1256.7 1056.5h17M1256.7 1033.5h10.5M1256.7 1020h10.5M1256.7 1010.5h10.5M1256.7 1003.1h10.5M1256.7 997h10.5M1256.7 991.9h10.5M1256.7 987.5h10.5M1256.7 983.5h10.5M1256.7 980.1h17M1256.7 957h10.5M1256.7 943.6h10.5M1256.7 934h10.5M1256.7 926.6h10.5M1256.7 920.6h10.5M1256.7 915.4h10.5M1256.7 911h10.5M1256.7 907.1h10.5" stroke="#000" stroke-width="4" fill="none"/>
<path d="M1467.3 1515.2v-15M1674.6 1515.2v-15M1881.9 1515.2v-15" stroke="#000" stroke-width="4" fill="none"/>
<text x="1182" y="918.1" font-size="37" textLength="45" lengthAdjust="spacingAndGlyphs">10</text>
<text x="1228" y="900.1" font-size="21" textLength="18" lengthAdjust="spacingAndGlyphs">-3</text>
<text x="1182" y="1071" font-size="37" textLength="45" lengthAdjust="spacingAndGlyphs">10</text>
<text x="1228" y="1053" font-size="21" textLength="18" lengthAdjust="spacingAndGlyphs">-5</text>
<text x="1182" y="1223.9" font-size="37" textLength="45" lengthAdjust="spacingAndGlyphs">10</text>
<text x="1228" y="1205.9" font-size="21" textLength="18" lengthAdjust="spacingAndGlyphs">-7</text>
<text x="1182" y="1376.8" font-size="37" textLength="45" lengthAdjust="spacingAndGlyphs">10</text>
<text x="1228" y="1358.8" font-size="21" textLength="18" lengthAdjust="spacingAndGlyphs">-9</text>
<text x="1169" y="1529.7" font-size="37" textLength="45" lengthAdjust="spacingAndGlyphs">10</text>
<text x="1215" y="1511.7" font-size="21" textLength="31" lengthAdjust="spacingAndGlyphs">-11</text>
<text x="1244.5" y="1553.5" font-size="37" textLength="36" lengthAdjust="spacingAndGlyphs">-5</text>
<text x="1458.8" y="1553.5" font-size="37" textLength="22" lengthAdjust="spacingAndGlyphs">0</text>
<text x="1666.1" y="1553.5" font-size="37" textLength="22" lengthAdjust="spacingAndGlyphs">5</text>
<text x="1862.4" y="1553.5" font-size="37" textLength="44" lengthAdjust="spacingAndGlyphs">10</text>
<text x="2069.7" y="1553.5" font-size="37" textLength="44" lengthAdjust="spacingAndGlyphs">15</text>
<text x="1609" y="1606" font-size="47" textLength="139.5" lengthAdjust="spacingAndGlyphs">V<tspan font-size="24" dy="20" dx="4">G</tspan><tspan dy="-20" dx="8">(V)</tspan></text>
<text x="1140" y="1242" font-size="51" textLength="121" lengthAdjust="spacingAndGlyphs" transform="rotate(-90 1140 1242)">I<tspan font-size="25" dy="21" dx="2">D</tspan><tspan dy="-21" dx="6">(A)</tspan></text>
<text x="1243" y="864" font-size="75">(d)</text>
<text x="1281.8" y="969.7" font-size="58" fill="#0000ff" font-weight="bold" textLength="236" lengthAdjust="spacingAndGlyphs">n-region</text>
<text x="1910.6" y="951" font-size="40" textLength="162" lengthAdjust="spacingAndGlyphs">V<tspan font-size="21" dy="14" dx="2">D</tspan><tspan dy="-14"> = 1 V</tspan></text>
<text x="1794" y="1118.5" font-size="40" fill="#1a1a1a" textLength="50" lengthAdjust="spacingAndGlyphs">(1)</text>
<text x="1320.6" y="1060" font-size="40" fill="#1a1a1a" textLength="49" lengthAdjust="spacingAndGlyphs">(2)</text>
<line x1="1719.7" y1="1168.5" x2="1804.2" y2="1050.8" stroke="#000" stroke-width="3.6"/><path d="M1817.6 1032.1L1808.7 1056.5L1803 1052.4L1797.3 1048.3Z" fill="#000"/>
<line x1="1455.2" y1="981.8" x2="1354.4" y2="1099.2" stroke="#000" stroke-width="3.6"/><path d="M1339.4 1116.7L1350.4 1093.2L1355.7 1097.7L1361 1102.3Z" fill="#000"/>
<text x="1812" y="1316.7" font-size="48" textLength="130.4" lengthAdjust="spacingAndGlyphs">V<tspan font-size="31" dy="10">G-Max</tspan></text>
<text x="1769.7" y="1369.7" font-size="40" textLength="225.8" lengthAdjust="spacingAndGlyphs">(0.5 V step)</text>
<text x="1721" y="1448.5" font-size="44" textLength="98.7" lengthAdjust="spacingAndGlyphs">- 5 V</text>
<text x="1938" y="1448.5" font-size="44" fill="#0000ff" textLength="94" lengthAdjust="spacingAndGlyphs">10 V</text>
<defs><linearGradient id="gArrD" x1="0" x2="1" y1="0" y2="0"><stop offset="0" stop-color="#000018"/><stop offset="0.6" stop-color="#0000f0"/><stop offset="1" stop-color="#0000ff"/></linearGradient></defs>
<path d="M1918.8 1429.4L1878.2 1386.4V1406.7H1838.5V1451H1878.2V1473.6Z" fill="url(#gArrD)"/>
<path d="M172.5 1761.4H995.2M187 2343.5H995.2" stroke="#000" stroke-width="5" fill="none"/>
<path d="M175 1763.9V2343.5H188.5" stroke="#ff0000" stroke-width="5" fill="none"/>
<path d="M994.7 1761.4H1007.2V2343.5H994.7" stroke="#0000ff" stroke-width="5" fill="none"/>
<path d="M175 1906.9h15M175 2052.4h15M175 2198h15M175 1834.2h9M175 1979.7h9M175 2125.2h9M175 2270.7h9" stroke="#ff0000" stroke-width="4.4" fill="none"/>
<path d="M1007.2 2052.4h-12.5M1007.2 1906.9h-8M1007.2 2198h-8" stroke="#0000ff" stroke-width="4.4" fill="none"/>
<path d="M234.3 2343.5v-14M471.9 2343.5v-14M709.5 2343.5v-14M947.1 2343.5v-14" stroke="#000" stroke-width="4.2" fill="none"/>
<path d="M679.6 1789V2342" stroke="#000" stroke-width="2.6" stroke-dasharray="11.5 12.4" fill="none"/>
<text x="127" y="1769.7" font-size="36" fill="#ff0000" textLength="40" lengthAdjust="spacingAndGlyphs">10</text>
<text x="146" y="1915.2" font-size="36" fill="#ff0000" textLength="21" lengthAdjust="spacingAndGlyphs">5</text>
<text x="146" y="2060.8" font-size="36" fill="#ff0000" textLength="21" lengthAdjust="spacingAndGlyphs">0</text>
<text x="133" y="2206.3" font-size="36" fill="#ff0000" textLength="34" lengthAdjust="spacingAndGlyphs">-5</text>
<text x="113" y="2351.8" font-size="36" fill="#ff0000" textLength="54" lengthAdjust="spacingAndGlyphs">-10</text>
<text x="1017.5" y="1769.7" font-size="36" fill="#0000ff" textLength="43" lengthAdjust="spacingAndGlyphs">10</text>
<text x="1017.5" y="2060.8" font-size="36" fill="#0000ff" textLength="21" lengthAdjust="spacingAndGlyphs">5</text>
<text x="1017.5" y="2351.8" font-size="36" fill="#0000ff" textLength="21" lengthAdjust="spacingAndGlyphs">0</text>
<text x="207.3" y="2377.5" font-size="36" textLength="56" lengthAdjust="spacingAndGlyphs">-12</text>
<text x="444.4" y="2377.5" font-size="36" textLength="57" lengthAdjust="spacingAndGlyphs">-10</text>
<text x="693.5" y="2377.5" font-size="36" textLength="34" lengthAdjust="spacingAndGlyphs">-8</text>
<text x="930.6" y="2377.5" font-size="36" textLength="35" lengthAdjust="spacingAndGlyphs">-6</text>
<polyline points="234.3,1986.4 293.7,1986.4 353.1,1986.4 412.5,1986.4 471.9,1986.4 531.3,1986.6 590.7,1987.6 650.1,1988.6" fill="none" stroke="#0000ff" stroke-width="5.5" stroke-dasharray="6.5 6.5"/><polyline points="709.5,1999.7 768.9,2023.3 828.3,2057.8 887.7,2110.2 947.1,2168.3" fill="none" stroke="#0000ff" stroke-width="5.5" stroke-dasharray="6.5 6.5"/>
<polyline points="234.3,2240 293.7,2239.6 353.1,2239 412.5,2238.4 471.9,2237.2 531.3,2236.4 590.7,2234.4 650.1,2233.3 709.5,2232 768.9,2230.4 828.3,2229.5 887.7,2228 947.1,2226.4" fill="none" stroke="#ff0000" stroke-width="5.5" stroke-dasharray="6.5 6.5"/>
<circle cx="234.3" cy="1986.4" r="12.2" stroke="#0000ff" stroke-width="9.2" fill="#fff"/>
<circle cx="293.7" cy="1986.4" r="12.2" stroke="#0000ff" stroke-width="9.2" fill="#fff"/>
<circle cx="353.1" cy="1986.4" r="12.2" stroke="#0000ff" stroke-width="9.2" fill="#fff"/>
<circle cx="412.5" cy="1986.4" r="12.2" stroke="#0000ff" stroke-width="9.2" fill="#fff"/>
<circle cx="471.9" cy="1986.4" r="12.2" stroke="#0000ff" stroke-width="9.2" fill="#fff"/>
<circle cx="531.3" cy="1986.6" r="12.2" stroke="#0000ff" stroke-width="9.2" fill="#fff"/>
<circle cx="590.7" cy="1987.6" r="12.2" stroke="#0000ff" stroke-width="9.2" fill="#fff"/>
<circle cx="650.1" cy="1988.6" r="12.2" stroke="#0000ff" stroke-width="9.2" fill="#fff"/>
<circle cx="709.5" cy="1999.7" r="12.2" stroke="#0000ff" stroke-width="9.2" fill="#fff"/>
<circle cx="768.9" cy="2023.3" r="12.2" stroke="#0000ff" stroke-width="9.2" fill="#fff"/>
<circle cx="828.3" cy="2057.8" r="12.2" stroke="#0000ff" stroke-width="9.2" fill="#fff"/>
<circle cx="887.7" cy="2110.2" r="12.2" stroke="#0000ff" stroke-width="9.2" fill="#fff"/>
<circle cx="947.1" cy="2168.3" r="12.2" stroke="#0000ff" stroke-width="9.2" fill="#fff"/>
<circle cx="234.3" cy="2240" r="12.6" stroke="#ff0000" stroke-width="8.2" fill="#fff"/>
<circle cx="293.7" cy="2239.6" r="12.6" stroke="#ff0000" stroke-width="8.2" fill="#fff"/>
<circle cx="353.1" cy="2239" r="12.6" stroke="#ff0000" stroke-width="8.2" fill="#fff"/>
<circle cx="412.5" cy="2238.4" r="12.6" stroke="#ff0000" stroke-width="8.2" fill="#fff"/>
<circle cx="471.9" cy="2237.2" r="12.6" stroke="#ff0000" stroke-width="8.2" fill="#fff"/>
<circle cx="531.3" cy="2236.4" r="12.6" stroke="#ff0000" stroke-width="8.2" fill="#fff"/>
<circle cx="590.7" cy="2234.4" r="12.6" stroke="#ff0000" stroke-width="8.2" fill="#fff"/>
<circle cx="650.1" cy="2233.3" r="12.6" stroke="#ff0000" stroke-width="8.2" fill="#fff"/>
<circle cx="709.5" cy="2232" r="12.6" stroke="#ff0000" stroke-width="8.2" fill="#fff"/>
<circle cx="768.9" cy="2230.4" r="12.6" stroke="#ff0000" stroke-width="8.2" fill="#fff"/>
<circle cx="828.3" cy="2229.5" r="12.6" stroke="#ff0000" stroke-width="8.2" fill="#fff"/>
<circle cx="887.7" cy="2228" r="12.6" stroke="#ff0000" stroke-width="8.2" fill="#fff"/>
<circle cx="947.1" cy="2226.4" r="12.6" stroke="#ff0000" stroke-width="8.2" fill="#fff"/>
<line x1="602.8" y1="2038.8" x2="428" y2="2038.6" stroke="#0000ff" stroke-width="2.2"/><path d="M418 2038.6L430 2035.4L430 2038.6L430 2041.9Z" fill="#0000ff"/>
<line x1="846" y1="2144.7" x2="735.7" y2="2069.4" stroke="#0000ff" stroke-width="2.2"/><path d="M727.4 2063.8L739.1 2067.9L737.3 2070.6L735.5 2073.2Z" fill="#0000ff"/>
<text x="160.5" y="1717" font-size="75">(e)</text>
<text x="193.3" y="1803.6" font-size="45" fill="#ff0000" font-weight="bold" textLength="176.5" lengthAdjust="spacingAndGlyphs">p-region</text>
<text x="196.4" y="1843.6" font-size="31" fill="#1f1fff" textLength="334" lengthAdjust="spacingAndGlyphs">Hysteresis (saturation)</text>
<text x="196.4" y="1903.6" font-size="31" fill="#1f1fff" textLength="269" lengthAdjust="spacingAndGlyphs">Slope = - 0.02 V/V</text>
<text x="196.4" y="1952" font-size="31" fill="#1f1fff" textLength="155" lengthAdjust="spacingAndGlyphs"><tspan font-style="italic">R</tspan><tspan font-size="18" dy="-14">2</tspan><tspan dy="14"> = 99.23</tspan></text>
<text x="697" y="1805.1" font-size="31" fill="#1f1fff" textLength="271.4" lengthAdjust="spacingAndGlyphs">Hysteresis (linear)</text>
<text x="697" y="1862.6" font-size="31" fill="#1f1fff" textLength="271.4" lengthAdjust="spacingAndGlyphs">Slope = - 1.46 V/V</text>
<text x="698" y="1910.3" font-size="31" fill="#1f1fff" textLength="156" lengthAdjust="spacingAndGlyphs"><tspan font-style="italic">R</tspan><tspan font-size="18" dy="-14">2</tspan><tspan dy="14"> = 97.03</tspan></text>
<text x="329" y="2426.4" font-size="40" textLength="572" lengthAdjust="spacingAndGlyphs">Minimum gate voltage (V<tspan font-size="19" dy="17" letter-spacing="1.6">G-Min</tspan><tspan dy="-17">)</tspan></text>
<text x="97" y="2118" font-size="49" fill="#ff0000" textLength="137" lengthAdjust="spacingAndGlyphs" transform="rotate(-90 97 2118)">V<tspan font-size="30" dy="19">th</tspan><tspan dy="-19" dx="8">(V)</tspan></text>
<text x="1097" y="2276.5" font-size="49" fill="#0000ff" textLength="486" lengthAdjust="spacingAndGlyphs" transform="rotate(-90 1097 2276.5)">Hysteresis window (V)</text>
<path d="M1254 1759.7H2076.8M1268.5 2340.9H2076.8" stroke="#000" stroke-width="5" fill="none"/>
<path d="M1256.5 1762.2V2340.9H1270" stroke="#ff0000" stroke-width="5" fill="none"/>
<path d="M2076.3 1759.7H2088.8V2340.9H2076.3" stroke="#0000ff" stroke-width="5" fill="none"/>
<path d="M1256.5 2050.3h15M1256.5 1905h9M1256.5 2195.6h9" stroke="#ff0000" stroke-width="4.4" fill="none"/>
<path d="M2088.8 2050.3h-12.5M2088.8 1905h-8M2088.8 2195.6h-8" stroke="#0000ff" stroke-width="4.4" fill="none"/>
<path d="M1293.4 2340.9v-14M1444.8 2340.9v-14M1596.3 2340.9v-14M1747.7 2340.9v-14M1899.2 2340.9v-14M2050.6 2340.9v-14" stroke="#000" stroke-width="4.2" fill="none"/>
<path d="M1728.9 1780V2339" stroke="#000" stroke-width="2.6" stroke-dasharray="11.5 12.4" fill="none"/>
<text x="1207" y="1768" font-size="36" fill="#ff0000" textLength="40" lengthAdjust="spacingAndGlyphs">10</text>
<text x="1226" y="2058.6" font-size="36" fill="#ff0000" textLength="21" lengthAdjust="spacingAndGlyphs">5</text>
<text x="1226" y="2349.2" font-size="36" fill="#ff0000" textLength="21" lengthAdjust="spacingAndGlyphs">0</text>
<text x="2097" y="1768" font-size="36" fill="#0000ff" textLength="40" lengthAdjust="spacingAndGlyphs">10</text>
<text x="2097" y="2058.6" font-size="36" fill="#0000ff" textLength="21" lengthAdjust="spacingAndGlyphs">5</text>
<text x="2097" y="2349.2" font-size="36" fill="#0000ff" textLength="21" lengthAdjust="spacingAndGlyphs">0</text>
<text x="1283.4" y="2375" font-size="36" textLength="22" lengthAdjust="spacingAndGlyphs">0</text>
<text x="1434.8" y="2375" font-size="36" textLength="22" lengthAdjust="spacingAndGlyphs">2</text>
<text x="1586.3" y="2375" font-size="36" textLength="22" lengthAdjust="spacingAndGlyphs">4</text>
<text x="1737.7" y="2375" font-size="36" textLength="22" lengthAdjust="spacingAndGlyphs">6</text>
<text x="1889.2" y="2375" font-size="36" textLength="22" lengthAdjust="spacingAndGlyphs">8</text>
<text x="2031.6" y="2375" font-size="36" textLength="40" lengthAdjust="spacingAndGlyphs">10</text>
<polyline points="1444.8,2078.8 1482.7,2050.9 1520.6,2034 1558.4,2016 1596.3,1993.3 1634.1,1977.7 1672,1960.8 1709.9,1946.8 1747.7,1934.1" fill="none" stroke="#0000ff" stroke-width="4.4" stroke-dasharray="7 18"/>
<polyline points="1520.6,2256.1 1558.4,2254.9 1596.3,2253.7 1634.1,2258.5 1672,2259.1 1709.9,2259.8 1747.7,2261.6" fill="none" stroke="#ff0000" stroke-width="4.4" stroke-dasharray="7 18"/>
<circle cx="1293.4" cy="2192.7" r="9.7" stroke="#0000ff" stroke-width="6.4" fill="#fff"/>
<circle cx="1331.3" cy="2167.1" r="9.7" stroke="#0000ff" stroke-width="6.4" fill="#fff"/>
<circle cx="1369.1" cy="2136.3" r="9.7" stroke="#0000ff" stroke-width="6.4" fill="#fff"/>
<circle cx="1407" cy="2107.3" r="9.7" stroke="#0000ff" stroke-width="6.4" fill="#fff"/>
<circle cx="1444.8" cy="2078.8" r="9.7" stroke="#0000ff" stroke-width="6.4" fill="#fff"/>
<circle cx="1482.7" cy="2050.9" r="9.7" stroke="#0000ff" stroke-width="6.4" fill="#fff"/>
<circle cx="1520.6" cy="2034" r="9.7" stroke="#0000ff" stroke-width="6.4" fill="#fff"/>
<circle cx="1558.4" cy="2016" r="9.7" stroke="#0000ff" stroke-width="6.4" fill="#fff"/>
<circle cx="1596.3" cy="1993.3" r="9.7" stroke="#0000ff" stroke-width="6.4" fill="#fff"/>
<circle cx="1634.1" cy="1977.7" r="9.7" stroke="#0000ff" stroke-width="6.4" fill="#fff"/>
<circle cx="1672" cy="1960.8" r="9.7" stroke="#0000ff" stroke-width="6.4" fill="#fff"/>
<circle cx="1709.9" cy="1946.8" r="9.7" stroke="#0000ff" stroke-width="6.4" fill="#fff"/>
<circle cx="1747.7" cy="1934.1" r="9.7" stroke="#0000ff" stroke-width="6.4" fill="#fff"/>
<circle cx="1785.6" cy="1927.7" r="9.7" stroke="#0000ff" stroke-width="6.4" fill="#fff"/>
<circle cx="1823.4" cy="1925.3" r="9.7" stroke="#0000ff" stroke-width="6.4" fill="#fff"/>
<circle cx="1861.3" cy="1923.6" r="9.7" stroke="#0000ff" stroke-width="6.4" fill="#fff"/>
<circle cx="1899.2" cy="1921.9" r="9.7" stroke="#0000ff" stroke-width="6.4" fill="#fff"/>
<circle cx="1937" cy="1920.1" r="9.7" stroke="#0000ff" stroke-width="6.4" fill="#fff"/>
<circle cx="1974.9" cy="1918.9" r="9.7" stroke="#0000ff" stroke-width="6.4" fill="#fff"/>
<circle cx="2012.7" cy="1918.4" r="9.7" stroke="#0000ff" stroke-width="6.4" fill="#fff"/>
<circle cx="2050.6" cy="1917.8" r="9.7" stroke="#0000ff" stroke-width="6.4" fill="#fff"/>
<circle cx="1293.4" cy="2259.8" r="9.9" stroke="#ff0000" stroke-width="5.8" fill="#fff"/>
<circle cx="1331.3" cy="2258.5" r="9.9" stroke="#ff0000" stroke-width="5.8" fill="#fff"/>
<circle cx="1369.1" cy="2258.5" r="9.9" stroke="#ff0000" stroke-width="5.8" fill="#fff"/>
<circle cx="1407" cy="2258.5" r="9.9" stroke="#ff0000" stroke-width="5.8" fill="#fff"/>
<circle cx="1444.8" cy="2257.3" r="9.9" stroke="#ff0000" stroke-width="5.8" fill="#fff"/>
<circle cx="1482.7" cy="2256.7" r="9.9" stroke="#ff0000" stroke-width="5.8" fill="#fff"/>
<circle cx="1520.6" cy="2256.1" r="9.9" stroke="#ff0000" stroke-width="5.8" fill="#fff"/>
<circle cx="1558.4" cy="2254.9" r="9.9" stroke="#ff0000" stroke-width="5.8" fill="#fff"/>
<circle cx="1596.3" cy="2253.7" r="9.9" stroke="#ff0000" stroke-width="5.8" fill="#fff"/>
<circle cx="1634.1" cy="2258.5" r="9.9" stroke="#ff0000" stroke-width="5.8" fill="#fff"/>
<circle cx="1672" cy="2259.1" r="9.9" stroke="#ff0000" stroke-width="5.8" fill="#fff"/>
<circle cx="1709.9" cy="2259.8" r="9.9" stroke="#ff0000" stroke-width="5.8" fill="#fff"/>
<circle cx="1747.7" cy="2261.6" r="9.9" stroke="#ff0000" stroke-width="5.8" fill="#fff"/>
<circle cx="1785.6" cy="2264" r="9.9" stroke="#ff0000" stroke-width="5.8" fill="#fff"/>
<circle cx="1823.4" cy="2265.9" r="9.9" stroke="#ff0000" stroke-width="5.8" fill="#fff"/>
<circle cx="1861.3" cy="2268.9" r="9.9" stroke="#ff0000" stroke-width="5.8" fill="#fff"/>
<circle cx="1899.2" cy="2271.3" r="9.9" stroke="#ff0000" stroke-width="5.8" fill="#fff"/>
<circle cx="1937" cy="2272.6" r="9.9" stroke="#ff0000" stroke-width="5.8" fill="#fff"/>
<circle cx="1974.9" cy="2274.4" r="9.9" stroke="#ff0000" stroke-width="5.8" fill="#fff"/>
<circle cx="2012.7" cy="2275.6" r="9.9" stroke="#ff0000" stroke-width="5.8" fill="#fff"/>
<circle cx="2050.6" cy="2276.8" r="9.9" stroke="#ff0000" stroke-width="5.8" fill="#fff"/>
<line x1="1829.4" y1="1965" x2="1966" y2="1963.9" stroke="#0000ff" stroke-width="2.2"/><path d="M1976 1963.8L1964 1967.1L1964 1963.9L1964 1960.6Z" fill="#0000ff"/>
<line x1="1533.1" y1="2078.3" x2="1656.4" y2="2004" stroke="#0000ff" stroke-width="2.2"/><path d="M1665 1998.8L1656.4 2007.8L1654.7 2005L1653 2002.2Z" fill="#0000ff"/>
<text x="1248" y="1717.5" font-size="75">(f)</text>
<text x="1273.6" y="1802.6" font-size="45" fill="#0000ff" font-weight="bold" textLength="178" lengthAdjust="spacingAndGlyphs">n-region</text>
<text x="1273.6" y="1848.7" font-size="31" fill="#1f1fff" textLength="336.4" lengthAdjust="spacingAndGlyphs">Hysteresis (saturation)</text>
<text x="1273.6" y="1906.2" font-size="31" fill="#1f1fff" textLength="250" lengthAdjust="spacingAndGlyphs">Slope = 0.77 V/V</text>
<text x="1274" y="1953.9" font-size="31" fill="#1f1fff" textLength="155.6" lengthAdjust="spacingAndGlyphs"><tspan font-style="italic">R</tspan><tspan font-size="18" dy="-14">2</tspan><tspan dy="14"> = 98.33</tspan></text>
<text x="1739.3" y="1794.2" font-size="31" fill="#1f1fff" textLength="335.8" lengthAdjust="spacingAndGlyphs">Hysteresis (saturation)</text>
<text x="1739.3" y="1853.2" font-size="31" fill="#1f1fff" textLength="249.5" lengthAdjust="spacingAndGlyphs">Slope = 0.06 V/V</text>
<text x="1740.5" y="1900.9" font-size="31" fill="#1f1fff" textLength="136" lengthAdjust="spacingAndGlyphs"><tspan font-style="italic">R</tspan><tspan font-size="18" dy="-14">2</tspan><tspan dy="14"> = 99.5</tspan></text>
<text x="1401.3" y="2423.5" font-size="40" textLength="591.3" lengthAdjust="spacingAndGlyphs">Maximum gate voltage (V<tspan font-size="19" dy="17" letter-spacing="1.6">G-Max</tspan><tspan dy="-17">)</tspan></text>
<text x="1178.5" y="2116" font-size="49" fill="#ff0000" textLength="137" lengthAdjust="spacingAndGlyphs" transform="rotate(-90 1178.5 2116)">V<tspan font-size="30" dy="19">th</tspan><tspan dy="-19" dx="8">(V)</tspan></text>
<text x="2178.4" y="2274" font-size="49" fill="#0000ff" textLength="486" lengthAdjust="spacingAndGlyphs" transform="rotate(-90 2178.4 2274)">Hysteresis window (V)</text>
</svg>
</body>
</html>
